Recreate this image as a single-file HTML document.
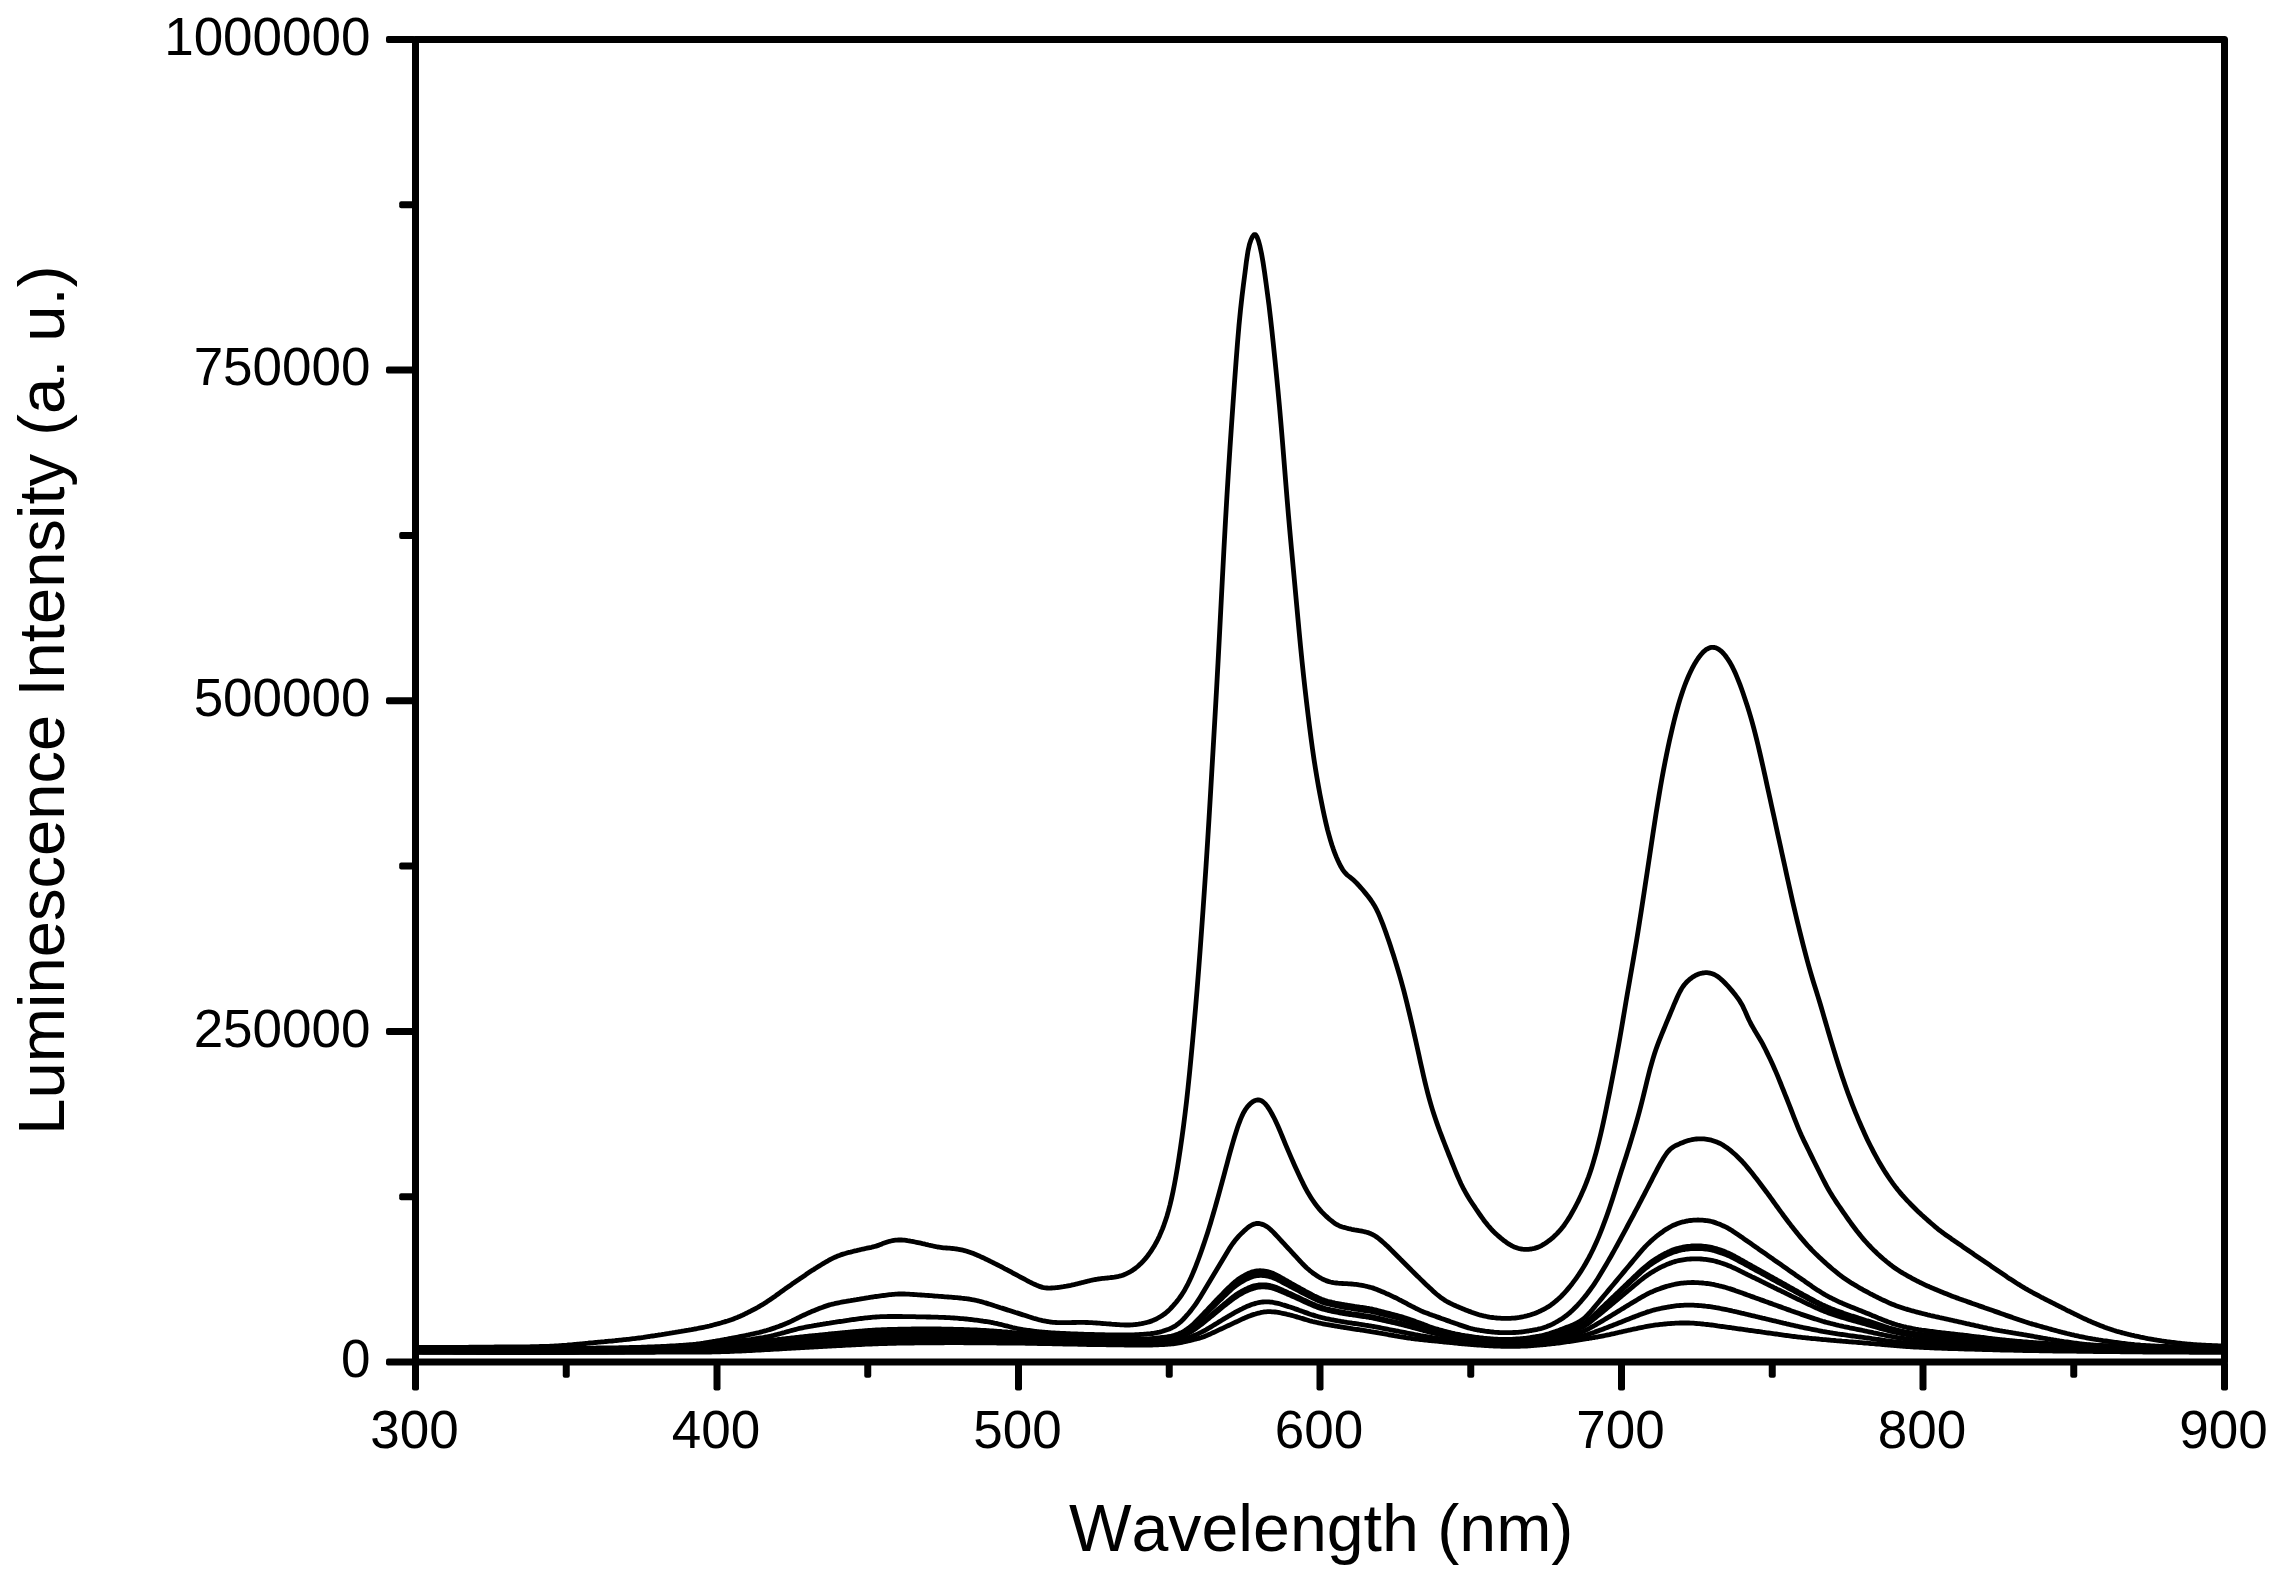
<!DOCTYPE html>
<html><head><meta charset="utf-8"><title>Luminescence spectra</title>
<style>
html,body{margin:0;padding:0;background:#fff;}
body{width:2283px;height:1584px;overflow:hidden;}
svg{display:block;}
text{font-kerning:none;font-family:"Liberation Sans",Arial,Helvetica,sans-serif;fill:#000;}
.ax{stroke:#000;stroke-width:7.0;fill:none;stroke-linecap:round;stroke-linejoin:round;}
.cv{stroke:#000;stroke-width:4.8;fill:none;stroke-linejoin:round;stroke-linecap:butt;}
.tl{font-size:53px;}
.al{font-size:65.5px;}
</style></head><body>
<svg width="2283" height="1584" viewBox="0 0 2283 1584">
<rect x="0" y="0" width="2283" height="1584" fill="#fff"/>
<clipPath id="pc"><rect x="415.5" y="39.5" width="1809.0" height="1322.5"/></clipPath>
<g clip-path="url(#pc)">
<path class="cv" d="M415.5,1347.5 L417.0,1347.5 L418.5,1347.5 L420.0,1347.5 L421.5,1347.5 L423.0,1347.5 L424.5,1347.5 L426.0,1347.5 L427.5,1347.5 L429.0,1347.5 L430.5,1347.5 L432.0,1347.5 L433.5,1347.5 L435.0,1347.5 L436.5,1347.5 L438.0,1347.4 L439.5,1347.4 L441.0,1347.4 L442.5,1347.4 L444.0,1347.4 L445.5,1347.4 L447.0,1347.4 L448.5,1347.4 L450.0,1347.4 L451.5,1347.4 L453.0,1347.4 L454.5,1347.4 L456.0,1347.3 L457.5,1347.3 L459.0,1347.3 L460.5,1347.3 L462.0,1347.3 L463.5,1347.3 L465.0,1347.3 L466.5,1347.3 L468.0,1347.3 L469.5,1347.2 L471.0,1347.2 L472.5,1347.2 L474.0,1347.2 L475.5,1347.2 L477.0,1347.2 L478.5,1347.2 L480.0,1347.2 L481.5,1347.2 L483.0,1347.1 L484.5,1347.1 L486.0,1347.1 L487.5,1347.1 L489.0,1347.1 L490.5,1347.1 L492.0,1347.1 L493.5,1347.1 L495.0,1347.0 L496.5,1347.0 L498.0,1347.0 L499.5,1347.0 L501.0,1347.0 L502.5,1347.0 L504.0,1347.0 L505.5,1347.0 L507.0,1347.0 L508.5,1346.9 L510.0,1346.9 L511.5,1346.9 L513.0,1346.9 L514.5,1346.9 L516.0,1346.9 L517.5,1346.9 L519.0,1346.9 L520.5,1346.9 L522.0,1346.8 L523.5,1346.8 L525.0,1346.8 L526.5,1346.8 L528.0,1346.8 L529.5,1346.8 L531.0,1346.7 L532.5,1346.7 L534.0,1346.7 L535.5,1346.7 L537.0,1346.6 L538.5,1346.6 L540.0,1346.5 L541.5,1346.5 L543.0,1346.5 L544.5,1346.4 L546.0,1346.4 L547.5,1346.3 L549.0,1346.3 L550.5,1346.2 L552.0,1346.1 L553.5,1346.1 L555.0,1346.0 L556.5,1345.9 L558.0,1345.8 L559.5,1345.7 L561.0,1345.6 L562.5,1345.5 L564.0,1345.4 L565.5,1345.3 L567.0,1345.2 L568.5,1345.0 L570.0,1344.9 L571.5,1344.8 L573.0,1344.6 L574.5,1344.5 L576.0,1344.4 L577.5,1344.2 L579.0,1344.1 L580.5,1343.9 L582.0,1343.8 L583.5,1343.6 L585.0,1343.5 L586.5,1343.3 L588.0,1343.2 L589.5,1343.0 L591.0,1342.9 L592.5,1342.8 L594.0,1342.6 L595.5,1342.5 L597.0,1342.4 L598.5,1342.2 L600.0,1342.1 L601.5,1341.9 L603.0,1341.8 L604.5,1341.7 L606.0,1341.5 L607.5,1341.4 L609.0,1341.2 L610.5,1341.1 L612.0,1341.0 L613.5,1340.8 L615.0,1340.7 L616.5,1340.5 L618.0,1340.4 L619.5,1340.2 L621.0,1340.1 L622.5,1339.9 L624.0,1339.7 L625.5,1339.6 L627.0,1339.4 L628.5,1339.3 L630.0,1339.1 L631.5,1338.9 L633.0,1338.7 L634.5,1338.6 L636.0,1338.4 L637.5,1338.2 L639.0,1338.0 L640.5,1337.8 L642.0,1337.6 L643.5,1337.4 L645.0,1337.1 L646.5,1336.9 L648.0,1336.7 L649.5,1336.5 L651.0,1336.2 L652.5,1336.0 L654.0,1335.8 L655.5,1335.5 L657.0,1335.3 L658.5,1335.0 L660.0,1334.8 L661.5,1334.6 L663.0,1334.3 L664.5,1334.1 L666.0,1333.8 L667.5,1333.6 L669.0,1333.4 L670.5,1333.1 L672.0,1332.9 L673.5,1332.6 L675.0,1332.4 L676.5,1332.1 L678.0,1331.9 L679.5,1331.6 L681.0,1331.4 L682.5,1331.1 L684.0,1330.9 L685.5,1330.6 L687.0,1330.3 L688.5,1330.1 L690.0,1329.8 L691.5,1329.6 L693.0,1329.3 L694.5,1329.0 L696.0,1328.8 L697.5,1328.5 L699.0,1328.2 L700.5,1327.9 L702.0,1327.6 L703.5,1327.3 L705.0,1327.0 L706.5,1326.7 L708.0,1326.3 L709.5,1326.0 L711.0,1325.6 L712.5,1325.2 L714.0,1324.8 L715.5,1324.4 L717.0,1324.0 L718.5,1323.6 L720.0,1323.2 L721.5,1322.8 L723.0,1322.3 L724.5,1321.9 L726.0,1321.4 L727.5,1321.0 L729.0,1320.5 L730.5,1320.0 L732.0,1319.5 L733.5,1318.9 L735.0,1318.3 L736.5,1317.8 L738.0,1317.1 L739.5,1316.5 L741.0,1315.8 L742.5,1315.2 L744.0,1314.5 L745.5,1313.7 L747.0,1313.0 L748.5,1312.2 L750.0,1311.5 L751.5,1310.7 L753.0,1309.9 L754.5,1309.1 L756.0,1308.3 L757.5,1307.5 L759.0,1306.6 L760.5,1305.7 L762.0,1304.9 L763.5,1304.0 L765.0,1303.0 L766.5,1302.1 L768.0,1301.1 L769.5,1300.1 L771.0,1299.0 L772.5,1298.0 L774.0,1296.9 L775.5,1295.9 L777.0,1294.8 L778.5,1293.7 L780.0,1292.6 L781.5,1291.5 L783.0,1290.5 L784.5,1289.4 L786.0,1288.3 L787.5,1287.3 L789.0,1286.2 L790.5,1285.2 L792.0,1284.1 L793.5,1283.1 L795.0,1282.0 L796.5,1281.0 L798.0,1280.0 L799.5,1279.0 L801.0,1277.9 L802.5,1276.9 L804.0,1275.9 L805.5,1274.9 L807.0,1273.8 L808.5,1272.8 L810.0,1271.8 L811.5,1270.8 L813.0,1269.9 L814.5,1268.9 L816.0,1268.0 L817.5,1267.0 L819.0,1266.1 L820.5,1265.2 L822.0,1264.3 L823.5,1263.4 L825.0,1262.5 L826.5,1261.6 L828.0,1260.8 L829.5,1259.9 L831.0,1259.1 L832.5,1258.4 L834.0,1257.7 L835.5,1257.0 L837.0,1256.3 L838.5,1255.7 L840.0,1255.2 L841.5,1254.6 L843.0,1254.1 L844.5,1253.7 L846.0,1253.3 L847.5,1252.8 L849.0,1252.4 L850.5,1252.1 L852.0,1251.7 L853.5,1251.3 L855.0,1250.9 L856.5,1250.6 L858.0,1250.2 L859.5,1249.9 L861.0,1249.5 L862.5,1249.2 L864.0,1248.9 L865.5,1248.5 L867.0,1248.2 L868.5,1247.9 L870.0,1247.6 L871.5,1247.3 L873.0,1246.9 L874.5,1246.5 L876.0,1246.1 L877.5,1245.6 L879.0,1245.1 L880.5,1244.5 L882.0,1243.9 L883.5,1243.2 L885.0,1242.7 L886.5,1242.2 L888.0,1241.7 L889.5,1241.3 L891.0,1241.0 L892.5,1240.7 L894.0,1240.4 L895.5,1240.2 L897.0,1240.1 L898.5,1240.0 L900.0,1240.0 L901.5,1240.0 L903.0,1240.1 L904.5,1240.2 L906.0,1240.4 L907.5,1240.7 L909.0,1240.9 L910.5,1241.2 L912.0,1241.4 L913.5,1241.7 L915.0,1242.0 L916.5,1242.3 L918.0,1242.6 L919.5,1242.9 L921.0,1243.2 L922.5,1243.6 L924.0,1243.9 L925.5,1244.3 L927.0,1244.6 L928.5,1245.0 L930.0,1245.3 L931.5,1245.7 L933.0,1246.0 L934.5,1246.3 L936.0,1246.7 L937.5,1247.0 L939.0,1247.2 L940.5,1247.4 L942.0,1247.6 L943.5,1247.8 L945.0,1247.9 L946.5,1248.0 L948.0,1248.1 L949.5,1248.2 L951.0,1248.4 L952.5,1248.5 L954.0,1248.6 L955.5,1248.8 L957.0,1249.0 L958.5,1249.3 L960.0,1249.6 L961.5,1249.9 L963.0,1250.2 L964.5,1250.6 L966.0,1251.0 L967.5,1251.5 L969.0,1252.0 L970.5,1252.5 L972.0,1253.0 L973.5,1253.6 L975.0,1254.2 L976.5,1254.8 L978.0,1255.5 L979.5,1256.1 L981.0,1256.8 L982.5,1257.5 L984.0,1258.2 L985.5,1259.0 L987.0,1259.7 L988.5,1260.4 L990.0,1261.2 L991.5,1261.9 L993.0,1262.6 L994.5,1263.4 L996.0,1264.1 L997.5,1264.9 L999.0,1265.7 L1000.5,1266.4 L1002.0,1267.2 L1003.5,1268.0 L1005.0,1268.8 L1006.5,1269.5 L1008.0,1270.3 L1009.5,1271.1 L1011.0,1271.9 L1012.5,1272.8 L1014.0,1273.6 L1015.5,1274.4 L1017.0,1275.2 L1018.5,1276.0 L1020.0,1276.8 L1021.5,1277.6 L1023.0,1278.4 L1024.5,1279.2 L1026.0,1280.0 L1027.5,1280.8 L1029.0,1281.6 L1030.5,1282.3 L1032.0,1283.1 L1033.5,1283.8 L1035.0,1284.5 L1036.5,1285.2 L1038.0,1285.8 L1039.5,1286.4 L1041.0,1286.9 L1042.5,1287.4 L1044.0,1287.7 L1045.5,1287.9 L1047.0,1288.0 L1048.5,1288.1 L1050.0,1288.1 L1051.5,1288.0 L1053.0,1287.9 L1054.5,1287.8 L1056.0,1287.6 L1057.5,1287.5 L1059.0,1287.3 L1060.5,1287.1 L1062.0,1286.9 L1063.5,1286.7 L1065.0,1286.4 L1066.5,1286.2 L1068.0,1285.9 L1069.5,1285.6 L1071.0,1285.3 L1072.5,1284.9 L1074.0,1284.6 L1075.5,1284.2 L1077.0,1283.9 L1078.5,1283.5 L1080.0,1283.1 L1081.5,1282.7 L1083.0,1282.4 L1084.5,1282.0 L1086.0,1281.6 L1087.5,1281.2 L1089.0,1280.9 L1090.5,1280.5 L1092.0,1280.2 L1093.5,1279.8 L1095.0,1279.5 L1096.5,1279.3 L1098.0,1279.0 L1099.5,1278.8 L1101.0,1278.6 L1102.5,1278.4 L1104.0,1278.3 L1105.5,1278.1 L1107.0,1278.0 L1108.5,1277.8 L1110.0,1277.7 L1111.5,1277.5 L1113.0,1277.4 L1114.5,1277.2 L1116.0,1276.9 L1117.5,1276.7 L1119.0,1276.3 L1120.5,1275.9 L1122.0,1275.5 L1123.5,1274.9 L1125.0,1274.3 L1126.5,1273.6 L1128.0,1272.9 L1129.5,1272.2 L1131.0,1271.3 L1132.5,1270.4 L1134.0,1269.3 L1135.5,1268.2 L1137.0,1267.0 L1138.5,1265.7 L1140.0,1264.3 L1141.5,1262.9 L1143.0,1261.3 L1144.5,1259.7 L1146.0,1257.9 L1147.5,1256.0 L1149.0,1254.0 L1150.5,1251.8 L1152.0,1249.6 L1153.5,1247.2 L1155.0,1244.7 L1156.5,1242.0 L1158.0,1239.1 L1159.5,1235.9 L1161.0,1232.4 L1162.5,1228.8 L1164.0,1224.8 L1165.5,1220.5 L1167.0,1215.9 L1168.5,1210.7 L1170.0,1205.0 L1171.5,1198.6 L1173.0,1191.7 L1174.5,1184.1 L1176.0,1175.9 L1177.5,1167.1 L1179.0,1157.6 L1180.5,1147.7 L1182.0,1137.2 L1183.5,1126.1 L1185.0,1114.3 L1186.5,1101.7 L1188.0,1088.1 L1189.5,1073.5 L1191.0,1058.1 L1192.5,1042.1 L1194.0,1025.5 L1195.5,1008.4 L1197.0,990.5 L1198.5,971.6 L1200.0,951.9 L1201.5,931.4 L1203.0,910.3 L1204.5,888.6 L1206.0,866.4 L1207.5,843.2 L1209.0,818.9 L1210.5,793.8 L1212.0,768.2 L1213.5,742.5 L1215.0,716.7 L1216.5,690.3 L1218.0,663.0 L1219.5,634.5 L1221.0,605.4 L1222.5,576.3 L1224.0,547.9 L1225.5,520.7 L1227.0,494.9 L1228.5,470.6 L1230.0,447.5 L1231.5,425.4 L1233.0,403.8 L1234.5,382.7 L1236.0,362.3 L1237.5,342.9 L1239.0,325.3 L1240.5,309.9 L1242.0,296.4 L1243.5,284.3 L1245.0,272.8 L1246.5,260.8 L1248.0,251.0 L1249.5,244.3 L1251.0,239.7 L1252.5,236.6 L1254.0,234.6 L1255.5,234.6 L1257.0,236.8 L1258.5,240.8 L1260.0,246.4 L1261.5,253.4 L1263.0,262.0 L1264.5,271.8 L1266.0,282.8 L1267.5,294.0 L1269.0,305.3 L1270.5,318.1 L1272.0,331.6 L1273.5,345.7 L1275.0,360.2 L1276.5,375.2 L1278.0,390.7 L1279.5,406.9 L1281.0,424.1 L1282.5,442.1 L1284.0,460.7 L1285.5,479.5 L1287.0,498.0 L1288.5,515.7 L1290.0,532.7 L1291.5,549.1 L1293.0,565.3 L1294.5,581.4 L1296.0,597.7 L1297.5,614.0 L1299.0,630.2 L1300.5,646.0 L1302.0,661.1 L1303.5,675.3 L1305.0,688.8 L1306.5,701.8 L1308.0,714.3 L1309.5,726.4 L1311.0,738.0 L1312.5,749.0 L1314.0,759.3 L1315.5,768.9 L1317.0,777.9 L1318.5,786.5 L1320.0,794.6 L1321.5,802.3 L1323.0,809.7 L1324.5,816.8 L1326.0,823.4 L1327.5,829.6 L1329.0,835.2 L1330.5,840.4 L1332.0,845.2 L1333.5,849.6 L1335.0,853.7 L1336.5,857.4 L1338.0,860.8 L1339.5,863.9 L1341.0,866.8 L1342.5,869.3 L1344.0,871.5 L1345.5,873.3 L1347.0,874.8 L1348.5,876.0 L1350.0,877.2 L1351.5,878.4 L1353.0,879.6 L1354.5,881.0 L1356.0,882.4 L1357.5,884.0 L1359.0,885.6 L1360.5,887.3 L1362.0,889.0 L1363.5,890.8 L1365.0,892.6 L1366.5,894.4 L1368.0,896.3 L1369.5,898.3 L1371.0,900.3 L1372.5,902.5 L1374.0,904.9 L1375.5,907.5 L1377.0,910.4 L1378.5,913.6 L1380.0,917.1 L1381.5,920.8 L1383.0,924.7 L1384.5,928.8 L1386.0,932.9 L1387.5,937.2 L1389.0,941.6 L1390.5,946.1 L1392.0,950.7 L1393.5,955.3 L1395.0,960.1 L1396.5,965.0 L1398.0,970.0 L1399.5,975.1 L1401.0,980.3 L1402.5,985.8 L1404.0,991.4 L1405.5,997.3 L1407.0,1003.4 L1408.5,1009.6 L1410.0,1015.9 L1411.5,1022.3 L1413.0,1028.8 L1414.5,1035.4 L1416.0,1042.1 L1417.5,1048.8 L1419.0,1055.6 L1420.5,1062.4 L1422.0,1069.1 L1423.5,1075.7 L1425.0,1082.1 L1426.5,1088.2 L1428.0,1094.1 L1429.5,1099.6 L1431.0,1104.9 L1432.5,1109.9 L1434.0,1114.6 L1435.5,1119.1 L1437.0,1123.4 L1438.5,1127.6 L1440.0,1131.7 L1441.5,1135.7 L1443.0,1139.6 L1444.5,1143.5 L1446.0,1147.4 L1447.5,1151.2 L1449.0,1155.0 L1450.5,1158.7 L1452.0,1162.5 L1453.5,1166.2 L1455.0,1169.9 L1456.5,1173.5 L1458.0,1177.0 L1459.5,1180.4 L1461.0,1183.7 L1462.5,1186.7 L1464.0,1189.7 L1465.5,1192.4 L1467.0,1195.0 L1468.5,1197.5 L1470.0,1199.9 L1471.5,1202.2 L1473.0,1204.5 L1474.5,1206.7 L1476.0,1209.0 L1477.5,1211.2 L1479.0,1213.4 L1480.5,1215.5 L1482.0,1217.6 L1483.5,1219.7 L1485.0,1221.7 L1486.5,1223.6 L1488.0,1225.5 L1489.5,1227.2 L1491.0,1228.9 L1492.5,1230.5 L1494.0,1232.0 L1495.5,1233.4 L1497.0,1234.8 L1498.5,1236.1 L1500.0,1237.4 L1501.5,1238.7 L1503.0,1239.9 L1504.5,1241.1 L1506.0,1242.1 L1507.5,1243.2 L1509.0,1244.1 L1510.5,1245.0 L1512.0,1245.9 L1513.5,1246.6 L1515.0,1247.3 L1516.5,1247.8 L1518.0,1248.3 L1519.5,1248.7 L1521.0,1249.0 L1522.5,1249.2 L1524.0,1249.3 L1525.5,1249.4 L1527.0,1249.4 L1528.5,1249.4 L1530.0,1249.2 L1531.5,1249.0 L1533.0,1248.7 L1534.5,1248.4 L1536.0,1247.9 L1537.5,1247.4 L1539.0,1246.8 L1540.5,1246.1 L1542.0,1245.3 L1543.5,1244.4 L1545.0,1243.5 L1546.5,1242.5 L1548.0,1241.4 L1549.5,1240.3 L1551.0,1239.1 L1552.5,1237.9 L1554.0,1236.5 L1555.5,1235.1 L1557.0,1233.6 L1558.5,1232.0 L1560.0,1230.3 L1561.5,1228.6 L1563.0,1226.7 L1564.5,1224.7 L1566.0,1222.5 L1567.5,1220.2 L1569.0,1217.9 L1570.5,1215.4 L1572.0,1212.8 L1573.5,1210.1 L1575.0,1207.4 L1576.5,1204.5 L1578.0,1201.6 L1579.5,1198.5 L1581.0,1195.3 L1582.5,1191.9 L1584.0,1188.5 L1585.5,1184.8 L1587.0,1181.0 L1588.5,1177.0 L1590.0,1172.7 L1591.5,1168.2 L1593.0,1163.4 L1594.5,1158.2 L1596.0,1152.8 L1597.5,1147.1 L1599.0,1141.2 L1600.5,1135.0 L1602.0,1128.5 L1603.5,1121.7 L1605.0,1114.7 L1606.5,1107.5 L1608.0,1100.1 L1609.5,1092.7 L1611.0,1085.1 L1612.5,1077.4 L1614.0,1069.6 L1615.5,1061.8 L1617.0,1053.8 L1618.5,1045.5 L1620.0,1037.1 L1621.5,1028.4 L1623.0,1019.5 L1624.5,1010.6 L1626.0,1001.7 L1627.5,992.9 L1629.0,984.3 L1630.5,975.7 L1632.0,967.1 L1633.5,958.5 L1635.0,949.7 L1636.5,940.8 L1638.0,931.6 L1639.5,922.2 L1641.0,912.6 L1642.5,902.9 L1644.0,893.1 L1645.5,883.2 L1647.0,873.3 L1648.5,863.3 L1650.0,853.3 L1651.5,843.3 L1653.0,833.4 L1654.5,823.6 L1656.0,813.9 L1657.5,804.6 L1659.0,795.5 L1660.5,786.7 L1662.0,778.2 L1663.5,770.0 L1665.0,762.2 L1666.5,754.7 L1668.0,747.5 L1669.5,740.6 L1671.0,733.9 L1672.5,727.5 L1674.0,721.3 L1675.5,715.4 L1677.0,709.8 L1678.5,704.4 L1680.0,699.4 L1681.5,694.7 L1683.0,690.2 L1684.5,686.0 L1686.0,682.1 L1687.5,678.5 L1689.0,675.0 L1690.5,671.8 L1692.0,668.7 L1693.5,665.9 L1695.0,663.2 L1696.5,660.8 L1698.0,658.5 L1699.5,656.4 L1701.0,654.5 L1702.5,652.8 L1704.0,651.3 L1705.5,650.1 L1707.0,649.1 L1708.5,648.3 L1710.0,647.7 L1711.5,647.4 L1713.0,647.3 L1714.5,647.5 L1716.0,647.9 L1717.5,648.6 L1719.0,649.5 L1720.5,650.6 L1722.0,651.9 L1723.5,653.5 L1725.0,655.3 L1726.5,657.3 L1728.0,659.4 L1729.5,661.8 L1731.0,664.4 L1732.5,667.2 L1734.0,670.3 L1735.5,673.6 L1737.0,677.1 L1738.5,680.8 L1740.0,684.7 L1741.5,688.8 L1743.0,693.0 L1744.5,697.4 L1746.0,701.9 L1747.5,706.6 L1749.0,711.4 L1750.5,716.4 L1752.0,721.6 L1753.5,727.1 L1755.0,732.9 L1756.5,738.8 L1758.0,745.0 L1759.5,751.4 L1761.0,757.9 L1762.5,764.5 L1764.0,771.2 L1765.5,778.0 L1767.0,784.9 L1768.5,791.7 L1770.0,798.6 L1771.5,805.4 L1773.0,812.3 L1774.5,819.1 L1776.0,826.0 L1777.5,832.9 L1779.0,839.7 L1780.5,846.6 L1782.0,853.4 L1783.5,860.3 L1785.0,867.1 L1786.5,874.0 L1788.0,880.8 L1789.5,887.6 L1791.0,894.3 L1792.5,901.0 L1794.0,907.4 L1795.5,913.8 L1797.0,920.1 L1798.5,926.3 L1800.0,932.4 L1801.5,938.4 L1803.0,944.4 L1804.5,950.2 L1806.0,955.9 L1807.5,961.5 L1809.0,966.9 L1810.5,972.2 L1812.0,977.3 L1813.5,982.2 L1815.0,987.0 L1816.5,991.8 L1818.0,996.6 L1819.5,1001.5 L1821.0,1006.5 L1822.5,1011.6 L1824.0,1016.8 L1825.5,1022.0 L1827.0,1027.2 L1828.5,1032.3 L1830.0,1037.4 L1831.5,1042.4 L1833.0,1047.4 L1834.5,1052.3 L1836.0,1057.2 L1837.5,1061.9 L1839.0,1066.7 L1840.5,1071.3 L1842.0,1075.9 L1843.5,1080.3 L1845.0,1084.7 L1846.5,1089.0 L1848.0,1093.2 L1849.5,1097.2 L1851.0,1101.2 L1852.5,1105.1 L1854.0,1108.8 L1855.5,1112.6 L1857.0,1116.2 L1858.5,1119.8 L1860.0,1123.3 L1861.5,1126.8 L1863.0,1130.1 L1864.5,1133.4 L1866.0,1136.7 L1867.5,1139.9 L1869.0,1143.0 L1870.5,1146.0 L1872.0,1148.9 L1873.5,1151.8 L1875.0,1154.7 L1876.5,1157.4 L1878.0,1160.1 L1879.5,1162.8 L1881.0,1165.3 L1882.5,1167.8 L1884.0,1170.3 L1885.5,1172.6 L1887.0,1174.9 L1888.5,1177.2 L1890.0,1179.3 L1891.5,1181.5 L1893.0,1183.6 L1894.5,1185.6 L1896.0,1187.6 L1897.5,1189.5 L1899.0,1191.3 L1900.5,1193.1 L1902.0,1194.9 L1903.5,1196.5 L1905.0,1198.2 L1906.5,1199.8 L1908.0,1201.4 L1909.5,1202.9 L1911.0,1204.5 L1912.5,1206.0 L1914.0,1207.5 L1915.5,1209.0 L1917.0,1210.5 L1918.5,1211.9 L1920.0,1213.3 L1921.5,1214.7 L1923.0,1216.0 L1924.5,1217.4 L1926.0,1218.7 L1927.5,1220.1 L1929.0,1221.4 L1930.5,1222.7 L1932.0,1224.0 L1933.5,1225.3 L1935.0,1226.6 L1936.5,1227.8 L1938.0,1229.1 L1939.5,1230.3 L1941.0,1231.4 L1942.5,1232.5 L1944.0,1233.6 L1945.5,1234.7 L1947.0,1235.8 L1948.5,1236.8 L1950.0,1237.8 L1951.5,1238.9 L1953.0,1239.9 L1954.5,1241.0 L1956.0,1242.0 L1957.5,1243.0 L1959.0,1244.1 L1960.5,1245.1 L1962.0,1246.1 L1963.5,1247.2 L1965.0,1248.2 L1966.5,1249.2 L1968.0,1250.2 L1969.5,1251.3 L1971.0,1252.3 L1972.5,1253.3 L1974.0,1254.4 L1975.5,1255.4 L1977.0,1256.4 L1978.5,1257.4 L1980.0,1258.5 L1981.5,1259.5 L1983.0,1260.5 L1984.5,1261.5 L1986.0,1262.6 L1987.5,1263.6 L1989.0,1264.6 L1990.5,1265.6 L1992.0,1266.7 L1993.5,1267.7 L1995.0,1268.7 L1996.5,1269.7 L1998.0,1270.8 L1999.5,1271.8 L2001.0,1272.8 L2002.5,1273.8 L2004.0,1274.8 L2005.5,1275.8 L2007.0,1276.9 L2008.5,1277.9 L2010.0,1278.9 L2011.5,1279.8 L2013.0,1280.8 L2014.5,1281.8 L2016.0,1282.8 L2017.5,1283.7 L2019.0,1284.6 L2020.5,1285.6 L2022.0,1286.5 L2023.5,1287.4 L2025.0,1288.3 L2026.5,1289.1 L2028.0,1290.0 L2029.5,1290.8 L2031.0,1291.7 L2032.5,1292.5 L2034.0,1293.3 L2035.5,1294.1 L2037.0,1294.9 L2038.5,1295.7 L2040.0,1296.5 L2041.5,1297.3 L2043.0,1298.0 L2044.5,1298.8 L2046.0,1299.6 L2047.5,1300.4 L2049.0,1301.1 L2050.5,1301.9 L2052.0,1302.7 L2053.5,1303.4 L2055.0,1304.2 L2056.5,1305.0 L2058.0,1305.7 L2059.5,1306.5 L2061.0,1307.2 L2062.5,1308.0 L2064.0,1308.7 L2065.5,1309.5 L2067.0,1310.3 L2068.5,1311.0 L2070.0,1311.7 L2071.5,1312.5 L2073.0,1313.2 L2074.5,1314.0 L2076.0,1314.7 L2077.5,1315.4 L2079.0,1316.2 L2080.5,1316.9 L2082.0,1317.6 L2083.5,1318.3 L2085.0,1319.0 L2086.5,1319.7 L2088.0,1320.4 L2089.5,1321.0 L2091.0,1321.7 L2092.5,1322.3 L2094.0,1323.0 L2095.5,1323.6 L2097.0,1324.2 L2098.5,1324.8 L2100.0,1325.4 L2101.5,1326.0 L2103.0,1326.6 L2104.5,1327.2 L2106.0,1327.7 L2107.5,1328.3 L2109.0,1328.8 L2110.5,1329.3 L2112.0,1329.8 L2113.5,1330.3 L2115.0,1330.7 L2116.5,1331.2 L2118.0,1331.6 L2119.5,1332.0 L2121.0,1332.4 L2122.5,1332.9 L2124.0,1333.2 L2125.5,1333.6 L2127.0,1334.0 L2128.5,1334.4 L2130.0,1334.7 L2131.5,1335.1 L2133.0,1335.4 L2134.5,1335.8 L2136.0,1336.1 L2137.5,1336.4 L2139.0,1336.7 L2140.5,1337.1 L2142.0,1337.4 L2143.5,1337.7 L2145.0,1338.0 L2146.5,1338.3 L2148.0,1338.6 L2149.5,1338.8 L2151.0,1339.1 L2152.5,1339.4 L2154.0,1339.7 L2155.5,1339.9 L2157.0,1340.2 L2158.5,1340.4 L2160.0,1340.6 L2161.5,1340.9 L2163.0,1341.1 L2164.5,1341.3 L2166.0,1341.5 L2167.5,1341.8 L2169.0,1342.0 L2170.5,1342.2 L2172.0,1342.4 L2173.5,1342.5 L2175.0,1342.7 L2176.5,1342.9 L2178.0,1343.1 L2179.5,1343.2 L2181.0,1343.4 L2182.5,1343.6 L2184.0,1343.7 L2185.5,1343.8 L2187.0,1344.0 L2188.5,1344.1 L2190.0,1344.2 L2191.5,1344.3 L2193.0,1344.5 L2194.5,1344.6 L2196.0,1344.7 L2197.5,1344.8 L2199.0,1344.9 L2200.5,1345.0 L2202.0,1345.1 L2203.5,1345.2 L2205.0,1345.2 L2206.5,1345.3 L2208.0,1345.4 L2209.5,1345.4 L2211.0,1345.5 L2212.5,1345.6 L2214.0,1345.6 L2215.5,1345.7 L2217.0,1345.7 L2218.5,1345.8 L2220.0,1345.8 L2221.5,1345.8 L2223.0,1345.9 L2224.5,1345.9"/>
<path class="cv" d="M415.5,1349.0 L417.0,1349.0 L418.5,1349.0 L420.0,1349.0 L421.5,1349.1 L423.0,1349.1 L424.5,1349.1 L426.0,1349.1 L427.5,1349.1 L429.0,1349.1 L430.5,1349.1 L432.0,1349.1 L433.5,1349.1 L435.0,1349.1 L436.5,1349.2 L438.0,1349.2 L439.5,1349.2 L441.0,1349.2 L442.5,1349.2 L444.0,1349.2 L445.5,1349.2 L447.0,1349.2 L448.5,1349.2 L450.0,1349.2 L451.5,1349.2 L453.0,1349.2 L454.5,1349.2 L456.0,1349.2 L457.5,1349.2 L459.0,1349.2 L460.5,1349.2 L462.0,1349.2 L463.5,1349.2 L465.0,1349.2 L466.5,1349.2 L468.0,1349.2 L469.5,1349.2 L471.0,1349.2 L472.5,1349.2 L474.0,1349.2 L475.5,1349.2 L477.0,1349.2 L478.5,1349.2 L480.0,1349.2 L481.5,1349.2 L483.0,1349.1 L484.5,1349.1 L486.0,1349.1 L487.5,1349.1 L489.0,1349.1 L490.5,1349.1 L492.0,1349.1 L493.5,1349.1 L495.0,1349.1 L496.5,1349.1 L498.0,1349.1 L499.5,1349.1 L501.0,1349.0 L502.5,1349.0 L504.0,1349.0 L505.5,1349.0 L507.0,1349.0 L508.5,1349.0 L510.0,1349.0 L511.5,1349.0 L513.0,1349.0 L514.5,1348.9 L516.0,1348.9 L517.5,1348.9 L519.0,1348.9 L520.5,1348.9 L522.0,1348.9 L523.5,1348.9 L525.0,1348.9 L526.5,1348.8 L528.0,1348.8 L529.5,1348.8 L531.0,1348.8 L532.5,1348.8 L534.0,1348.8 L535.5,1348.7 L537.0,1348.7 L538.5,1348.7 L540.0,1348.7 L541.5,1348.7 L543.0,1348.7 L544.5,1348.7 L546.0,1348.6 L547.5,1348.6 L549.0,1348.6 L550.5,1348.6 L552.0,1348.6 L553.5,1348.6 L555.0,1348.5 L556.5,1348.5 L558.0,1348.5 L559.5,1348.5 L561.0,1348.5 L562.5,1348.4 L564.0,1348.4 L565.5,1348.4 L567.0,1348.4 L568.5,1348.4 L570.0,1348.4 L571.5,1348.3 L573.0,1348.3 L574.5,1348.3 L576.0,1348.3 L577.5,1348.3 L579.0,1348.3 L580.5,1348.2 L582.0,1348.2 L583.5,1348.2 L585.0,1348.2 L586.5,1348.2 L588.0,1348.1 L589.5,1348.1 L591.0,1348.1 L592.5,1348.1 L594.0,1348.1 L595.5,1348.1 L597.0,1348.0 L598.5,1348.0 L600.0,1348.0 L601.5,1348.0 L603.0,1348.0 L604.5,1347.9 L606.0,1347.9 L607.5,1347.9 L609.0,1347.9 L610.5,1347.9 L612.0,1347.8 L613.5,1347.8 L615.0,1347.8 L616.5,1347.8 L618.0,1347.8 L619.5,1347.7 L621.0,1347.7 L622.5,1347.7 L624.0,1347.6 L625.5,1347.6 L627.0,1347.6 L628.5,1347.6 L630.0,1347.5 L631.5,1347.5 L633.0,1347.5 L634.5,1347.4 L636.0,1347.4 L637.5,1347.3 L639.0,1347.3 L640.5,1347.3 L642.0,1347.2 L643.5,1347.2 L645.0,1347.1 L646.5,1347.1 L648.0,1347.0 L649.5,1347.0 L651.0,1346.9 L652.5,1346.9 L654.0,1346.8 L655.5,1346.7 L657.0,1346.7 L658.5,1346.6 L660.0,1346.6 L661.5,1346.5 L663.0,1346.4 L664.5,1346.3 L666.0,1346.3 L667.5,1346.2 L669.0,1346.1 L670.5,1346.0 L672.0,1346.0 L673.5,1345.9 L675.0,1345.8 L676.5,1345.7 L678.0,1345.6 L679.5,1345.5 L681.0,1345.4 L682.5,1345.3 L684.0,1345.2 L685.5,1345.1 L687.0,1345.0 L688.5,1344.9 L690.0,1344.7 L691.5,1344.6 L693.0,1344.5 L694.5,1344.3 L696.0,1344.2 L697.5,1344.0 L699.0,1343.8 L700.5,1343.6 L702.0,1343.4 L703.5,1343.2 L705.0,1342.9 L706.5,1342.7 L708.0,1342.5 L709.5,1342.2 L711.0,1342.0 L712.5,1341.7 L714.0,1341.4 L715.5,1341.2 L717.0,1340.9 L718.5,1340.6 L720.0,1340.4 L721.5,1340.1 L723.0,1339.8 L724.5,1339.5 L726.0,1339.3 L727.5,1339.0 L729.0,1338.7 L730.5,1338.5 L732.0,1338.2 L733.5,1337.9 L735.0,1337.6 L736.5,1337.3 L738.0,1337.0 L739.5,1336.7 L741.0,1336.4 L742.5,1336.1 L744.0,1335.8 L745.5,1335.5 L747.0,1335.2 L748.5,1334.9 L750.0,1334.5 L751.5,1334.2 L753.0,1333.9 L754.5,1333.5 L756.0,1333.2 L757.5,1332.8 L759.0,1332.5 L760.5,1332.1 L762.0,1331.7 L763.5,1331.3 L765.0,1330.9 L766.5,1330.5 L768.0,1330.0 L769.5,1329.6 L771.0,1329.1 L772.5,1328.6 L774.0,1328.1 L775.5,1327.6 L777.0,1327.0 L778.5,1326.5 L780.0,1325.9 L781.5,1325.4 L783.0,1324.8 L784.5,1324.2 L786.0,1323.6 L787.5,1322.9 L789.0,1322.3 L790.5,1321.6 L792.0,1320.9 L793.5,1320.1 L795.0,1319.4 L796.5,1318.7 L798.0,1317.9 L799.5,1317.2 L801.0,1316.4 L802.5,1315.7 L804.0,1315.0 L805.5,1314.3 L807.0,1313.6 L808.5,1312.9 L810.0,1312.3 L811.5,1311.6 L813.0,1311.0 L814.5,1310.4 L816.0,1309.8 L817.5,1309.2 L819.0,1308.6 L820.5,1308.0 L822.0,1307.5 L823.5,1306.9 L825.0,1306.4 L826.5,1305.9 L828.0,1305.4 L829.5,1304.9 L831.0,1304.5 L832.5,1304.1 L834.0,1303.8 L835.5,1303.4 L837.0,1303.1 L838.5,1302.8 L840.0,1302.5 L841.5,1302.2 L843.0,1301.9 L844.5,1301.6 L846.0,1301.4 L847.5,1301.1 L849.0,1300.8 L850.5,1300.6 L852.0,1300.3 L853.5,1300.1 L855.0,1299.8 L856.5,1299.6 L858.0,1299.3 L859.5,1299.1 L861.0,1298.8 L862.5,1298.6 L864.0,1298.4 L865.5,1298.1 L867.0,1297.9 L868.5,1297.7 L870.0,1297.4 L871.5,1297.2 L873.0,1297.0 L874.5,1296.7 L876.0,1296.5 L877.5,1296.3 L879.0,1296.1 L880.5,1295.9 L882.0,1295.7 L883.5,1295.5 L885.0,1295.3 L886.5,1295.1 L888.0,1294.9 L889.5,1294.7 L891.0,1294.6 L892.5,1294.4 L894.0,1294.3 L895.5,1294.2 L897.0,1294.1 L898.5,1294.0 L900.0,1294.0 L901.5,1294.0 L903.0,1294.0 L904.5,1294.0 L906.0,1294.1 L907.5,1294.1 L909.0,1294.2 L910.5,1294.3 L912.0,1294.4 L913.5,1294.5 L915.0,1294.6 L916.5,1294.7 L918.0,1294.8 L919.5,1294.9 L921.0,1295.0 L922.5,1295.1 L924.0,1295.2 L925.5,1295.3 L927.0,1295.4 L928.5,1295.5 L930.0,1295.6 L931.5,1295.7 L933.0,1295.8 L934.5,1296.0 L936.0,1296.1 L937.5,1296.2 L939.0,1296.3 L940.5,1296.4 L942.0,1296.5 L943.5,1296.6 L945.0,1296.8 L946.5,1296.9 L948.0,1297.0 L949.5,1297.1 L951.0,1297.2 L952.5,1297.4 L954.0,1297.5 L955.5,1297.6 L957.0,1297.7 L958.5,1297.9 L960.0,1298.0 L961.5,1298.2 L963.0,1298.3 L964.5,1298.5 L966.0,1298.6 L967.5,1298.8 L969.0,1299.0 L970.5,1299.3 L972.0,1299.6 L973.5,1299.8 L975.0,1300.2 L976.5,1300.5 L978.0,1300.8 L979.5,1301.2 L981.0,1301.6 L982.5,1302.0 L984.0,1302.5 L985.5,1302.9 L987.0,1303.4 L988.5,1303.9 L990.0,1304.3 L991.5,1304.8 L993.0,1305.3 L994.5,1305.8 L996.0,1306.2 L997.5,1306.7 L999.0,1307.2 L1000.5,1307.7 L1002.0,1308.1 L1003.5,1308.6 L1005.0,1309.1 L1006.5,1309.6 L1008.0,1310.1 L1009.5,1310.5 L1011.0,1311.0 L1012.5,1311.5 L1014.0,1312.0 L1015.5,1312.5 L1017.0,1312.9 L1018.5,1313.4 L1020.0,1313.9 L1021.5,1314.4 L1023.0,1314.9 L1024.5,1315.3 L1026.0,1315.8 L1027.5,1316.3 L1029.0,1316.8 L1030.5,1317.2 L1032.0,1317.7 L1033.5,1318.2 L1035.0,1318.6 L1036.5,1319.0 L1038.0,1319.5 L1039.5,1319.9 L1041.0,1320.2 L1042.5,1320.6 L1044.0,1320.9 L1045.5,1321.2 L1047.0,1321.5 L1048.5,1321.7 L1050.0,1322.0 L1051.5,1322.1 L1053.0,1322.3 L1054.5,1322.4 L1056.0,1322.5 L1057.5,1322.6 L1059.0,1322.6 L1060.5,1322.7 L1062.0,1322.7 L1063.5,1322.7 L1065.0,1322.7 L1066.5,1322.7 L1068.0,1322.7 L1069.5,1322.6 L1071.0,1322.6 L1072.5,1322.5 L1074.0,1322.5 L1075.5,1322.5 L1077.0,1322.4 L1078.5,1322.4 L1080.0,1322.4 L1081.5,1322.4 L1083.0,1322.4 L1084.5,1322.4 L1086.0,1322.5 L1087.5,1322.5 L1089.0,1322.6 L1090.5,1322.7 L1092.0,1322.7 L1093.5,1322.8 L1095.0,1322.9 L1096.5,1323.0 L1098.0,1323.1 L1099.5,1323.2 L1101.0,1323.4 L1102.5,1323.5 L1104.0,1323.6 L1105.5,1323.7 L1107.0,1323.8 L1108.5,1323.9 L1110.0,1324.0 L1111.5,1324.2 L1113.0,1324.3 L1114.5,1324.4 L1116.0,1324.5 L1117.5,1324.6 L1119.0,1324.7 L1120.5,1324.8 L1122.0,1324.8 L1123.5,1324.9 L1125.0,1325.0 L1126.5,1325.0 L1128.0,1325.0 L1129.5,1325.0 L1131.0,1324.9 L1132.5,1324.8 L1134.0,1324.6 L1135.5,1324.5 L1137.0,1324.3 L1138.5,1324.1 L1140.0,1323.8 L1141.5,1323.6 L1143.0,1323.3 L1144.5,1323.0 L1146.0,1322.7 L1147.5,1322.3 L1149.0,1321.9 L1150.5,1321.4 L1152.0,1320.9 L1153.5,1320.2 L1155.0,1319.6 L1156.5,1318.8 L1158.0,1318.0 L1159.5,1317.2 L1161.0,1316.3 L1162.5,1315.4 L1164.0,1314.3 L1165.5,1313.2 L1167.0,1311.9 L1168.5,1310.6 L1170.0,1309.1 L1171.5,1307.5 L1173.0,1305.9 L1174.5,1304.2 L1176.0,1302.5 L1177.5,1300.6 L1179.0,1298.6 L1180.5,1296.5 L1182.0,1294.3 L1183.5,1291.9 L1185.0,1289.4 L1186.5,1286.6 L1188.0,1283.8 L1189.5,1280.7 L1191.0,1277.5 L1192.5,1274.1 L1194.0,1270.5 L1195.5,1266.8 L1197.0,1262.9 L1198.5,1259.0 L1200.0,1254.9 L1201.5,1250.7 L1203.0,1246.4 L1204.5,1242.0 L1206.0,1237.5 L1207.5,1232.9 L1209.0,1228.1 L1210.5,1223.2 L1212.0,1218.1 L1213.5,1213.0 L1215.0,1207.8 L1216.5,1202.5 L1218.0,1197.1 L1219.5,1191.7 L1221.0,1186.2 L1222.5,1180.7 L1224.0,1175.1 L1225.5,1169.4 L1227.0,1163.8 L1228.5,1158.2 L1230.0,1152.7 L1231.5,1147.3 L1233.0,1142.1 L1234.5,1137.0 L1236.0,1132.2 L1237.5,1127.6 L1239.0,1123.3 L1240.5,1119.4 L1242.0,1115.9 L1243.5,1112.8 L1245.0,1110.2 L1246.5,1108.0 L1248.0,1106.1 L1249.5,1104.5 L1251.0,1103.1 L1252.5,1101.9 L1254.0,1101.0 L1255.5,1100.3 L1257.0,1100.0 L1258.5,1100.0 L1260.0,1100.2 L1261.5,1100.8 L1263.0,1101.8 L1264.5,1103.0 L1266.0,1104.7 L1267.5,1106.6 L1269.0,1108.9 L1270.5,1111.3 L1272.0,1114.0 L1273.5,1116.8 L1275.0,1119.8 L1276.5,1123.0 L1278.0,1126.3 L1279.5,1129.8 L1281.0,1133.4 L1282.5,1137.0 L1284.0,1140.6 L1285.5,1144.3 L1287.0,1147.9 L1288.5,1151.4 L1290.0,1154.9 L1291.5,1158.4 L1293.0,1161.8 L1294.5,1165.2 L1296.0,1168.5 L1297.5,1171.8 L1299.0,1175.0 L1300.5,1178.2 L1302.0,1181.3 L1303.5,1184.4 L1305.0,1187.3 L1306.5,1190.1 L1308.0,1192.8 L1309.5,1195.3 L1311.0,1197.7 L1312.5,1200.0 L1314.0,1202.2 L1315.5,1204.3 L1317.0,1206.2 L1318.5,1208.1 L1320.0,1209.9 L1321.5,1211.6 L1323.0,1213.1 L1324.5,1214.6 L1326.0,1216.1 L1327.5,1217.4 L1329.0,1218.8 L1330.5,1220.0 L1332.0,1221.2 L1333.5,1222.4 L1335.0,1223.5 L1336.5,1224.4 L1338.0,1225.2 L1339.5,1225.9 L1341.0,1226.5 L1342.5,1227.0 L1344.0,1227.4 L1345.5,1227.8 L1347.0,1228.2 L1348.5,1228.6 L1350.0,1228.9 L1351.5,1229.3 L1353.0,1229.6 L1354.5,1229.9 L1356.0,1230.1 L1357.5,1230.4 L1359.0,1230.7 L1360.5,1230.9 L1362.0,1231.2 L1363.5,1231.5 L1365.0,1231.8 L1366.5,1232.2 L1368.0,1232.6 L1369.5,1233.2 L1371.0,1233.8 L1372.5,1234.5 L1374.0,1235.3 L1375.5,1236.2 L1377.0,1237.3 L1378.5,1238.4 L1380.0,1239.6 L1381.5,1240.9 L1383.0,1242.2 L1384.5,1243.5 L1386.0,1244.9 L1387.5,1246.3 L1389.0,1247.8 L1390.5,1249.3 L1392.0,1250.7 L1393.5,1252.2 L1395.0,1253.7 L1396.5,1255.2 L1398.0,1256.7 L1399.5,1258.2 L1401.0,1259.8 L1402.5,1261.3 L1404.0,1262.8 L1405.5,1264.3 L1407.0,1265.8 L1408.5,1267.3 L1410.0,1268.8 L1411.5,1270.3 L1413.0,1271.7 L1414.5,1273.2 L1416.0,1274.7 L1417.5,1276.2 L1419.0,1277.6 L1420.5,1279.1 L1422.0,1280.6 L1423.5,1282.0 L1425.0,1283.5 L1426.5,1284.9 L1428.0,1286.3 L1429.5,1287.7 L1431.0,1289.1 L1432.5,1290.5 L1434.0,1291.9 L1435.5,1293.2 L1437.0,1294.5 L1438.5,1295.7 L1440.0,1296.9 L1441.5,1298.1 L1443.0,1299.1 L1444.5,1300.1 L1446.0,1301.0 L1447.5,1301.8 L1449.0,1302.6 L1450.5,1303.4 L1452.0,1304.1 L1453.5,1304.8 L1455.0,1305.5 L1456.5,1306.2 L1458.0,1306.8 L1459.5,1307.4 L1461.0,1308.1 L1462.5,1308.7 L1464.0,1309.3 L1465.5,1309.9 L1467.0,1310.5 L1468.5,1311.1 L1470.0,1311.6 L1471.5,1312.2 L1473.0,1312.7 L1474.5,1313.2 L1476.0,1313.7 L1477.5,1314.2 L1479.0,1314.7 L1480.5,1315.1 L1482.0,1315.5 L1483.5,1315.9 L1485.0,1316.2 L1486.5,1316.5 L1488.0,1316.8 L1489.5,1317.1 L1491.0,1317.3 L1492.5,1317.5 L1494.0,1317.7 L1495.5,1317.8 L1497.0,1318.0 L1498.5,1318.1 L1500.0,1318.2 L1501.5,1318.3 L1503.0,1318.4 L1504.5,1318.4 L1506.0,1318.4 L1507.5,1318.4 L1509.0,1318.4 L1510.5,1318.3 L1512.0,1318.2 L1513.5,1318.1 L1515.0,1318.0 L1516.5,1317.8 L1518.0,1317.6 L1519.5,1317.4 L1521.0,1317.1 L1522.5,1316.8 L1524.0,1316.5 L1525.5,1316.1 L1527.0,1315.8 L1528.5,1315.4 L1530.0,1315.0 L1531.5,1314.5 L1533.0,1314.0 L1534.5,1313.5 L1536.0,1312.9 L1537.5,1312.3 L1539.0,1311.6 L1540.5,1311.0 L1542.0,1310.2 L1543.5,1309.5 L1545.0,1308.7 L1546.5,1307.8 L1548.0,1306.9 L1549.5,1305.9 L1551.0,1304.9 L1552.5,1303.8 L1554.0,1302.6 L1555.5,1301.4 L1557.0,1300.1 L1558.5,1298.8 L1560.0,1297.4 L1561.5,1296.0 L1563.0,1294.4 L1564.5,1292.8 L1566.0,1291.2 L1567.5,1289.4 L1569.0,1287.6 L1570.5,1285.8 L1572.0,1283.9 L1573.5,1281.9 L1575.0,1279.9 L1576.5,1277.8 L1578.0,1275.7 L1579.5,1273.4 L1581.0,1271.1 L1582.5,1268.7 L1584.0,1266.3 L1585.5,1263.7 L1587.0,1261.0 L1588.5,1258.3 L1590.0,1255.5 L1591.5,1252.5 L1593.0,1249.5 L1594.5,1246.3 L1596.0,1243.0 L1597.5,1239.6 L1599.0,1236.1 L1600.5,1232.4 L1602.0,1228.6 L1603.5,1224.7 L1605.0,1220.7 L1606.5,1216.6 L1608.0,1212.4 L1609.5,1208.0 L1611.0,1203.5 L1612.5,1198.9 L1614.0,1194.2 L1615.5,1189.5 L1617.0,1184.7 L1618.5,1180.0 L1620.0,1175.3 L1621.5,1170.6 L1623.0,1165.9 L1624.5,1161.3 L1626.0,1156.7 L1627.5,1151.9 L1629.0,1147.2 L1630.5,1142.3 L1632.0,1137.4 L1633.5,1132.3 L1635.0,1127.2 L1636.5,1122.0 L1638.0,1116.6 L1639.5,1111.1 L1641.0,1105.4 L1642.5,1099.5 L1644.0,1093.4 L1645.5,1087.2 L1647.0,1081.0 L1648.5,1075.0 L1650.0,1069.2 L1651.5,1063.8 L1653.0,1058.6 L1654.5,1053.8 L1656.0,1049.3 L1657.5,1045.1 L1659.0,1041.2 L1660.5,1037.4 L1662.0,1033.7 L1663.5,1030.0 L1665.0,1026.4 L1666.5,1022.7 L1668.0,1019.1 L1669.5,1015.5 L1671.0,1011.9 L1672.5,1008.3 L1674.0,1004.7 L1675.5,1001.2 L1677.0,997.8 L1678.5,994.5 L1680.0,991.5 L1681.5,988.8 L1683.0,986.5 L1684.5,984.5 L1686.0,982.8 L1687.5,981.3 L1689.0,979.9 L1690.5,978.7 L1692.0,977.6 L1693.5,976.6 L1695.0,975.7 L1696.5,974.9 L1698.0,974.3 L1699.5,973.7 L1701.0,973.3 L1702.5,973.0 L1704.0,972.8 L1705.5,972.7 L1707.0,972.7 L1708.5,972.8 L1710.0,973.1 L1711.5,973.5 L1713.0,974.0 L1714.5,974.7 L1716.0,975.5 L1717.5,976.4 L1719.0,977.5 L1720.5,978.8 L1722.0,980.1 L1723.5,981.5 L1725.0,983.0 L1726.5,984.6 L1728.0,986.2 L1729.5,987.9 L1731.0,989.6 L1732.5,991.4 L1734.0,993.2 L1735.5,995.1 L1737.0,997.1 L1738.5,999.2 L1740.0,1001.4 L1741.5,1003.9 L1743.0,1006.7 L1744.5,1009.9 L1746.0,1013.3 L1747.5,1016.7 L1749.0,1020.0 L1750.5,1023.0 L1752.0,1025.8 L1753.5,1028.4 L1755.0,1031.0 L1756.5,1033.4 L1758.0,1035.9 L1759.5,1038.4 L1761.0,1041.0 L1762.5,1043.7 L1764.0,1046.6 L1765.5,1049.5 L1767.0,1052.6 L1768.5,1055.7 L1770.0,1058.8 L1771.5,1062.0 L1773.0,1065.3 L1774.5,1068.7 L1776.0,1072.1 L1777.5,1075.7 L1779.0,1079.3 L1780.5,1083.0 L1782.0,1086.8 L1783.5,1090.5 L1785.0,1094.3 L1786.5,1098.0 L1788.0,1101.8 L1789.5,1105.7 L1791.0,1109.5 L1792.5,1113.4 L1794.0,1117.3 L1795.5,1121.2 L1797.0,1124.9 L1798.5,1128.6 L1800.0,1132.1 L1801.5,1135.5 L1803.0,1138.7 L1804.5,1141.9 L1806.0,1144.9 L1807.5,1148.0 L1809.0,1151.0 L1810.5,1154.1 L1812.0,1157.1 L1813.5,1160.2 L1815.0,1163.2 L1816.5,1166.3 L1818.0,1169.3 L1819.5,1172.3 L1821.0,1175.3 L1822.5,1178.3 L1824.0,1181.2 L1825.5,1184.0 L1827.0,1186.8 L1828.5,1189.5 L1830.0,1192.1 L1831.5,1194.6 L1833.0,1197.0 L1834.5,1199.3 L1836.0,1201.6 L1837.5,1203.8 L1839.0,1206.0 L1840.5,1208.2 L1842.0,1210.4 L1843.5,1212.6 L1845.0,1214.7 L1846.5,1216.9 L1848.0,1219.0 L1849.5,1221.1 L1851.0,1223.2 L1852.5,1225.2 L1854.0,1227.2 L1855.5,1229.2 L1857.0,1231.2 L1858.5,1233.1 L1860.0,1234.9 L1861.5,1236.8 L1863.0,1238.6 L1864.5,1240.3 L1866.0,1242.0 L1867.5,1243.7 L1869.0,1245.3 L1870.5,1246.8 L1872.0,1248.4 L1873.5,1249.9 L1875.0,1251.3 L1876.5,1252.8 L1878.0,1254.2 L1879.5,1255.5 L1881.0,1256.9 L1882.5,1258.2 L1884.0,1259.5 L1885.5,1260.7 L1887.0,1262.0 L1888.5,1263.2 L1890.0,1264.4 L1891.5,1265.5 L1893.0,1266.7 L1894.5,1267.7 L1896.0,1268.8 L1897.5,1269.8 L1899.0,1270.7 L1900.5,1271.7 L1902.0,1272.6 L1903.5,1273.5 L1905.0,1274.3 L1906.5,1275.2 L1908.0,1276.1 L1909.5,1276.9 L1911.0,1277.7 L1912.5,1278.6 L1914.0,1279.4 L1915.5,1280.2 L1917.0,1281.0 L1918.5,1281.7 L1920.0,1282.5 L1921.5,1283.2 L1923.0,1283.9 L1924.5,1284.6 L1926.0,1285.3 L1927.5,1286.0 L1929.0,1286.6 L1930.5,1287.3 L1932.0,1287.9 L1933.5,1288.6 L1935.0,1289.2 L1936.5,1289.8 L1938.0,1290.4 L1939.5,1291.1 L1941.0,1291.7 L1942.5,1292.3 L1944.0,1292.9 L1945.5,1293.5 L1947.0,1294.1 L1948.5,1294.7 L1950.0,1295.3 L1951.5,1295.9 L1953.0,1296.5 L1954.5,1297.0 L1956.0,1297.6 L1957.5,1298.1 L1959.0,1298.7 L1960.5,1299.2 L1962.0,1299.7 L1963.5,1300.3 L1965.0,1300.8 L1966.5,1301.3 L1968.0,1301.9 L1969.5,1302.4 L1971.0,1302.9 L1972.5,1303.5 L1974.0,1304.0 L1975.5,1304.5 L1977.0,1305.0 L1978.5,1305.6 L1980.0,1306.1 L1981.5,1306.6 L1983.0,1307.1 L1984.5,1307.7 L1986.0,1308.2 L1987.5,1308.7 L1989.0,1309.3 L1990.5,1309.8 L1992.0,1310.3 L1993.5,1310.8 L1995.0,1311.4 L1996.5,1311.9 L1998.0,1312.4 L1999.5,1312.9 L2001.0,1313.5 L2002.5,1314.0 L2004.0,1314.5 L2005.5,1315.1 L2007.0,1315.6 L2008.5,1316.1 L2010.0,1316.6 L2011.5,1317.1 L2013.0,1317.7 L2014.5,1318.2 L2016.0,1318.7 L2017.5,1319.2 L2019.0,1319.8 L2020.5,1320.3 L2022.0,1320.8 L2023.5,1321.3 L2025.0,1321.8 L2026.5,1322.2 L2028.0,1322.7 L2029.5,1323.2 L2031.0,1323.6 L2032.5,1324.1 L2034.0,1324.5 L2035.5,1324.9 L2037.0,1325.4 L2038.5,1325.8 L2040.0,1326.2 L2041.5,1326.6 L2043.0,1327.1 L2044.5,1327.5 L2046.0,1327.9 L2047.5,1328.3 L2049.0,1328.7 L2050.5,1329.1 L2052.0,1329.6 L2053.5,1330.0 L2055.0,1330.4 L2056.5,1330.8 L2058.0,1331.2 L2059.5,1331.6 L2061.0,1332.0 L2062.5,1332.4 L2064.0,1332.7 L2065.5,1333.1 L2067.0,1333.5 L2068.5,1333.8 L2070.0,1334.2 L2071.5,1334.6 L2073.0,1334.9 L2074.5,1335.3 L2076.0,1335.6 L2077.5,1335.9 L2079.0,1336.3 L2080.5,1336.6 L2082.0,1336.9 L2083.5,1337.2 L2085.0,1337.5 L2086.5,1337.8 L2088.0,1338.1 L2089.5,1338.3 L2091.0,1338.6 L2092.5,1338.9 L2094.0,1339.1 L2095.5,1339.4 L2097.0,1339.6 L2098.5,1339.9 L2100.0,1340.1 L2101.5,1340.3 L2103.0,1340.6 L2104.5,1340.8 L2106.0,1341.0 L2107.5,1341.2 L2109.0,1341.5 L2110.5,1341.7 L2112.0,1341.9 L2113.5,1342.1 L2115.0,1342.3 L2116.5,1342.5 L2118.0,1342.7 L2119.5,1342.9 L2121.0,1343.1 L2122.5,1343.3 L2124.0,1343.5 L2125.5,1343.7 L2127.0,1343.9 L2128.5,1344.1 L2130.0,1344.2 L2131.5,1344.4 L2133.0,1344.5 L2134.5,1344.7 L2136.0,1344.8 L2137.5,1344.9 L2139.0,1345.0 L2140.5,1345.2 L2142.0,1345.3 L2143.5,1345.4 L2145.0,1345.5 L2146.5,1345.6 L2148.0,1345.7 L2149.5,1345.7 L2151.0,1345.8 L2152.5,1345.9 L2154.0,1346.0 L2155.5,1346.1 L2157.0,1346.1 L2158.5,1346.2 L2160.0,1346.3 L2161.5,1346.3 L2163.0,1346.4 L2164.5,1346.4 L2166.0,1346.5 L2167.5,1346.5 L2169.0,1346.6 L2170.5,1346.6 L2172.0,1346.7 L2173.5,1346.7 L2175.0,1346.7 L2176.5,1346.8 L2178.0,1346.8 L2179.5,1346.9 L2181.0,1346.9 L2182.5,1346.9 L2184.0,1347.0 L2185.5,1347.0 L2187.0,1347.0 L2188.5,1347.1 L2190.0,1347.1 L2191.5,1347.1 L2193.0,1347.2 L2194.5,1347.2 L2196.0,1347.2 L2197.5,1347.2 L2199.0,1347.3 L2200.5,1347.3 L2202.0,1347.3 L2203.5,1347.3 L2205.0,1347.4 L2206.5,1347.4 L2208.0,1347.4 L2209.5,1347.4 L2211.0,1347.4 L2212.5,1347.4 L2214.0,1347.5 L2215.5,1347.5 L2217.0,1347.5 L2218.5,1347.5 L2220.0,1347.5 L2221.5,1347.5 L2223.0,1347.5 L2224.5,1347.5"/>
<path class="cv" d="M415.5,1350.0 L417.0,1350.1 L418.5,1350.1 L420.0,1350.2 L421.5,1350.2 L423.0,1350.3 L424.5,1350.3 L426.0,1350.4 L427.5,1350.4 L429.0,1350.5 L430.5,1350.5 L432.0,1350.6 L433.5,1350.6 L435.0,1350.7 L436.5,1350.7 L438.0,1350.8 L439.5,1350.8 L441.0,1350.9 L442.5,1350.9 L444.0,1351.0 L445.5,1351.0 L447.0,1351.0 L448.5,1351.1 L450.0,1351.1 L451.5,1351.2 L453.0,1351.2 L454.5,1351.2 L456.0,1351.3 L457.5,1351.3 L459.0,1351.4 L460.5,1351.4 L462.0,1351.4 L463.5,1351.5 L465.0,1351.5 L466.5,1351.5 L468.0,1351.6 L469.5,1351.6 L471.0,1351.6 L472.5,1351.7 L474.0,1351.7 L475.5,1351.7 L477.0,1351.8 L478.5,1351.8 L480.0,1351.8 L481.5,1351.8 L483.0,1351.9 L484.5,1351.9 L486.0,1351.9 L487.5,1351.9 L489.0,1352.0 L490.5,1352.0 L492.0,1352.0 L493.5,1352.0 L495.0,1352.0 L496.5,1352.1 L498.0,1352.1 L499.5,1352.1 L501.0,1352.1 L502.5,1352.1 L504.0,1352.1 L505.5,1352.2 L507.0,1352.2 L508.5,1352.2 L510.0,1352.2 L511.5,1352.2 L513.0,1352.2 L514.5,1352.2 L516.0,1352.2 L517.5,1352.2 L519.0,1352.3 L520.5,1352.3 L522.0,1352.3 L523.5,1352.3 L525.0,1352.3 L526.5,1352.3 L528.0,1352.3 L529.5,1352.3 L531.0,1352.3 L532.5,1352.3 L534.0,1352.3 L535.5,1352.3 L537.0,1352.3 L538.5,1352.3 L540.0,1352.3 L541.5,1352.2 L543.0,1352.2 L544.5,1352.2 L546.0,1352.2 L547.5,1352.2 L549.0,1352.2 L550.5,1352.2 L552.0,1352.2 L553.5,1352.2 L555.0,1352.1 L556.5,1352.1 L558.0,1352.1 L559.5,1352.1 L561.0,1352.1 L562.5,1352.0 L564.0,1352.0 L565.5,1352.0 L567.0,1352.0 L568.5,1352.0 L570.0,1351.9 L571.5,1351.9 L573.0,1351.9 L574.5,1351.8 L576.0,1351.8 L577.5,1351.8 L579.0,1351.8 L580.5,1351.7 L582.0,1351.7 L583.5,1351.7 L585.0,1351.6 L586.5,1351.6 L588.0,1351.5 L589.5,1351.5 L591.0,1351.5 L592.5,1351.4 L594.0,1351.4 L595.5,1351.3 L597.0,1351.3 L598.5,1351.3 L600.0,1351.2 L601.5,1351.2 L603.0,1351.1 L604.5,1351.1 L606.0,1351.0 L607.5,1351.0 L609.0,1350.9 L610.5,1350.8 L612.0,1350.8 L613.5,1350.7 L615.0,1350.7 L616.5,1350.6 L618.0,1350.6 L619.5,1350.5 L621.0,1350.4 L622.5,1350.4 L624.0,1350.3 L625.5,1350.2 L627.0,1350.2 L628.5,1350.1 L630.0,1350.0 L631.5,1350.0 L633.0,1349.9 L634.5,1349.8 L636.0,1349.7 L637.5,1349.7 L639.0,1349.6 L640.5,1349.5 L642.0,1349.4 L643.5,1349.4 L645.0,1349.3 L646.5,1349.2 L648.0,1349.1 L649.5,1349.0 L651.0,1348.9 L652.5,1348.9 L654.0,1348.8 L655.5,1348.7 L657.0,1348.6 L658.5,1348.5 L660.0,1348.4 L661.5,1348.3 L663.0,1348.2 L664.5,1348.1 L666.0,1348.0 L667.5,1347.8 L669.0,1347.7 L670.5,1347.6 L672.0,1347.5 L673.5,1347.4 L675.0,1347.3 L676.5,1347.1 L678.0,1347.0 L679.5,1346.9 L681.0,1346.8 L682.5,1346.6 L684.0,1346.5 L685.5,1346.4 L687.0,1346.3 L688.5,1346.1 L690.0,1346.0 L691.5,1345.8 L693.0,1345.7 L694.5,1345.6 L696.0,1345.4 L697.5,1345.3 L699.0,1345.1 L700.5,1345.0 L702.0,1344.9 L703.5,1344.7 L705.0,1344.6 L706.5,1344.4 L708.0,1344.3 L709.5,1344.1 L711.0,1344.0 L712.5,1343.8 L714.0,1343.7 L715.5,1343.5 L717.0,1343.4 L718.5,1343.2 L720.0,1343.0 L721.5,1342.9 L723.0,1342.7 L724.5,1342.6 L726.0,1342.4 L727.5,1342.2 L729.0,1342.1 L730.5,1341.9 L732.0,1341.8 L733.5,1341.6 L735.0,1341.4 L736.5,1341.3 L738.0,1341.1 L739.5,1340.9 L741.0,1340.7 L742.5,1340.5 L744.0,1340.4 L745.5,1340.2 L747.0,1340.0 L748.5,1339.8 L750.0,1339.6 L751.5,1339.4 L753.0,1339.1 L754.5,1338.9 L756.0,1338.7 L757.5,1338.5 L759.0,1338.2 L760.5,1338.0 L762.0,1337.8 L763.5,1337.5 L765.0,1337.2 L766.5,1337.0 L768.0,1336.7 L769.5,1336.3 L771.0,1336.0 L772.5,1335.7 L774.0,1335.3 L775.5,1334.9 L777.0,1334.5 L778.5,1334.1 L780.0,1333.7 L781.5,1333.3 L783.0,1332.9 L784.5,1332.5 L786.0,1332.0 L787.5,1331.6 L789.0,1331.2 L790.5,1330.8 L792.0,1330.4 L793.5,1330.0 L795.0,1329.6 L796.5,1329.2 L798.0,1328.8 L799.5,1328.4 L801.0,1328.1 L802.5,1327.8 L804.0,1327.5 L805.5,1327.2 L807.0,1326.9 L808.5,1326.6 L810.0,1326.3 L811.5,1326.1 L813.0,1325.8 L814.5,1325.5 L816.0,1325.3 L817.5,1325.0 L819.0,1324.8 L820.5,1324.5 L822.0,1324.3 L823.5,1324.0 L825.0,1323.8 L826.5,1323.5 L828.0,1323.3 L829.5,1323.1 L831.0,1322.8 L832.5,1322.6 L834.0,1322.4 L835.5,1322.2 L837.0,1321.9 L838.5,1321.7 L840.0,1321.5 L841.5,1321.3 L843.0,1321.1 L844.5,1320.8 L846.0,1320.6 L847.5,1320.4 L849.0,1320.2 L850.5,1319.9 L852.0,1319.7 L853.5,1319.5 L855.0,1319.3 L856.5,1319.1 L858.0,1318.9 L859.5,1318.7 L861.0,1318.5 L862.5,1318.3 L864.0,1318.1 L865.5,1317.9 L867.0,1317.8 L868.5,1317.6 L870.0,1317.5 L871.5,1317.3 L873.0,1317.2 L874.5,1317.1 L876.0,1317.0 L877.5,1316.9 L879.0,1316.8 L880.5,1316.7 L882.0,1316.7 L883.5,1316.6 L885.0,1316.6 L886.5,1316.6 L888.0,1316.5 L889.5,1316.5 L891.0,1316.5 L892.5,1316.5 L894.0,1316.5 L895.5,1316.5 L897.0,1316.5 L898.5,1316.5 L900.0,1316.5 L901.5,1316.5 L903.0,1316.6 L904.5,1316.6 L906.0,1316.6 L907.5,1316.6 L909.0,1316.7 L910.5,1316.7 L912.0,1316.7 L913.5,1316.7 L915.0,1316.7 L916.5,1316.8 L918.0,1316.8 L919.5,1316.8 L921.0,1316.9 L922.5,1316.9 L924.0,1316.9 L925.5,1316.9 L927.0,1317.0 L928.5,1317.0 L930.0,1317.0 L931.5,1317.1 L933.0,1317.1 L934.5,1317.2 L936.0,1317.2 L937.5,1317.2 L939.0,1317.3 L940.5,1317.3 L942.0,1317.4 L943.5,1317.4 L945.0,1317.5 L946.5,1317.6 L948.0,1317.6 L949.5,1317.7 L951.0,1317.8 L952.5,1317.9 L954.0,1318.0 L955.5,1318.1 L957.0,1318.2 L958.5,1318.3 L960.0,1318.5 L961.5,1318.6 L963.0,1318.7 L964.5,1318.9 L966.0,1319.0 L967.5,1319.2 L969.0,1319.4 L970.5,1319.5 L972.0,1319.7 L973.5,1319.9 L975.0,1320.1 L976.5,1320.2 L978.0,1320.4 L979.5,1320.6 L981.0,1320.8 L982.5,1321.0 L984.0,1321.3 L985.5,1321.5 L987.0,1321.7 L988.5,1321.9 L990.0,1322.2 L991.5,1322.5 L993.0,1322.7 L994.5,1323.1 L996.0,1323.4 L997.5,1323.7 L999.0,1324.1 L1000.5,1324.4 L1002.0,1324.8 L1003.5,1325.2 L1005.0,1325.6 L1006.5,1325.9 L1008.0,1326.3 L1009.5,1326.7 L1011.0,1327.1 L1012.5,1327.5 L1014.0,1327.8 L1015.5,1328.2 L1017.0,1328.5 L1018.5,1328.8 L1020.0,1329.1 L1021.5,1329.4 L1023.0,1329.7 L1024.5,1329.9 L1026.0,1330.1 L1027.5,1330.3 L1029.0,1330.5 L1030.5,1330.7 L1032.0,1330.9 L1033.5,1331.1 L1035.0,1331.3 L1036.5,1331.5 L1038.0,1331.6 L1039.5,1331.8 L1041.0,1331.9 L1042.5,1332.1 L1044.0,1332.2 L1045.5,1332.3 L1047.0,1332.4 L1048.5,1332.6 L1050.0,1332.7 L1051.5,1332.8 L1053.0,1332.9 L1054.5,1333.0 L1056.0,1333.1 L1057.5,1333.1 L1059.0,1333.2 L1060.5,1333.3 L1062.0,1333.4 L1063.5,1333.4 L1065.0,1333.5 L1066.5,1333.6 L1068.0,1333.7 L1069.5,1333.7 L1071.0,1333.8 L1072.5,1333.8 L1074.0,1333.9 L1075.5,1334.0 L1077.0,1334.0 L1078.5,1334.1 L1080.0,1334.1 L1081.5,1334.2 L1083.0,1334.2 L1084.5,1334.3 L1086.0,1334.3 L1087.5,1334.4 L1089.0,1334.4 L1090.5,1334.4 L1092.0,1334.5 L1093.5,1334.5 L1095.0,1334.6 L1096.5,1334.6 L1098.0,1334.6 L1099.5,1334.6 L1101.0,1334.7 L1102.5,1334.7 L1104.0,1334.7 L1105.5,1334.8 L1107.0,1334.8 L1108.5,1334.8 L1110.0,1334.8 L1111.5,1334.9 L1113.0,1334.9 L1114.5,1334.9 L1116.0,1334.9 L1117.5,1334.9 L1119.0,1334.9 L1120.5,1335.0 L1122.0,1335.0 L1123.5,1335.0 L1125.0,1335.0 L1126.5,1335.0 L1128.0,1335.0 L1129.5,1335.0 L1131.0,1334.9 L1132.5,1334.9 L1134.0,1334.8 L1135.5,1334.7 L1137.0,1334.7 L1138.5,1334.6 L1140.0,1334.5 L1141.5,1334.4 L1143.0,1334.3 L1144.5,1334.2 L1146.0,1334.1 L1147.5,1333.9 L1149.0,1333.8 L1150.5,1333.7 L1152.0,1333.5 L1153.5,1333.3 L1155.0,1333.0 L1156.5,1332.8 L1158.0,1332.4 L1159.5,1332.1 L1161.0,1331.7 L1162.5,1331.3 L1164.0,1330.8 L1165.5,1330.3 L1167.0,1329.8 L1168.5,1329.3 L1170.0,1328.7 L1171.5,1328.0 L1173.0,1327.2 L1174.5,1326.4 L1176.0,1325.4 L1177.5,1324.3 L1179.0,1323.1 L1180.5,1321.9 L1182.0,1320.5 L1183.5,1319.0 L1185.0,1317.4 L1186.5,1315.7 L1188.0,1314.0 L1189.5,1312.2 L1191.0,1310.4 L1192.5,1308.4 L1194.0,1306.4 L1195.5,1304.3 L1197.0,1302.1 L1198.5,1299.8 L1200.0,1297.4 L1201.5,1295.0 L1203.0,1292.5 L1204.5,1290.0 L1206.0,1287.5 L1207.5,1285.0 L1209.0,1282.5 L1210.5,1280.0 L1212.0,1277.5 L1213.5,1275.0 L1215.0,1272.5 L1216.5,1270.0 L1218.0,1267.5 L1219.5,1265.0 L1221.0,1262.5 L1222.5,1260.0 L1224.0,1257.5 L1225.5,1255.0 L1227.0,1252.5 L1228.5,1250.1 L1230.0,1247.6 L1231.5,1245.3 L1233.0,1243.2 L1234.5,1241.2 L1236.0,1239.3 L1237.5,1237.6 L1239.0,1235.9 L1240.5,1234.4 L1242.0,1232.9 L1243.5,1231.5 L1245.0,1230.1 L1246.5,1228.8 L1248.0,1227.5 L1249.5,1226.4 L1251.0,1225.5 L1252.5,1224.7 L1254.0,1224.1 L1255.5,1223.7 L1257.0,1223.5 L1258.5,1223.5 L1260.0,1223.7 L1261.5,1224.1 L1263.0,1224.6 L1264.5,1225.2 L1266.0,1226.1 L1267.5,1227.0 L1269.0,1228.2 L1270.5,1229.5 L1272.0,1230.9 L1273.5,1232.4 L1275.0,1234.0 L1276.5,1235.6 L1278.0,1237.2 L1279.5,1238.8 L1281.0,1240.5 L1282.5,1242.1 L1284.0,1243.7 L1285.5,1245.3 L1287.0,1247.0 L1288.5,1248.6 L1290.0,1250.2 L1291.5,1251.8 L1293.0,1253.5 L1294.5,1255.1 L1296.0,1256.7 L1297.5,1258.3 L1299.0,1260.0 L1300.5,1261.6 L1302.0,1263.2 L1303.5,1264.7 L1305.0,1266.2 L1306.5,1267.7 L1308.0,1269.0 L1309.5,1270.3 L1311.0,1271.5 L1312.5,1272.7 L1314.0,1273.8 L1315.5,1274.8 L1317.0,1275.9 L1318.5,1276.8 L1320.0,1277.7 L1321.5,1278.5 L1323.0,1279.3 L1324.5,1279.9 L1326.0,1280.6 L1327.5,1281.1 L1329.0,1281.6 L1330.5,1282.0 L1332.0,1282.3 L1333.5,1282.6 L1335.0,1282.8 L1336.5,1283.0 L1338.0,1283.2 L1339.5,1283.3 L1341.0,1283.4 L1342.5,1283.5 L1344.0,1283.6 L1345.5,1283.7 L1347.0,1283.7 L1348.5,1283.8 L1350.0,1283.9 L1351.5,1284.0 L1353.0,1284.1 L1354.5,1284.3 L1356.0,1284.4 L1357.5,1284.6 L1359.0,1284.9 L1360.5,1285.1 L1362.0,1285.4 L1363.5,1285.7 L1365.0,1286.0 L1366.5,1286.3 L1368.0,1286.7 L1369.5,1287.1 L1371.0,1287.5 L1372.5,1287.9 L1374.0,1288.4 L1375.5,1289.0 L1377.0,1289.6 L1378.5,1290.2 L1380.0,1290.8 L1381.5,1291.4 L1383.0,1292.0 L1384.5,1292.7 L1386.0,1293.4 L1387.5,1294.0 L1389.0,1294.7 L1390.5,1295.4 L1392.0,1296.1 L1393.5,1296.8 L1395.0,1297.5 L1396.5,1298.2 L1398.0,1299.0 L1399.5,1299.8 L1401.0,1300.5 L1402.5,1301.3 L1404.0,1302.1 L1405.5,1302.9 L1407.0,1303.7 L1408.5,1304.6 L1410.0,1305.4 L1411.5,1306.2 L1413.0,1306.9 L1414.5,1307.7 L1416.0,1308.5 L1417.5,1309.2 L1419.0,1309.9 L1420.5,1310.6 L1422.0,1311.3 L1423.5,1311.9 L1425.0,1312.5 L1426.5,1313.0 L1428.0,1313.6 L1429.5,1314.2 L1431.0,1314.7 L1432.5,1315.3 L1434.0,1315.8 L1435.5,1316.3 L1437.0,1316.9 L1438.5,1317.4 L1440.0,1317.9 L1441.5,1318.5 L1443.0,1319.0 L1444.5,1319.5 L1446.0,1320.1 L1447.5,1320.6 L1449.0,1321.1 L1450.5,1321.7 L1452.0,1322.2 L1453.5,1322.7 L1455.0,1323.3 L1456.5,1323.8 L1458.0,1324.3 L1459.5,1324.9 L1461.0,1325.4 L1462.5,1325.9 L1464.0,1326.4 L1465.5,1326.9 L1467.0,1327.4 L1468.5,1327.9 L1470.0,1328.3 L1471.5,1328.7 L1473.0,1329.0 L1474.5,1329.4 L1476.0,1329.7 L1477.5,1330.0 L1479.0,1330.2 L1480.5,1330.5 L1482.0,1330.7 L1483.5,1330.9 L1485.0,1331.2 L1486.5,1331.4 L1488.0,1331.5 L1489.5,1331.7 L1491.0,1331.9 L1492.5,1332.0 L1494.0,1332.2 L1495.5,1332.3 L1497.0,1332.4 L1498.5,1332.5 L1500.0,1332.6 L1501.5,1332.6 L1503.0,1332.6 L1504.5,1332.7 L1506.0,1332.7 L1507.5,1332.7 L1509.0,1332.6 L1510.5,1332.6 L1512.0,1332.6 L1513.5,1332.5 L1515.0,1332.5 L1516.5,1332.4 L1518.0,1332.3 L1519.5,1332.1 L1521.0,1332.0 L1522.5,1331.8 L1524.0,1331.6 L1525.5,1331.4 L1527.0,1331.2 L1528.5,1331.0 L1530.0,1330.7 L1531.5,1330.5 L1533.0,1330.2 L1534.5,1329.9 L1536.0,1329.6 L1537.5,1329.3 L1539.0,1328.9 L1540.5,1328.6 L1542.0,1328.2 L1543.5,1327.7 L1545.0,1327.2 L1546.5,1326.7 L1548.0,1326.1 L1549.5,1325.5 L1551.0,1324.8 L1552.5,1324.1 L1554.0,1323.3 L1555.5,1322.5 L1557.0,1321.7 L1558.5,1320.8 L1560.0,1319.9 L1561.5,1319.0 L1563.0,1318.0 L1564.5,1316.9 L1566.0,1315.8 L1567.5,1314.6 L1569.0,1313.4 L1570.5,1312.1 L1572.0,1310.7 L1573.5,1309.3 L1575.0,1307.8 L1576.5,1306.3 L1578.0,1304.7 L1579.5,1303.0 L1581.0,1301.3 L1582.5,1299.5 L1584.0,1297.7 L1585.5,1295.9 L1587.0,1294.0 L1588.5,1292.0 L1590.0,1290.0 L1591.5,1287.9 L1593.0,1285.8 L1594.5,1283.6 L1596.0,1281.3 L1597.5,1279.0 L1599.0,1276.6 L1600.5,1274.1 L1602.0,1271.6 L1603.5,1269.1 L1605.0,1266.5 L1606.5,1264.0 L1608.0,1261.4 L1609.5,1258.8 L1611.0,1256.2 L1612.5,1253.5 L1614.0,1250.9 L1615.5,1248.2 L1617.0,1245.5 L1618.5,1242.7 L1620.0,1240.0 L1621.5,1237.2 L1623.0,1234.4 L1624.5,1231.6 L1626.0,1228.8 L1627.5,1226.0 L1629.0,1223.2 L1630.5,1220.4 L1632.0,1217.6 L1633.5,1214.8 L1635.0,1211.9 L1636.5,1209.1 L1638.0,1206.3 L1639.5,1203.4 L1641.0,1200.6 L1642.5,1197.7 L1644.0,1194.8 L1645.5,1191.9 L1647.0,1189.0 L1648.5,1186.1 L1650.0,1183.2 L1651.5,1180.3 L1653.0,1177.3 L1654.5,1174.4 L1656.0,1171.6 L1657.5,1168.7 L1659.0,1165.9 L1660.5,1163.2 L1662.0,1160.6 L1663.5,1158.0 L1665.0,1155.7 L1666.5,1153.5 L1668.0,1151.6 L1669.5,1150.0 L1671.0,1148.6 L1672.5,1147.5 L1674.0,1146.5 L1675.5,1145.7 L1677.0,1145.0 L1678.5,1144.3 L1680.0,1143.6 L1681.5,1143.0 L1683.0,1142.4 L1684.5,1141.8 L1686.0,1141.3 L1687.5,1140.8 L1689.0,1140.3 L1690.5,1140.0 L1692.0,1139.7 L1693.5,1139.4 L1695.0,1139.2 L1696.5,1139.0 L1698.0,1138.9 L1699.5,1138.8 L1701.0,1138.8 L1702.5,1138.9 L1704.0,1138.9 L1705.5,1139.1 L1707.0,1139.3 L1708.5,1139.6 L1710.0,1139.9 L1711.5,1140.2 L1713.0,1140.7 L1714.5,1141.2 L1716.0,1141.7 L1717.5,1142.3 L1719.0,1143.0 L1720.5,1143.7 L1722.0,1144.5 L1723.5,1145.4 L1725.0,1146.4 L1726.5,1147.4 L1728.0,1148.5 L1729.5,1149.7 L1731.0,1150.9 L1732.5,1152.2 L1734.0,1153.5 L1735.5,1154.8 L1737.0,1156.2 L1738.5,1157.7 L1740.0,1159.2 L1741.5,1160.7 L1743.0,1162.4 L1744.5,1164.0 L1746.0,1165.8 L1747.5,1167.6 L1749.0,1169.4 L1750.5,1171.2 L1752.0,1173.1 L1753.5,1175.0 L1755.0,1176.9 L1756.5,1178.8 L1758.0,1180.8 L1759.5,1182.7 L1761.0,1184.7 L1762.5,1186.7 L1764.0,1188.7 L1765.5,1190.7 L1767.0,1192.7 L1768.5,1194.8 L1770.0,1196.8 L1771.5,1198.9 L1773.0,1201.0 L1774.5,1203.1 L1776.0,1205.2 L1777.5,1207.2 L1779.0,1209.3 L1780.5,1211.4 L1782.0,1213.4 L1783.5,1215.5 L1785.0,1217.5 L1786.5,1219.5 L1788.0,1221.5 L1789.5,1223.4 L1791.0,1225.4 L1792.5,1227.3 L1794.0,1229.2 L1795.5,1231.1 L1797.0,1232.9 L1798.5,1234.8 L1800.0,1236.6 L1801.5,1238.4 L1803.0,1240.1 L1804.5,1241.9 L1806.0,1243.6 L1807.5,1245.3 L1809.0,1246.9 L1810.5,1248.5 L1812.0,1250.1 L1813.5,1251.6 L1815.0,1253.1 L1816.5,1254.6 L1818.0,1256.0 L1819.5,1257.4 L1821.0,1258.8 L1822.5,1260.2 L1824.0,1261.6 L1825.5,1262.9 L1827.0,1264.3 L1828.5,1265.6 L1830.0,1266.9 L1831.5,1268.2 L1833.0,1269.5 L1834.5,1270.7 L1836.0,1271.9 L1837.5,1273.1 L1839.0,1274.3 L1840.5,1275.5 L1842.0,1276.6 L1843.5,1277.7 L1845.0,1278.7 L1846.5,1279.7 L1848.0,1280.7 L1849.5,1281.7 L1851.0,1282.7 L1852.5,1283.6 L1854.0,1284.5 L1855.5,1285.4 L1857.0,1286.3 L1858.5,1287.2 L1860.0,1288.1 L1861.5,1288.9 L1863.0,1289.8 L1864.5,1290.6 L1866.0,1291.4 L1867.5,1292.2 L1869.0,1293.0 L1870.5,1293.8 L1872.0,1294.5 L1873.5,1295.3 L1875.0,1296.1 L1876.5,1296.8 L1878.0,1297.6 L1879.5,1298.3 L1881.0,1299.1 L1882.5,1299.8 L1884.0,1300.5 L1885.5,1301.2 L1887.0,1301.9 L1888.5,1302.6 L1890.0,1303.3 L1891.5,1303.9 L1893.0,1304.5 L1894.5,1305.1 L1896.0,1305.7 L1897.5,1306.2 L1899.0,1306.7 L1900.5,1307.2 L1902.0,1307.7 L1903.5,1308.2 L1905.0,1308.7 L1906.5,1309.1 L1908.0,1309.6 L1909.5,1310.0 L1911.0,1310.5 L1912.5,1310.9 L1914.0,1311.3 L1915.5,1311.7 L1917.0,1312.1 L1918.5,1312.5 L1920.0,1312.9 L1921.5,1313.3 L1923.0,1313.7 L1924.5,1314.0 L1926.0,1314.4 L1927.5,1314.8 L1929.0,1315.1 L1930.5,1315.5 L1932.0,1315.8 L1933.5,1316.1 L1935.0,1316.5 L1936.5,1316.8 L1938.0,1317.1 L1939.5,1317.5 L1941.0,1317.8 L1942.5,1318.2 L1944.0,1318.5 L1945.5,1318.8 L1947.0,1319.2 L1948.5,1319.5 L1950.0,1319.8 L1951.5,1320.2 L1953.0,1320.5 L1954.5,1320.9 L1956.0,1321.2 L1957.5,1321.5 L1959.0,1321.9 L1960.5,1322.2 L1962.0,1322.5 L1963.5,1322.9 L1965.0,1323.2 L1966.5,1323.6 L1968.0,1323.9 L1969.5,1324.2 L1971.0,1324.6 L1972.5,1324.9 L1974.0,1325.2 L1975.5,1325.6 L1977.0,1325.9 L1978.5,1326.2 L1980.0,1326.6 L1981.5,1326.9 L1983.0,1327.3 L1984.5,1327.6 L1986.0,1327.9 L1987.5,1328.3 L1989.0,1328.6 L1990.5,1328.9 L1992.0,1329.2 L1993.5,1329.6 L1995.0,1329.8 L1996.5,1330.1 L1998.0,1330.4 L1999.5,1330.7 L2001.0,1330.9 L2002.5,1331.2 L2004.0,1331.4 L2005.5,1331.7 L2007.0,1331.9 L2008.5,1332.2 L2010.0,1332.4 L2011.5,1332.6 L2013.0,1332.9 L2014.5,1333.1 L2016.0,1333.4 L2017.5,1333.6 L2019.0,1333.9 L2020.5,1334.1 L2022.0,1334.4 L2023.5,1334.7 L2025.0,1334.9 L2026.5,1335.2 L2028.0,1335.5 L2029.5,1335.7 L2031.0,1336.0 L2032.5,1336.2 L2034.0,1336.5 L2035.5,1336.8 L2037.0,1337.0 L2038.5,1337.3 L2040.0,1337.5 L2041.5,1337.8 L2043.0,1338.1 L2044.5,1338.3 L2046.0,1338.6 L2047.5,1338.9 L2049.0,1339.1 L2050.5,1339.4 L2052.0,1339.6 L2053.5,1339.9 L2055.0,1340.1 L2056.5,1340.4 L2058.0,1340.6 L2059.5,1340.9 L2061.0,1341.1 L2062.5,1341.3 L2064.0,1341.6 L2065.5,1341.8 L2067.0,1342.0 L2068.5,1342.2 L2070.0,1342.4 L2071.5,1342.6 L2073.0,1342.8 L2074.5,1343.1 L2076.0,1343.2 L2077.5,1343.4 L2079.0,1343.6 L2080.5,1343.8 L2082.0,1344.0 L2083.5,1344.1 L2085.0,1344.3 L2086.5,1344.5 L2088.0,1344.6 L2089.5,1344.7 L2091.0,1344.9 L2092.5,1345.0 L2094.0,1345.1 L2095.5,1345.2 L2097.0,1345.3 L2098.5,1345.4 L2100.0,1345.5 L2101.5,1345.6 L2103.0,1345.7 L2104.5,1345.8 L2106.0,1345.9 L2107.5,1346.0 L2109.0,1346.0 L2110.5,1346.1 L2112.0,1346.2 L2113.5,1346.2 L2115.0,1346.3 L2116.5,1346.4 L2118.0,1346.4 L2119.5,1346.5 L2121.0,1346.5 L2122.5,1346.6 L2124.0,1346.7 L2125.5,1346.7 L2127.0,1346.8 L2128.5,1346.8 L2130.0,1346.9 L2131.5,1346.9 L2133.0,1347.0 L2134.5,1347.0 L2136.0,1347.1 L2137.5,1347.1 L2139.0,1347.2 L2140.5,1347.2 L2142.0,1347.3 L2143.5,1347.3 L2145.0,1347.4 L2146.5,1347.4 L2148.0,1347.5 L2149.5,1347.5 L2151.0,1347.6 L2152.5,1347.6 L2154.0,1347.6 L2155.5,1347.7 L2157.0,1347.7 L2158.5,1347.8 L2160.0,1347.8 L2161.5,1347.8 L2163.0,1347.9 L2164.5,1347.9 L2166.0,1348.0 L2167.5,1348.0 L2169.0,1348.0 L2170.5,1348.1 L2172.0,1348.1 L2173.5,1348.1 L2175.0,1348.1 L2176.5,1348.2 L2178.0,1348.2 L2179.5,1348.2 L2181.0,1348.3 L2182.5,1348.3 L2184.0,1348.3 L2185.5,1348.3 L2187.0,1348.3 L2188.5,1348.4 L2190.0,1348.4 L2191.5,1348.4 L2193.0,1348.4 L2194.5,1348.4 L2196.0,1348.4 L2197.5,1348.5 L2199.0,1348.5 L2200.5,1348.5 L2202.0,1348.5 L2203.5,1348.5 L2205.0,1348.5 L2206.5,1348.5 L2208.0,1348.5 L2209.5,1348.5 L2211.0,1348.5 L2212.5,1348.5 L2214.0,1348.5 L2215.5,1348.5 L2217.0,1348.5 L2218.5,1348.5 L2220.0,1348.5 L2221.5,1348.5 L2223.0,1348.5 L2224.5,1348.5"/>
<path class="cv" d="M415.5,1350.5 L417.0,1350.5 L418.5,1350.6 L420.0,1350.6 L421.5,1350.6 L423.0,1350.7 L424.5,1350.7 L426.0,1350.7 L427.5,1350.8 L429.0,1350.8 L430.5,1350.8 L432.0,1350.8 L433.5,1350.9 L435.0,1350.9 L436.5,1350.9 L438.0,1351.0 L439.5,1351.0 L441.0,1351.0 L442.5,1351.0 L444.0,1351.1 L445.5,1351.1 L447.0,1351.1 L448.5,1351.1 L450.0,1351.1 L451.5,1351.2 L453.0,1351.2 L454.5,1351.2 L456.0,1351.2 L457.5,1351.3 L459.0,1351.3 L460.5,1351.3 L462.0,1351.3 L463.5,1351.3 L465.0,1351.3 L466.5,1351.4 L468.0,1351.4 L469.5,1351.4 L471.0,1351.4 L472.5,1351.4 L474.0,1351.4 L475.5,1351.5 L477.0,1351.5 L478.5,1351.5 L480.0,1351.5 L481.5,1351.5 L483.0,1351.5 L484.5,1351.5 L486.0,1351.5 L487.5,1351.6 L489.0,1351.6 L490.5,1351.6 L492.0,1351.6 L493.5,1351.6 L495.0,1351.6 L496.5,1351.6 L498.0,1351.6 L499.5,1351.6 L501.0,1351.6 L502.5,1351.6 L504.0,1351.6 L505.5,1351.6 L507.0,1351.6 L508.5,1351.6 L510.0,1351.6 L511.5,1351.6 L513.0,1351.6 L514.5,1351.6 L516.0,1351.6 L517.5,1351.6 L519.0,1351.6 L520.5,1351.6 L522.0,1351.6 L523.5,1351.6 L525.0,1351.6 L526.5,1351.6 L528.0,1351.6 L529.5,1351.6 L531.0,1351.6 L532.5,1351.6 L534.0,1351.6 L535.5,1351.6 L537.0,1351.6 L538.5,1351.6 L540.0,1351.6 L541.5,1351.6 L543.0,1351.6 L544.5,1351.6 L546.0,1351.5 L547.5,1351.5 L549.0,1351.5 L550.5,1351.5 L552.0,1351.5 L553.5,1351.5 L555.0,1351.5 L556.5,1351.5 L558.0,1351.4 L559.5,1351.4 L561.0,1351.4 L562.5,1351.4 L564.0,1351.4 L565.5,1351.4 L567.0,1351.3 L568.5,1351.3 L570.0,1351.3 L571.5,1351.3 L573.0,1351.3 L574.5,1351.2 L576.0,1351.2 L577.5,1351.2 L579.0,1351.2 L580.5,1351.2 L582.0,1351.1 L583.5,1351.1 L585.0,1351.1 L586.5,1351.1 L588.0,1351.0 L589.5,1351.0 L591.0,1351.0 L592.5,1351.0 L594.0,1350.9 L595.5,1350.9 L597.0,1350.9 L598.5,1350.8 L600.0,1350.8 L601.5,1350.8 L603.0,1350.8 L604.5,1350.7 L606.0,1350.7 L607.5,1350.7 L609.0,1350.6 L610.5,1350.6 L612.0,1350.6 L613.5,1350.5 L615.0,1350.5 L616.5,1350.4 L618.0,1350.4 L619.5,1350.4 L621.0,1350.3 L622.5,1350.3 L624.0,1350.3 L625.5,1350.2 L627.0,1350.2 L628.5,1350.1 L630.0,1350.1 L631.5,1350.1 L633.0,1350.0 L634.5,1350.0 L636.0,1349.9 L637.5,1349.9 L639.0,1349.8 L640.5,1349.8 L642.0,1349.8 L643.5,1349.7 L645.0,1349.7 L646.5,1349.6 L648.0,1349.6 L649.5,1349.5 L651.0,1349.5 L652.5,1349.4 L654.0,1349.4 L655.5,1349.3 L657.0,1349.3 L658.5,1349.2 L660.0,1349.2 L661.5,1349.1 L663.0,1349.1 L664.5,1349.0 L666.0,1348.9 L667.5,1348.9 L669.0,1348.8 L670.5,1348.8 L672.0,1348.7 L673.5,1348.7 L675.0,1348.6 L676.5,1348.5 L678.0,1348.5 L679.5,1348.4 L681.0,1348.3 L682.5,1348.3 L684.0,1348.2 L685.5,1348.1 L687.0,1348.0 L688.5,1348.0 L690.0,1347.9 L691.5,1347.8 L693.0,1347.7 L694.5,1347.6 L696.0,1347.5 L697.5,1347.4 L699.0,1347.3 L700.5,1347.2 L702.0,1347.1 L703.5,1347.0 L705.0,1346.9 L706.5,1346.8 L708.0,1346.7 L709.5,1346.6 L711.0,1346.5 L712.5,1346.4 L714.0,1346.2 L715.5,1346.1 L717.0,1346.0 L718.5,1345.9 L720.0,1345.7 L721.5,1345.6 L723.0,1345.4 L724.5,1345.3 L726.0,1345.1 L727.5,1345.0 L729.0,1344.8 L730.5,1344.7 L732.0,1344.5 L733.5,1344.4 L735.0,1344.2 L736.5,1344.1 L738.0,1343.9 L739.5,1343.7 L741.0,1343.6 L742.5,1343.4 L744.0,1343.3 L745.5,1343.1 L747.0,1342.9 L748.5,1342.8 L750.0,1342.6 L751.5,1342.5 L753.0,1342.3 L754.5,1342.1 L756.0,1342.0 L757.5,1341.8 L759.0,1341.7 L760.5,1341.5 L762.0,1341.3 L763.5,1341.2 L765.0,1341.0 L766.5,1340.8 L768.0,1340.7 L769.5,1340.5 L771.0,1340.3 L772.5,1340.2 L774.0,1340.0 L775.5,1339.8 L777.0,1339.7 L778.5,1339.5 L780.0,1339.3 L781.5,1339.2 L783.0,1339.0 L784.5,1338.9 L786.0,1338.7 L787.5,1338.5 L789.0,1338.4 L790.5,1338.2 L792.0,1338.0 L793.5,1337.9 L795.0,1337.7 L796.5,1337.5 L798.0,1337.4 L799.5,1337.2 L801.0,1337.0 L802.5,1336.9 L804.0,1336.7 L805.5,1336.5 L807.0,1336.4 L808.5,1336.2 L810.0,1336.0 L811.5,1335.9 L813.0,1335.7 L814.5,1335.6 L816.0,1335.4 L817.5,1335.3 L819.0,1335.1 L820.5,1334.9 L822.0,1334.8 L823.5,1334.6 L825.0,1334.5 L826.5,1334.3 L828.0,1334.2 L829.5,1334.0 L831.0,1333.9 L832.5,1333.7 L834.0,1333.6 L835.5,1333.4 L837.0,1333.3 L838.5,1333.1 L840.0,1333.0 L841.5,1332.8 L843.0,1332.7 L844.5,1332.6 L846.0,1332.4 L847.5,1332.3 L849.0,1332.1 L850.5,1332.0 L852.0,1331.8 L853.5,1331.7 L855.0,1331.6 L856.5,1331.4 L858.0,1331.3 L859.5,1331.2 L861.0,1331.1 L862.5,1331.0 L864.0,1330.8 L865.5,1330.7 L867.0,1330.6 L868.5,1330.5 L870.0,1330.4 L871.5,1330.3 L873.0,1330.2 L874.5,1330.1 L876.0,1330.0 L877.5,1330.0 L879.0,1329.9 L880.5,1329.8 L882.0,1329.7 L883.5,1329.7 L885.0,1329.6 L886.5,1329.6 L888.0,1329.5 L889.5,1329.5 L891.0,1329.4 L892.5,1329.4 L894.0,1329.3 L895.5,1329.3 L897.0,1329.3 L898.5,1329.2 L900.0,1329.2 L901.5,1329.2 L903.0,1329.1 L904.5,1329.1 L906.0,1329.1 L907.5,1329.1 L909.0,1329.1 L910.5,1329.1 L912.0,1329.0 L913.5,1329.0 L915.0,1329.0 L916.5,1329.0 L918.0,1329.0 L919.5,1329.0 L921.0,1329.0 L922.5,1329.0 L924.0,1329.0 L925.5,1329.0 L927.0,1329.0 L928.5,1329.0 L930.0,1329.0 L931.5,1329.0 L933.0,1329.0 L934.5,1329.0 L936.0,1329.0 L937.5,1329.0 L939.0,1329.0 L940.5,1329.0 L942.0,1329.1 L943.5,1329.1 L945.0,1329.1 L946.5,1329.1 L948.0,1329.1 L949.5,1329.2 L951.0,1329.2 L952.5,1329.2 L954.0,1329.3 L955.5,1329.3 L957.0,1329.3 L958.5,1329.4 L960.0,1329.4 L961.5,1329.5 L963.0,1329.5 L964.5,1329.6 L966.0,1329.6 L967.5,1329.7 L969.0,1329.7 L970.5,1329.8 L972.0,1329.8 L973.5,1329.9 L975.0,1330.0 L976.5,1330.0 L978.0,1330.1 L979.5,1330.2 L981.0,1330.3 L982.5,1330.3 L984.0,1330.4 L985.5,1330.5 L987.0,1330.6 L988.5,1330.7 L990.0,1330.8 L991.5,1330.9 L993.0,1331.0 L994.5,1331.1 L996.0,1331.2 L997.5,1331.3 L999.0,1331.4 L1000.5,1331.5 L1002.0,1331.7 L1003.5,1331.8 L1005.0,1331.9 L1006.5,1332.0 L1008.0,1332.2 L1009.5,1332.3 L1011.0,1332.4 L1012.5,1332.6 L1014.0,1332.7 L1015.5,1332.8 L1017.0,1332.9 L1018.5,1333.1 L1020.0,1333.2 L1021.5,1333.3 L1023.0,1333.4 L1024.5,1333.6 L1026.0,1333.7 L1027.5,1333.8 L1029.0,1333.9 L1030.5,1334.1 L1032.0,1334.2 L1033.5,1334.3 L1035.0,1334.4 L1036.5,1334.6 L1038.0,1334.7 L1039.5,1334.8 L1041.0,1334.9 L1042.5,1335.1 L1044.0,1335.2 L1045.5,1335.3 L1047.0,1335.4 L1048.5,1335.6 L1050.0,1335.7 L1051.5,1335.8 L1053.0,1335.9 L1054.5,1336.1 L1056.0,1336.2 L1057.5,1336.3 L1059.0,1336.4 L1060.5,1336.5 L1062.0,1336.6 L1063.5,1336.7 L1065.0,1336.8 L1066.5,1336.9 L1068.0,1337.0 L1069.5,1337.1 L1071.0,1337.2 L1072.5,1337.2 L1074.0,1337.3 L1075.5,1337.4 L1077.0,1337.4 L1078.5,1337.5 L1080.0,1337.5 L1081.5,1337.6 L1083.0,1337.6 L1084.5,1337.7 L1086.0,1337.7 L1087.5,1337.8 L1089.0,1337.8 L1090.5,1337.9 L1092.0,1337.9 L1093.5,1338.0 L1095.0,1338.0 L1096.5,1338.1 L1098.0,1338.1 L1099.5,1338.2 L1101.0,1338.2 L1102.5,1338.3 L1104.0,1338.3 L1105.5,1338.4 L1107.0,1338.4 L1108.5,1338.4 L1110.0,1338.5 L1111.5,1338.5 L1113.0,1338.5 L1114.5,1338.6 L1116.0,1338.6 L1117.5,1338.6 L1119.0,1338.7 L1120.5,1338.7 L1122.0,1338.7 L1123.5,1338.7 L1125.0,1338.8 L1126.5,1338.8 L1128.0,1338.8 L1129.5,1338.9 L1131.0,1338.9 L1132.5,1338.9 L1134.0,1338.9 L1135.5,1339.0 L1137.0,1339.0 L1138.5,1339.0 L1140.0,1339.0 L1141.5,1339.0 L1143.0,1339.0 L1144.5,1338.9 L1146.0,1338.9 L1147.5,1338.8 L1149.0,1338.8 L1150.5,1338.7 L1152.0,1338.6 L1153.5,1338.4 L1155.0,1338.3 L1156.5,1338.2 L1158.0,1338.0 L1159.5,1337.9 L1161.0,1337.7 L1162.5,1337.5 L1164.0,1337.3 L1165.5,1337.1 L1167.0,1336.9 L1168.5,1336.6 L1170.0,1336.4 L1171.5,1336.1 L1173.0,1335.7 L1174.5,1335.3 L1176.0,1334.8 L1177.5,1334.3 L1179.0,1333.7 L1180.5,1333.0 L1182.0,1332.3 L1183.5,1331.5 L1185.0,1330.6 L1186.5,1329.6 L1188.0,1328.5 L1189.5,1327.4 L1191.0,1326.2 L1192.5,1324.9 L1194.0,1323.5 L1195.5,1322.0 L1197.0,1320.5 L1198.5,1319.0 L1200.0,1317.5 L1201.5,1315.9 L1203.0,1314.3 L1204.5,1312.7 L1206.0,1311.1 L1207.5,1309.6 L1209.0,1308.0 L1210.5,1306.4 L1212.0,1304.8 L1213.5,1303.2 L1215.0,1301.6 L1216.5,1300.0 L1218.0,1298.5 L1219.5,1296.9 L1221.0,1295.4 L1222.5,1293.9 L1224.0,1292.3 L1225.5,1290.8 L1227.0,1289.3 L1228.5,1287.8 L1230.0,1286.4 L1231.5,1284.9 L1233.0,1283.5 L1234.5,1282.2 L1236.0,1281.0 L1237.5,1279.8 L1239.0,1278.8 L1240.5,1277.8 L1242.0,1276.9 L1243.5,1276.0 L1245.0,1275.2 L1246.5,1274.4 L1248.0,1273.6 L1249.5,1273.0 L1251.0,1272.4 L1252.5,1271.9 L1254.0,1271.5 L1255.5,1271.1 L1257.0,1270.9 L1258.5,1270.8 L1260.0,1270.7 L1261.5,1270.8 L1263.0,1270.9 L1264.5,1271.1 L1266.0,1271.3 L1267.5,1271.6 L1269.0,1272.0 L1270.5,1272.5 L1272.0,1273.0 L1273.5,1273.6 L1275.0,1274.3 L1276.5,1275.1 L1278.0,1275.9 L1279.5,1276.7 L1281.0,1277.5 L1282.5,1278.4 L1284.0,1279.2 L1285.5,1280.1 L1287.0,1280.9 L1288.5,1281.8 L1290.0,1282.6 L1291.5,1283.5 L1293.0,1284.3 L1294.5,1285.2 L1296.0,1286.0 L1297.5,1286.8 L1299.0,1287.6 L1300.5,1288.5 L1302.0,1289.3 L1303.5,1290.1 L1305.0,1291.0 L1306.5,1291.8 L1308.0,1292.6 L1309.5,1293.4 L1311.0,1294.2 L1312.5,1295.0 L1314.0,1295.8 L1315.5,1296.5 L1317.0,1297.2 L1318.5,1297.9 L1320.0,1298.6 L1321.5,1299.2 L1323.0,1299.7 L1324.5,1300.3 L1326.0,1300.7 L1327.5,1301.2 L1329.0,1301.6 L1330.5,1301.9 L1332.0,1302.3 L1333.5,1302.6 L1335.0,1303.0 L1336.5,1303.3 L1338.0,1303.6 L1339.5,1303.9 L1341.0,1304.2 L1342.5,1304.5 L1344.0,1304.7 L1345.5,1305.0 L1347.0,1305.2 L1348.5,1305.5 L1350.0,1305.7 L1351.5,1305.9 L1353.0,1306.1 L1354.5,1306.4 L1356.0,1306.6 L1357.5,1306.8 L1359.0,1307.0 L1360.5,1307.3 L1362.0,1307.5 L1363.5,1307.7 L1365.0,1307.9 L1366.5,1308.2 L1368.0,1308.4 L1369.5,1308.7 L1371.0,1308.9 L1372.5,1309.2 L1374.0,1309.6 L1375.5,1309.9 L1377.0,1310.3 L1378.5,1310.7 L1380.0,1311.1 L1381.5,1311.5 L1383.0,1311.9 L1384.5,1312.3 L1386.0,1312.7 L1387.5,1313.0 L1389.0,1313.4 L1390.5,1313.8 L1392.0,1314.2 L1393.5,1314.6 L1395.0,1315.0 L1396.5,1315.4 L1398.0,1315.8 L1399.5,1316.2 L1401.0,1316.6 L1402.5,1317.1 L1404.0,1317.6 L1405.5,1318.0 L1407.0,1318.5 L1408.5,1319.0 L1410.0,1319.6 L1411.5,1320.1 L1413.0,1320.6 L1414.5,1321.1 L1416.0,1321.7 L1417.5,1322.2 L1419.0,1322.7 L1420.5,1323.3 L1422.0,1323.9 L1423.5,1324.4 L1425.0,1325.0 L1426.5,1325.6 L1428.0,1326.2 L1429.5,1326.8 L1431.0,1327.3 L1432.5,1327.8 L1434.0,1328.3 L1435.5,1328.7 L1437.0,1329.1 L1438.5,1329.6 L1440.0,1330.0 L1441.5,1330.4 L1443.0,1330.8 L1444.5,1331.2 L1446.0,1331.6 L1447.5,1332.0 L1449.0,1332.4 L1450.5,1332.7 L1452.0,1333.1 L1453.5,1333.4 L1455.0,1333.8 L1456.5,1334.1 L1458.0,1334.4 L1459.5,1334.7 L1461.0,1335.0 L1462.5,1335.3 L1464.0,1335.5 L1465.5,1335.8 L1467.0,1336.0 L1468.5,1336.2 L1470.0,1336.5 L1471.5,1336.7 L1473.0,1336.9 L1474.5,1337.1 L1476.0,1337.3 L1477.5,1337.5 L1479.0,1337.7 L1480.5,1337.8 L1482.0,1338.0 L1483.5,1338.2 L1485.0,1338.3 L1486.5,1338.5 L1488.0,1338.6 L1489.5,1338.7 L1491.0,1338.9 L1492.5,1339.0 L1494.0,1339.1 L1495.5,1339.2 L1497.0,1339.2 L1498.5,1339.3 L1500.0,1339.4 L1501.5,1339.4 L1503.0,1339.4 L1504.5,1339.4 L1506.0,1339.4 L1507.5,1339.4 L1509.0,1339.4 L1510.5,1339.3 L1512.0,1339.3 L1513.5,1339.2 L1515.0,1339.1 L1516.5,1339.0 L1518.0,1338.9 L1519.5,1338.8 L1521.0,1338.7 L1522.5,1338.6 L1524.0,1338.4 L1525.5,1338.3 L1527.0,1338.1 L1528.5,1337.9 L1530.0,1337.7 L1531.5,1337.4 L1533.0,1337.2 L1534.5,1337.0 L1536.0,1336.7 L1537.5,1336.4 L1539.0,1336.2 L1540.5,1335.9 L1542.0,1335.6 L1543.5,1335.2 L1545.0,1334.8 L1546.5,1334.4 L1548.0,1334.0 L1549.5,1333.6 L1551.0,1333.1 L1552.5,1332.6 L1554.0,1332.1 L1555.5,1331.6 L1557.0,1331.0 L1558.5,1330.5 L1560.0,1329.9 L1561.5,1329.4 L1563.0,1328.8 L1564.5,1328.2 L1566.0,1327.6 L1567.5,1327.0 L1569.0,1326.5 L1570.5,1325.9 L1572.0,1325.3 L1573.5,1324.6 L1575.0,1323.9 L1576.5,1323.2 L1578.0,1322.4 L1579.5,1321.5 L1581.0,1320.6 L1582.5,1319.5 L1584.0,1318.3 L1585.5,1317.0 L1587.0,1315.6 L1588.5,1314.0 L1590.0,1312.4 L1591.5,1310.7 L1593.0,1308.9 L1594.5,1307.1 L1596.0,1305.3 L1597.5,1303.5 L1599.0,1301.7 L1600.5,1299.9 L1602.0,1298.1 L1603.5,1296.3 L1605.0,1294.5 L1606.5,1292.7 L1608.0,1290.9 L1609.5,1289.1 L1611.0,1287.3 L1612.5,1285.5 L1614.0,1283.7 L1615.5,1281.9 L1617.0,1280.1 L1618.5,1278.3 L1620.0,1276.5 L1621.5,1274.7 L1623.0,1272.9 L1624.5,1271.1 L1626.0,1269.3 L1627.5,1267.5 L1629.0,1265.7 L1630.5,1263.9 L1632.0,1262.1 L1633.5,1260.3 L1635.0,1258.5 L1636.5,1256.7 L1638.0,1254.9 L1639.5,1253.1 L1641.0,1251.4 L1642.5,1249.7 L1644.0,1248.0 L1645.5,1246.4 L1647.0,1244.9 L1648.5,1243.4 L1650.0,1242.0 L1651.5,1240.6 L1653.0,1239.3 L1654.5,1238.0 L1656.0,1236.7 L1657.5,1235.5 L1659.0,1234.4 L1660.5,1233.3 L1662.0,1232.2 L1663.5,1231.1 L1665.0,1230.1 L1666.5,1229.1 L1668.0,1228.2 L1669.5,1227.3 L1671.0,1226.5 L1672.5,1225.7 L1674.0,1225.0 L1675.5,1224.4 L1677.0,1223.8 L1678.5,1223.3 L1680.0,1222.8 L1681.5,1222.3 L1683.0,1221.9 L1684.5,1221.6 L1686.0,1221.2 L1687.5,1221.0 L1689.0,1220.7 L1690.5,1220.5 L1692.0,1220.3 L1693.5,1220.2 L1695.0,1220.1 L1696.5,1220.1 L1698.0,1220.0 L1699.5,1220.1 L1701.0,1220.1 L1702.5,1220.2 L1704.0,1220.3 L1705.5,1220.5 L1707.0,1220.6 L1708.5,1220.9 L1710.0,1221.2 L1711.5,1221.5 L1713.0,1221.9 L1714.5,1222.4 L1716.0,1222.9 L1717.5,1223.5 L1719.0,1224.0 L1720.5,1224.6 L1722.0,1225.3 L1723.5,1226.0 L1725.0,1226.7 L1726.5,1227.4 L1728.0,1228.2 L1729.5,1229.1 L1731.0,1230.0 L1732.5,1230.9 L1734.0,1231.9 L1735.5,1232.9 L1737.0,1233.9 L1738.5,1235.0 L1740.0,1236.0 L1741.5,1237.1 L1743.0,1238.1 L1744.5,1239.2 L1746.0,1240.2 L1747.5,1241.3 L1749.0,1242.3 L1750.5,1243.3 L1752.0,1244.4 L1753.5,1245.5 L1755.0,1246.5 L1756.5,1247.6 L1758.0,1248.6 L1759.5,1249.7 L1761.0,1250.7 L1762.5,1251.8 L1764.0,1252.8 L1765.5,1253.8 L1767.0,1254.9 L1768.5,1256.0 L1770.0,1257.0 L1771.5,1258.1 L1773.0,1259.1 L1774.5,1260.2 L1776.0,1261.2 L1777.5,1262.3 L1779.0,1263.3 L1780.5,1264.3 L1782.0,1265.4 L1783.5,1266.5 L1785.0,1267.5 L1786.5,1268.5 L1788.0,1269.6 L1789.5,1270.7 L1791.0,1271.7 L1792.5,1272.8 L1794.0,1273.8 L1795.5,1274.9 L1797.0,1275.9 L1798.5,1277.0 L1800.0,1278.0 L1801.5,1279.0 L1803.0,1280.1 L1804.5,1281.1 L1806.0,1282.2 L1807.5,1283.2 L1809.0,1284.3 L1810.5,1285.3 L1812.0,1286.4 L1813.5,1287.4 L1815.0,1288.4 L1816.5,1289.4 L1818.0,1290.4 L1819.5,1291.3 L1821.0,1292.3 L1822.5,1293.2 L1824.0,1294.1 L1825.5,1295.0 L1827.0,1295.8 L1828.5,1296.7 L1830.0,1297.5 L1831.5,1298.2 L1833.0,1299.0 L1834.5,1299.7 L1836.0,1300.4 L1837.5,1301.1 L1839.0,1301.8 L1840.5,1302.5 L1842.0,1303.1 L1843.5,1303.8 L1845.0,1304.4 L1846.5,1305.1 L1848.0,1305.7 L1849.5,1306.3 L1851.0,1306.9 L1852.5,1307.5 L1854.0,1308.1 L1855.5,1308.7 L1857.0,1309.3 L1858.5,1309.9 L1860.0,1310.5 L1861.5,1311.1 L1863.0,1311.7 L1864.5,1312.3 L1866.0,1312.9 L1867.5,1313.5 L1869.0,1314.1 L1870.5,1314.7 L1872.0,1315.4 L1873.5,1316.0 L1875.0,1316.6 L1876.5,1317.2 L1878.0,1317.9 L1879.5,1318.5 L1881.0,1319.1 L1882.5,1319.7 L1884.0,1320.3 L1885.5,1320.9 L1887.0,1321.4 L1888.5,1322.0 L1890.0,1322.5 L1891.5,1323.1 L1893.0,1323.6 L1894.5,1324.1 L1896.0,1324.5 L1897.5,1325.0 L1899.0,1325.4 L1900.5,1325.8 L1902.0,1326.2 L1903.5,1326.6 L1905.0,1326.9 L1906.5,1327.3 L1908.0,1327.6 L1909.5,1327.9 L1911.0,1328.2 L1912.5,1328.5 L1914.0,1328.8 L1915.5,1329.1 L1917.0,1329.3 L1918.5,1329.6 L1920.0,1329.8 L1921.5,1330.1 L1923.0,1330.3 L1924.5,1330.5 L1926.0,1330.7 L1927.5,1330.9 L1929.0,1331.1 L1930.5,1331.3 L1932.0,1331.5 L1933.5,1331.7 L1935.0,1331.9 L1936.5,1332.1 L1938.0,1332.3 L1939.5,1332.4 L1941.0,1332.6 L1942.5,1332.8 L1944.0,1332.9 L1945.5,1333.1 L1947.0,1333.3 L1948.5,1333.4 L1950.0,1333.6 L1951.5,1333.8 L1953.0,1333.9 L1954.5,1334.1 L1956.0,1334.3 L1957.5,1334.5 L1959.0,1334.6 L1960.5,1334.8 L1962.0,1335.0 L1963.5,1335.2 L1965.0,1335.4 L1966.5,1335.5 L1968.0,1335.7 L1969.5,1335.9 L1971.0,1336.1 L1972.5,1336.3 L1974.0,1336.5 L1975.5,1336.6 L1977.0,1336.8 L1978.5,1337.0 L1980.0,1337.2 L1981.5,1337.4 L1983.0,1337.5 L1984.5,1337.7 L1986.0,1337.9 L1987.5,1338.1 L1989.0,1338.3 L1990.5,1338.4 L1992.0,1338.6 L1993.5,1338.8 L1995.0,1339.0 L1996.5,1339.1 L1998.0,1339.3 L1999.5,1339.5 L2001.0,1339.6 L2002.5,1339.8 L2004.0,1339.9 L2005.5,1340.1 L2007.0,1340.3 L2008.5,1340.4 L2010.0,1340.6 L2011.5,1340.7 L2013.0,1340.8 L2014.5,1341.0 L2016.0,1341.1 L2017.5,1341.3 L2019.0,1341.4 L2020.5,1341.5 L2022.0,1341.6 L2023.5,1341.8 L2025.0,1341.9 L2026.5,1342.0 L2028.0,1342.1 L2029.5,1342.3 L2031.0,1342.4 L2032.5,1342.5 L2034.0,1342.6 L2035.5,1342.7 L2037.0,1342.8 L2038.5,1342.9 L2040.0,1343.0 L2041.5,1343.1 L2043.0,1343.2 L2044.5,1343.3 L2046.0,1343.4 L2047.5,1343.5 L2049.0,1343.6 L2050.5,1343.7 L2052.0,1343.8 L2053.5,1343.9 L2055.0,1344.0 L2056.5,1344.0 L2058.0,1344.1 L2059.5,1344.2 L2061.0,1344.3 L2062.5,1344.3 L2064.0,1344.4 L2065.5,1344.5 L2067.0,1344.5 L2068.5,1344.6 L2070.0,1344.7 L2071.5,1344.7 L2073.0,1344.8 L2074.5,1344.8 L2076.0,1344.9 L2077.5,1344.9 L2079.0,1345.0 L2080.5,1345.0 L2082.0,1345.1 L2083.5,1345.1 L2085.0,1345.1 L2086.5,1345.2 L2088.0,1345.2 L2089.5,1345.2 L2091.0,1345.3 L2092.5,1345.3 L2094.0,1345.4 L2095.5,1345.4 L2097.0,1345.4 L2098.5,1345.5 L2100.0,1345.5 L2101.5,1345.5 L2103.0,1345.6 L2104.5,1345.6 L2106.0,1345.6 L2107.5,1345.7 L2109.0,1345.7 L2110.5,1345.8 L2112.0,1345.8 L2113.5,1345.8 L2115.0,1345.9 L2116.5,1345.9 L2118.0,1345.9 L2119.5,1345.9 L2121.0,1346.0 L2122.5,1346.0 L2124.0,1346.0 L2125.5,1346.1 L2127.0,1346.1 L2128.5,1346.1 L2130.0,1346.2 L2131.5,1346.2 L2133.0,1346.2 L2134.5,1346.2 L2136.0,1346.3 L2137.5,1346.3 L2139.0,1346.3 L2140.5,1346.3 L2142.0,1346.4 L2143.5,1346.4 L2145.0,1346.4 L2146.5,1346.4 L2148.0,1346.5 L2149.5,1346.5 L2151.0,1346.5 L2152.5,1346.5 L2154.0,1346.6 L2155.5,1346.6 L2157.0,1346.6 L2158.5,1346.6 L2160.0,1346.6 L2161.5,1346.7 L2163.0,1346.7 L2164.5,1346.7 L2166.0,1346.7 L2167.5,1346.8 L2169.0,1346.8 L2170.5,1346.8 L2172.0,1346.8 L2173.5,1346.9 L2175.0,1346.9 L2176.5,1346.9 L2178.0,1346.9 L2179.5,1346.9 L2181.0,1347.0 L2182.5,1347.0 L2184.0,1347.0 L2185.5,1347.0 L2187.0,1347.0 L2188.5,1347.1 L2190.0,1347.1 L2191.5,1347.1 L2193.0,1347.1 L2194.5,1347.1 L2196.0,1347.2 L2197.5,1347.2 L2199.0,1347.2 L2200.5,1347.2 L2202.0,1347.2 L2203.5,1347.3 L2205.0,1347.3 L2206.5,1347.3 L2208.0,1347.3 L2209.5,1347.3 L2211.0,1347.4 L2212.5,1347.4 L2214.0,1347.4 L2215.5,1347.4 L2217.0,1347.4 L2218.5,1347.4 L2220.0,1347.5 L2221.5,1347.5 L2223.0,1347.5 L2224.5,1347.5"/>
<path class="cv" d="M415.5,1350.8 L417.0,1350.8 L418.5,1350.9 L420.0,1350.9 L421.5,1350.9 L423.0,1350.9 L424.5,1351.0 L426.0,1351.0 L427.5,1351.0 L429.0,1351.0 L430.5,1351.1 L432.0,1351.1 L433.5,1351.1 L435.0,1351.1 L436.5,1351.2 L438.0,1351.2 L439.5,1351.2 L441.0,1351.2 L442.5,1351.2 L444.0,1351.3 L445.5,1351.3 L447.0,1351.3 L448.5,1351.3 L450.0,1351.3 L451.5,1351.4 L453.0,1351.4 L454.5,1351.4 L456.0,1351.4 L457.5,1351.4 L459.0,1351.5 L460.5,1351.5 L462.0,1351.5 L463.5,1351.5 L465.0,1351.5 L466.5,1351.5 L468.0,1351.5 L469.5,1351.6 L471.0,1351.6 L472.5,1351.6 L474.0,1351.6 L475.5,1351.6 L477.0,1351.6 L478.5,1351.6 L480.0,1351.6 L481.5,1351.6 L483.0,1351.7 L484.5,1351.7 L486.0,1351.7 L487.5,1351.7 L489.0,1351.7 L490.5,1351.7 L492.0,1351.7 L493.5,1351.7 L495.0,1351.7 L496.5,1351.7 L498.0,1351.7 L499.5,1351.7 L501.0,1351.7 L502.5,1351.7 L504.0,1351.7 L505.5,1351.8 L507.0,1351.8 L508.5,1351.8 L510.0,1351.8 L511.5,1351.8 L513.0,1351.8 L514.5,1351.8 L516.0,1351.8 L517.5,1351.8 L519.0,1351.8 L520.5,1351.8 L522.0,1351.8 L523.5,1351.8 L525.0,1351.8 L526.5,1351.8 L528.0,1351.7 L529.5,1351.7 L531.0,1351.7 L532.5,1351.7 L534.0,1351.7 L535.5,1351.7 L537.0,1351.7 L538.5,1351.7 L540.0,1351.7 L541.5,1351.7 L543.0,1351.7 L544.5,1351.7 L546.0,1351.7 L547.5,1351.7 L549.0,1351.7 L550.5,1351.6 L552.0,1351.6 L553.5,1351.6 L555.0,1351.6 L556.5,1351.6 L558.0,1351.6 L559.5,1351.6 L561.0,1351.6 L562.5,1351.5 L564.0,1351.5 L565.5,1351.5 L567.0,1351.5 L568.5,1351.5 L570.0,1351.5 L571.5,1351.5 L573.0,1351.4 L574.5,1351.4 L576.0,1351.4 L577.5,1351.4 L579.0,1351.4 L580.5,1351.3 L582.0,1351.3 L583.5,1351.3 L585.0,1351.3 L586.5,1351.3 L588.0,1351.2 L589.5,1351.2 L591.0,1351.2 L592.5,1351.2 L594.0,1351.2 L595.5,1351.1 L597.0,1351.1 L598.5,1351.1 L600.0,1351.1 L601.5,1351.0 L603.0,1351.0 L604.5,1351.0 L606.0,1351.0 L607.5,1350.9 L609.0,1350.9 L610.5,1350.9 L612.0,1350.8 L613.5,1350.8 L615.0,1350.8 L616.5,1350.8 L618.0,1350.7 L619.5,1350.7 L621.0,1350.7 L622.5,1350.6 L624.0,1350.6 L625.5,1350.6 L627.0,1350.5 L628.5,1350.5 L630.0,1350.5 L631.5,1350.4 L633.0,1350.4 L634.5,1350.4 L636.0,1350.3 L637.5,1350.3 L639.0,1350.2 L640.5,1350.2 L642.0,1350.2 L643.5,1350.1 L645.0,1350.1 L646.5,1350.1 L648.0,1350.0 L649.5,1350.0 L651.0,1349.9 L652.5,1349.9 L654.0,1349.8 L655.5,1349.8 L657.0,1349.8 L658.5,1349.7 L660.0,1349.7 L661.5,1349.6 L663.0,1349.6 L664.5,1349.5 L666.0,1349.5 L667.5,1349.4 L669.0,1349.4 L670.5,1349.3 L672.0,1349.3 L673.5,1349.2 L675.0,1349.2 L676.5,1349.1 L678.0,1349.1 L679.5,1349.0 L681.0,1349.0 L682.5,1348.9 L684.0,1348.8 L685.5,1348.8 L687.0,1348.7 L688.5,1348.7 L690.0,1348.6 L691.5,1348.5 L693.0,1348.4 L694.5,1348.4 L696.0,1348.3 L697.5,1348.2 L699.0,1348.1 L700.5,1348.1 L702.0,1348.0 L703.5,1347.9 L705.0,1347.8 L706.5,1347.7 L708.0,1347.6 L709.5,1347.5 L711.0,1347.4 L712.5,1347.3 L714.0,1347.2 L715.5,1347.1 L717.0,1347.0 L718.5,1346.9 L720.0,1346.7 L721.5,1346.6 L723.0,1346.5 L724.5,1346.4 L726.0,1346.2 L727.5,1346.1 L729.0,1345.9 L730.5,1345.8 L732.0,1345.7 L733.5,1345.5 L735.0,1345.4 L736.5,1345.2 L738.0,1345.1 L739.5,1345.0 L741.0,1344.8 L742.5,1344.7 L744.0,1344.5 L745.5,1344.4 L747.0,1344.2 L748.5,1344.1 L750.0,1343.9 L751.5,1343.8 L753.0,1343.6 L754.5,1343.5 L756.0,1343.4 L757.5,1343.2 L759.0,1343.1 L760.5,1342.9 L762.0,1342.8 L763.5,1342.6 L765.0,1342.5 L766.5,1342.3 L768.0,1342.2 L769.5,1342.0 L771.0,1341.8 L772.5,1341.7 L774.0,1341.5 L775.5,1341.4 L777.0,1341.2 L778.5,1341.1 L780.0,1340.9 L781.5,1340.8 L783.0,1340.6 L784.5,1340.5 L786.0,1340.3 L787.5,1340.2 L789.0,1340.0 L790.5,1339.9 L792.0,1339.7 L793.5,1339.6 L795.0,1339.4 L796.5,1339.3 L798.0,1339.1 L799.5,1339.0 L801.0,1338.8 L802.5,1338.7 L804.0,1338.5 L805.5,1338.4 L807.0,1338.2 L808.5,1338.1 L810.0,1337.9 L811.5,1337.8 L813.0,1337.6 L814.5,1337.5 L816.0,1337.3 L817.5,1337.2 L819.0,1337.0 L820.5,1336.9 L822.0,1336.7 L823.5,1336.6 L825.0,1336.5 L826.5,1336.3 L828.0,1336.2 L829.5,1336.0 L831.0,1335.9 L832.5,1335.8 L834.0,1335.6 L835.5,1335.5 L837.0,1335.4 L838.5,1335.2 L840.0,1335.1 L841.5,1334.9 L843.0,1334.8 L844.5,1334.7 L846.0,1334.5 L847.5,1334.4 L849.0,1334.3 L850.5,1334.1 L852.0,1334.0 L853.5,1333.9 L855.0,1333.8 L856.5,1333.7 L858.0,1333.5 L859.5,1333.4 L861.0,1333.3 L862.5,1333.2 L864.0,1333.1 L865.5,1333.0 L867.0,1332.9 L868.5,1332.8 L870.0,1332.7 L871.5,1332.6 L873.0,1332.5 L874.5,1332.4 L876.0,1332.3 L877.5,1332.3 L879.0,1332.2 L880.5,1332.1 L882.0,1332.1 L883.5,1332.0 L885.0,1331.9 L886.5,1331.9 L888.0,1331.8 L889.5,1331.8 L891.0,1331.7 L892.5,1331.7 L894.0,1331.6 L895.5,1331.6 L897.0,1331.6 L898.5,1331.5 L900.0,1331.5 L901.5,1331.5 L903.0,1331.5 L904.5,1331.4 L906.0,1331.4 L907.5,1331.4 L909.0,1331.4 L910.5,1331.4 L912.0,1331.4 L913.5,1331.4 L915.0,1331.3 L916.5,1331.3 L918.0,1331.3 L919.5,1331.3 L921.0,1331.3 L922.5,1331.3 L924.0,1331.3 L925.5,1331.3 L927.0,1331.3 L928.5,1331.3 L930.0,1331.3 L931.5,1331.3 L933.0,1331.3 L934.5,1331.3 L936.0,1331.3 L937.5,1331.3 L939.0,1331.3 L940.5,1331.3 L942.0,1331.3 L943.5,1331.3 L945.0,1331.4 L946.5,1331.4 L948.0,1331.4 L949.5,1331.4 L951.0,1331.4 L952.5,1331.5 L954.0,1331.5 L955.5,1331.5 L957.0,1331.6 L958.5,1331.6 L960.0,1331.6 L961.5,1331.7 L963.0,1331.7 L964.5,1331.8 L966.0,1331.8 L967.5,1331.9 L969.0,1331.9 L970.5,1332.0 L972.0,1332.0 L973.5,1332.1 L975.0,1332.1 L976.5,1332.2 L978.0,1332.2 L979.5,1332.3 L981.0,1332.4 L982.5,1332.4 L984.0,1332.5 L985.5,1332.6 L987.0,1332.6 L988.5,1332.7 L990.0,1332.8 L991.5,1332.9 L993.0,1333.0 L994.5,1333.1 L996.0,1333.1 L997.5,1333.2 L999.0,1333.3 L1000.5,1333.4 L1002.0,1333.6 L1003.5,1333.7 L1005.0,1333.8 L1006.5,1333.9 L1008.0,1334.0 L1009.5,1334.1 L1011.0,1334.2 L1012.5,1334.3 L1014.0,1334.4 L1015.5,1334.5 L1017.0,1334.6 L1018.5,1334.7 L1020.0,1334.9 L1021.5,1335.0 L1023.0,1335.1 L1024.5,1335.2 L1026.0,1335.3 L1027.5,1335.4 L1029.0,1335.5 L1030.5,1335.6 L1032.0,1335.7 L1033.5,1335.8 L1035.0,1335.9 L1036.5,1336.0 L1038.0,1336.2 L1039.5,1336.3 L1041.0,1336.4 L1042.5,1336.5 L1044.0,1336.6 L1045.5,1336.7 L1047.0,1336.8 L1048.5,1336.9 L1050.0,1337.0 L1051.5,1337.1 L1053.0,1337.2 L1054.5,1337.3 L1056.0,1337.5 L1057.5,1337.6 L1059.0,1337.7 L1060.5,1337.8 L1062.0,1337.9 L1063.5,1338.0 L1065.0,1338.0 L1066.5,1338.1 L1068.0,1338.2 L1069.5,1338.3 L1071.0,1338.3 L1072.5,1338.4 L1074.0,1338.5 L1075.5,1338.5 L1077.0,1338.6 L1078.5,1338.6 L1080.0,1338.7 L1081.5,1338.7 L1083.0,1338.8 L1084.5,1338.8 L1086.0,1338.8 L1087.5,1338.9 L1089.0,1338.9 L1090.5,1339.0 L1092.0,1339.0 L1093.5,1339.1 L1095.0,1339.1 L1096.5,1339.2 L1098.0,1339.2 L1099.5,1339.3 L1101.0,1339.3 L1102.5,1339.4 L1104.0,1339.4 L1105.5,1339.4 L1107.0,1339.5 L1108.5,1339.5 L1110.0,1339.5 L1111.5,1339.5 L1113.0,1339.5 L1114.5,1339.6 L1116.0,1339.6 L1117.5,1339.6 L1119.0,1339.6 L1120.5,1339.6 L1122.0,1339.6 L1123.5,1339.6 L1125.0,1339.7 L1126.5,1339.7 L1128.0,1339.7 L1129.5,1339.7 L1131.0,1339.7 L1132.5,1339.7 L1134.0,1339.7 L1135.5,1339.7 L1137.0,1339.7 L1138.5,1339.7 L1140.0,1339.7 L1141.5,1339.7 L1143.0,1339.6 L1144.5,1339.6 L1146.0,1339.5 L1147.5,1339.4 L1149.0,1339.4 L1150.5,1339.3 L1152.0,1339.1 L1153.5,1339.0 L1155.0,1338.9 L1156.5,1338.7 L1158.0,1338.6 L1159.5,1338.4 L1161.0,1338.2 L1162.5,1338.0 L1164.0,1337.8 L1165.5,1337.6 L1167.0,1337.3 L1168.5,1337.1 L1170.0,1336.8 L1171.5,1336.5 L1173.0,1336.2 L1174.5,1335.8 L1176.0,1335.3 L1177.5,1334.8 L1179.0,1334.2 L1180.5,1333.6 L1182.0,1332.9 L1183.5,1332.1 L1185.0,1331.2 L1186.5,1330.3 L1188.0,1329.3 L1189.5,1328.2 L1191.0,1327.0 L1192.5,1325.8 L1194.0,1324.4 L1195.5,1323.0 L1197.0,1321.6 L1198.5,1320.2 L1200.0,1318.7 L1201.5,1317.2 L1203.0,1315.7 L1204.5,1314.1 L1206.0,1312.6 L1207.5,1311.1 L1209.0,1309.5 L1210.5,1308.0 L1212.0,1306.4 L1213.5,1304.9 L1215.0,1303.4 L1216.5,1301.9 L1218.0,1300.4 L1219.5,1298.9 L1221.0,1297.4 L1222.5,1295.9 L1224.0,1294.4 L1225.5,1293.0 L1227.0,1291.5 L1228.5,1290.1 L1230.0,1288.6 L1231.5,1287.2 L1233.0,1285.9 L1234.5,1284.6 L1236.0,1283.4 L1237.5,1282.3 L1239.0,1281.2 L1240.5,1280.3 L1242.0,1279.4 L1243.5,1278.5 L1245.0,1277.7 L1246.5,1276.9 L1248.0,1276.2 L1249.5,1275.5 L1251.0,1274.9 L1252.5,1274.4 L1254.0,1274.0 L1255.5,1273.7 L1257.0,1273.4 L1258.5,1273.3 L1260.0,1273.2 L1261.5,1273.2 L1263.0,1273.3 L1264.5,1273.5 L1266.0,1273.7 L1267.5,1274.0 L1269.0,1274.3 L1270.5,1274.8 L1272.0,1275.3 L1273.5,1275.9 L1275.0,1276.5 L1276.5,1277.3 L1278.0,1278.0 L1279.5,1278.8 L1281.0,1279.6 L1282.5,1280.4 L1284.0,1281.3 L1285.5,1282.1 L1287.0,1282.9 L1288.5,1283.7 L1290.0,1284.5 L1291.5,1285.4 L1293.0,1286.2 L1294.5,1287.0 L1296.0,1287.8 L1297.5,1288.6 L1299.0,1289.4 L1300.5,1290.2 L1302.0,1291.0 L1303.5,1291.8 L1305.0,1292.6 L1306.5,1293.4 L1308.0,1294.2 L1309.5,1295.0 L1311.0,1295.8 L1312.5,1296.6 L1314.0,1297.3 L1315.5,1298.0 L1317.0,1298.7 L1318.5,1299.4 L1320.0,1300.0 L1321.5,1300.6 L1323.0,1301.2 L1324.5,1301.7 L1326.0,1302.1 L1327.5,1302.6 L1329.0,1302.9 L1330.5,1303.3 L1332.0,1303.7 L1333.5,1304.0 L1335.0,1304.3 L1336.5,1304.6 L1338.0,1305.0 L1339.5,1305.3 L1341.0,1305.5 L1342.5,1305.8 L1344.0,1306.1 L1345.5,1306.3 L1347.0,1306.6 L1348.5,1306.8 L1350.0,1307.0 L1351.5,1307.3 L1353.0,1307.5 L1354.5,1307.7 L1356.0,1307.9 L1357.5,1308.2 L1359.0,1308.4 L1360.5,1308.6 L1362.0,1308.8 L1363.5,1309.1 L1365.0,1309.3 L1366.5,1309.5 L1368.0,1309.7 L1369.5,1310.0 L1371.0,1310.3 L1372.5,1310.6 L1374.0,1310.9 L1375.5,1311.2 L1377.0,1311.6 L1378.5,1312.0 L1380.0,1312.4 L1381.5,1312.8 L1383.0,1313.2 L1384.5,1313.6 L1386.0,1313.9 L1387.5,1314.3 L1389.0,1314.7 L1390.5,1315.0 L1392.0,1315.4 L1393.5,1315.8 L1395.0,1316.2 L1396.5,1316.6 L1398.0,1317.0 L1399.5,1317.4 L1401.0,1317.8 L1402.5,1318.3 L1404.0,1318.7 L1405.5,1319.2 L1407.0,1319.7 L1408.5,1320.2 L1410.0,1320.7 L1411.5,1321.2 L1413.0,1321.7 L1414.5,1322.2 L1416.0,1322.7 L1417.5,1323.2 L1419.0,1323.7 L1420.5,1324.3 L1422.0,1324.8 L1423.5,1325.4 L1425.0,1325.9 L1426.5,1326.5 L1428.0,1327.1 L1429.5,1327.6 L1431.0,1328.1 L1432.5,1328.6 L1434.0,1329.0 L1435.5,1329.4 L1437.0,1329.9 L1438.5,1330.3 L1440.0,1330.7 L1441.5,1331.1 L1443.0,1331.5 L1444.5,1331.8 L1446.0,1332.2 L1447.5,1332.6 L1449.0,1332.9 L1450.5,1333.3 L1452.0,1333.6 L1453.5,1334.0 L1455.0,1334.3 L1456.5,1334.6 L1458.0,1334.9 L1459.5,1335.2 L1461.0,1335.5 L1462.5,1335.8 L1464.0,1336.0 L1465.5,1336.3 L1467.0,1336.5 L1468.5,1336.7 L1470.0,1336.9 L1471.5,1337.2 L1473.0,1337.4 L1474.5,1337.6 L1476.0,1337.8 L1477.5,1338.0 L1479.0,1338.1 L1480.5,1338.3 L1482.0,1338.5 L1483.5,1338.7 L1485.0,1338.9 L1486.5,1339.0 L1488.0,1339.2 L1489.5,1339.3 L1491.0,1339.5 L1492.5,1339.6 L1494.0,1339.7 L1495.5,1339.8 L1497.0,1339.9 L1498.5,1340.0 L1500.0,1340.1 L1501.5,1340.2 L1503.0,1340.2 L1504.5,1340.3 L1506.0,1340.3 L1507.5,1340.3 L1509.0,1340.3 L1510.5,1340.3 L1512.0,1340.3 L1513.5,1340.3 L1515.0,1340.2 L1516.5,1340.2 L1518.0,1340.1 L1519.5,1340.1 L1521.0,1340.0 L1522.5,1339.9 L1524.0,1339.8 L1525.5,1339.7 L1527.0,1339.6 L1528.5,1339.4 L1530.0,1339.3 L1531.5,1339.1 L1533.0,1339.0 L1534.5,1338.8 L1536.0,1338.6 L1537.5,1338.4 L1539.0,1338.2 L1540.5,1337.9 L1542.0,1337.7 L1543.5,1337.4 L1545.0,1337.1 L1546.5,1336.8 L1548.0,1336.5 L1549.5,1336.1 L1551.0,1335.7 L1552.5,1335.3 L1554.0,1334.9 L1555.5,1334.5 L1557.0,1334.1 L1558.5,1333.6 L1560.0,1333.1 L1561.5,1332.7 L1563.0,1332.2 L1564.5,1331.7 L1566.0,1331.2 L1567.5,1330.7 L1569.0,1330.2 L1570.5,1329.7 L1572.0,1329.2 L1573.5,1328.7 L1575.0,1328.1 L1576.5,1327.5 L1578.0,1326.8 L1579.5,1326.1 L1581.0,1325.3 L1582.5,1324.5 L1584.0,1323.5 L1585.5,1322.5 L1587.0,1321.4 L1588.5,1320.1 L1590.0,1318.8 L1591.5,1317.5 L1593.0,1316.1 L1594.5,1314.7 L1596.0,1313.3 L1597.5,1311.9 L1599.0,1310.4 L1600.5,1309.0 L1602.0,1307.6 L1603.5,1306.2 L1605.0,1304.8 L1606.5,1303.3 L1608.0,1301.9 L1609.5,1300.5 L1611.0,1299.0 L1612.5,1297.6 L1614.0,1296.2 L1615.5,1294.7 L1617.0,1293.3 L1618.5,1291.9 L1620.0,1290.4 L1621.5,1289.0 L1623.0,1287.6 L1624.5,1286.1 L1626.0,1284.7 L1627.5,1283.3 L1629.0,1281.8 L1630.5,1280.4 L1632.0,1279.0 L1633.5,1277.5 L1635.0,1276.1 L1636.5,1274.7 L1638.0,1273.2 L1639.5,1271.8 L1641.0,1270.4 L1642.5,1269.1 L1644.0,1267.8 L1645.5,1266.5 L1647.0,1265.3 L1648.5,1264.1 L1650.0,1262.9 L1651.5,1261.8 L1653.0,1260.8 L1654.5,1259.8 L1656.0,1258.8 L1657.5,1257.9 L1659.0,1256.9 L1660.5,1256.0 L1662.0,1255.2 L1663.5,1254.4 L1665.0,1253.5 L1666.5,1252.8 L1668.0,1252.0 L1669.5,1251.4 L1671.0,1250.7 L1672.5,1250.1 L1674.0,1249.6 L1675.5,1249.1 L1677.0,1248.6 L1678.5,1248.2 L1680.0,1247.8 L1681.5,1247.5 L1683.0,1247.2 L1684.5,1246.9 L1686.0,1246.7 L1687.5,1246.5 L1689.0,1246.3 L1690.5,1246.2 L1692.0,1246.0 L1693.5,1246.0 L1695.0,1245.9 L1696.5,1245.9 L1698.0,1245.9 L1699.5,1246.0 L1701.0,1246.0 L1702.5,1246.1 L1704.0,1246.3 L1705.5,1246.4 L1707.0,1246.6 L1708.5,1246.8 L1710.0,1247.1 L1711.5,1247.4 L1713.0,1247.8 L1714.5,1248.2 L1716.0,1248.6 L1717.5,1249.1 L1719.0,1249.5 L1720.5,1250.0 L1722.0,1250.6 L1723.5,1251.1 L1725.0,1251.7 L1726.5,1252.4 L1728.0,1253.0 L1729.5,1253.7 L1731.0,1254.4 L1732.5,1255.2 L1734.0,1255.9 L1735.5,1256.8 L1737.0,1257.6 L1738.5,1258.4 L1740.0,1259.3 L1741.5,1260.1 L1743.0,1260.9 L1744.5,1261.8 L1746.0,1262.6 L1747.5,1263.5 L1749.0,1264.3 L1750.5,1265.1 L1752.0,1266.0 L1753.5,1266.8 L1755.0,1267.7 L1756.5,1268.5 L1758.0,1269.3 L1759.5,1270.2 L1761.0,1271.0 L1762.5,1271.8 L1764.0,1272.7 L1765.5,1273.5 L1767.0,1274.4 L1768.5,1275.2 L1770.0,1276.1 L1771.5,1276.9 L1773.0,1277.7 L1774.5,1278.6 L1776.0,1279.4 L1777.5,1280.3 L1779.0,1281.1 L1780.5,1281.9 L1782.0,1282.8 L1783.5,1283.6 L1785.0,1284.4 L1786.5,1285.3 L1788.0,1286.1 L1789.5,1287.0 L1791.0,1287.8 L1792.5,1288.6 L1794.0,1289.5 L1795.5,1290.3 L1797.0,1291.1 L1798.5,1292.0 L1800.0,1292.8 L1801.5,1293.6 L1803.0,1294.5 L1804.5,1295.3 L1806.0,1296.1 L1807.5,1296.9 L1809.0,1297.8 L1810.5,1298.6 L1812.0,1299.4 L1813.5,1300.2 L1815.0,1301.0 L1816.5,1301.8 L1818.0,1302.5 L1819.5,1303.3 L1821.0,1304.0 L1822.5,1304.8 L1824.0,1305.5 L1825.5,1306.2 L1827.0,1306.8 L1828.5,1307.5 L1830.0,1308.1 L1831.5,1308.8 L1833.0,1309.4 L1834.5,1309.9 L1836.0,1310.5 L1837.5,1311.0 L1839.0,1311.6 L1840.5,1312.1 L1842.0,1312.6 L1843.5,1313.2 L1845.0,1313.7 L1846.5,1314.2 L1848.0,1314.7 L1849.5,1315.2 L1851.0,1315.7 L1852.5,1316.1 L1854.0,1316.6 L1855.5,1317.1 L1857.0,1317.6 L1858.5,1318.1 L1860.0,1318.5 L1861.5,1319.0 L1863.0,1319.5 L1864.5,1320.0 L1866.0,1320.5 L1867.5,1320.9 L1869.0,1321.4 L1870.5,1321.9 L1872.0,1322.4 L1873.5,1322.9 L1875.0,1323.4 L1876.5,1323.9 L1878.0,1324.4 L1879.5,1324.9 L1881.0,1325.4 L1882.5,1325.9 L1884.0,1326.4 L1885.5,1326.8 L1887.0,1327.3 L1888.5,1327.8 L1890.0,1328.2 L1891.5,1328.6 L1893.0,1329.0 L1894.5,1329.4 L1896.0,1329.8 L1897.5,1330.2 L1899.0,1330.5 L1900.5,1330.9 L1902.0,1331.2 L1903.5,1331.5 L1905.0,1331.8 L1906.5,1332.1 L1908.0,1332.3 L1909.5,1332.6 L1911.0,1332.9 L1912.5,1333.1 L1914.0,1333.3 L1915.5,1333.6 L1917.0,1333.8 L1918.5,1334.0 L1920.0,1334.2 L1921.5,1334.4 L1923.0,1334.6 L1924.5,1334.8 L1926.0,1335.0 L1927.5,1335.1 L1929.0,1335.3 L1930.5,1335.5 L1932.0,1335.6 L1933.5,1335.8 L1935.0,1335.9 L1936.5,1336.1 L1938.0,1336.2 L1939.5,1336.4 L1941.0,1336.5 L1942.5,1336.6 L1944.0,1336.8 L1945.5,1336.9 L1947.0,1337.1 L1948.5,1337.2 L1950.0,1337.3 L1951.5,1337.5 L1953.0,1337.6 L1954.5,1337.7 L1956.0,1337.9 L1957.5,1338.0 L1959.0,1338.2 L1960.5,1338.3 L1962.0,1338.5 L1963.5,1338.6 L1965.0,1338.8 L1966.5,1338.9 L1968.0,1339.1 L1969.5,1339.2 L1971.0,1339.3 L1972.5,1339.5 L1974.0,1339.6 L1975.5,1339.8 L1977.0,1339.9 L1978.5,1340.1 L1980.0,1340.2 L1981.5,1340.4 L1983.0,1340.5 L1984.5,1340.7 L1986.0,1340.8 L1987.5,1341.0 L1989.0,1341.1 L1990.5,1341.3 L1992.0,1341.4 L1993.5,1341.5 L1995.0,1341.7 L1996.5,1341.8 L1998.0,1341.9 L1999.5,1342.1 L2001.0,1342.2 L2002.5,1342.3 L2004.0,1342.5 L2005.5,1342.6 L2007.0,1342.7 L2008.5,1342.8 L2010.0,1343.0 L2011.5,1343.1 L2013.0,1343.2 L2014.5,1343.3 L2016.0,1343.4 L2017.5,1343.5 L2019.0,1343.6 L2020.5,1343.7 L2022.0,1343.8 L2023.5,1343.9 L2025.0,1344.0 L2026.5,1344.1 L2028.0,1344.2 L2029.5,1344.3 L2031.0,1344.4 L2032.5,1344.5 L2034.0,1344.6 L2035.5,1344.7 L2037.0,1344.8 L2038.5,1344.9 L2040.0,1345.0 L2041.5,1345.0 L2043.0,1345.1 L2044.5,1345.2 L2046.0,1345.3 L2047.5,1345.4 L2049.0,1345.4 L2050.5,1345.5 L2052.0,1345.6 L2053.5,1345.6 L2055.0,1345.7 L2056.5,1345.8 L2058.0,1345.8 L2059.5,1345.9 L2061.0,1346.0 L2062.5,1346.0 L2064.0,1346.1 L2065.5,1346.1 L2067.0,1346.2 L2068.5,1346.2 L2070.0,1346.3 L2071.5,1346.3 L2073.0,1346.4 L2074.5,1346.4 L2076.0,1346.5 L2077.5,1346.5 L2079.0,1346.5 L2080.5,1346.6 L2082.0,1346.6 L2083.5,1346.7 L2085.0,1346.7 L2086.5,1346.7 L2088.0,1346.8 L2089.5,1346.8 L2091.0,1346.8 L2092.5,1346.9 L2094.0,1346.9 L2095.5,1346.9 L2097.0,1346.9 L2098.5,1347.0 L2100.0,1347.0 L2101.5,1347.0 L2103.0,1347.1 L2104.5,1347.1 L2106.0,1347.1 L2107.5,1347.2 L2109.0,1347.2 L2110.5,1347.2 L2112.0,1347.3 L2113.5,1347.3 L2115.0,1347.3 L2116.5,1347.3 L2118.0,1347.4 L2119.5,1347.4 L2121.0,1347.4 L2122.5,1347.4 L2124.0,1347.5 L2125.5,1347.5 L2127.0,1347.5 L2128.5,1347.6 L2130.0,1347.6 L2131.5,1347.6 L2133.0,1347.6 L2134.5,1347.7 L2136.0,1347.7 L2137.5,1347.7 L2139.0,1347.7 L2140.5,1347.7 L2142.0,1347.8 L2143.5,1347.8 L2145.0,1347.8 L2146.5,1347.8 L2148.0,1347.8 L2149.5,1347.9 L2151.0,1347.9 L2152.5,1347.9 L2154.0,1347.9 L2155.5,1347.9 L2157.0,1348.0 L2158.5,1348.0 L2160.0,1348.0 L2161.5,1348.0 L2163.0,1348.0 L2164.5,1348.1 L2166.0,1348.1 L2167.5,1348.1 L2169.0,1348.1 L2170.5,1348.1 L2172.0,1348.2 L2173.5,1348.2 L2175.0,1348.2 L2176.5,1348.2 L2178.0,1348.2 L2179.5,1348.3 L2181.0,1348.3 L2182.5,1348.3 L2184.0,1348.3 L2185.5,1348.3 L2187.0,1348.3 L2188.5,1348.4 L2190.0,1348.4 L2191.5,1348.4 L2193.0,1348.4 L2194.5,1348.4 L2196.0,1348.4 L2197.5,1348.5 L2199.0,1348.5 L2200.5,1348.5 L2202.0,1348.5 L2203.5,1348.5 L2205.0,1348.5 L2206.5,1348.6 L2208.0,1348.6 L2209.5,1348.6 L2211.0,1348.6 L2212.5,1348.6 L2214.0,1348.6 L2215.5,1348.6 L2217.0,1348.7 L2218.5,1348.7 L2220.0,1348.7 L2221.5,1348.7 L2223.0,1348.7 L2224.5,1348.7"/>
<path class="cv" d="M415.5,1351.1 L417.0,1351.1 L418.5,1351.1 L420.0,1351.2 L421.5,1351.2 L423.0,1351.2 L424.5,1351.2 L426.0,1351.3 L427.5,1351.3 L429.0,1351.3 L430.5,1351.3 L432.0,1351.3 L433.5,1351.4 L435.0,1351.4 L436.5,1351.4 L438.0,1351.4 L439.5,1351.4 L441.0,1351.4 L442.5,1351.5 L444.0,1351.5 L445.5,1351.5 L447.0,1351.5 L448.5,1351.5 L450.0,1351.5 L451.5,1351.6 L453.0,1351.6 L454.5,1351.6 L456.0,1351.6 L457.5,1351.6 L459.0,1351.6 L460.5,1351.6 L462.0,1351.7 L463.5,1351.7 L465.0,1351.7 L466.5,1351.7 L468.0,1351.7 L469.5,1351.7 L471.0,1351.7 L472.5,1351.7 L474.0,1351.7 L475.5,1351.7 L477.0,1351.8 L478.5,1351.8 L480.0,1351.8 L481.5,1351.8 L483.0,1351.8 L484.5,1351.8 L486.0,1351.8 L487.5,1351.8 L489.0,1351.8 L490.5,1351.8 L492.0,1351.8 L493.5,1351.8 L495.0,1351.8 L496.5,1351.8 L498.0,1351.9 L499.5,1351.9 L501.0,1351.9 L502.5,1351.9 L504.0,1351.9 L505.5,1351.9 L507.0,1351.9 L508.5,1351.9 L510.0,1351.9 L511.5,1351.9 L513.0,1351.9 L514.5,1351.9 L516.0,1351.9 L517.5,1351.9 L519.0,1351.9 L520.5,1351.9 L522.0,1351.9 L523.5,1351.9 L525.0,1351.9 L526.5,1351.9 L528.0,1351.9 L529.5,1351.9 L531.0,1351.9 L532.5,1351.9 L534.0,1351.8 L535.5,1351.8 L537.0,1351.8 L538.5,1351.8 L540.0,1351.8 L541.5,1351.8 L543.0,1351.8 L544.5,1351.8 L546.0,1351.8 L547.5,1351.8 L549.0,1351.8 L550.5,1351.8 L552.0,1351.8 L553.5,1351.8 L555.0,1351.8 L556.5,1351.7 L558.0,1351.7 L559.5,1351.7 L561.0,1351.7 L562.5,1351.7 L564.0,1351.7 L565.5,1351.7 L567.0,1351.7 L568.5,1351.7 L570.0,1351.6 L571.5,1351.6 L573.0,1351.6 L574.5,1351.6 L576.0,1351.6 L577.5,1351.6 L579.0,1351.6 L580.5,1351.5 L582.0,1351.5 L583.5,1351.5 L585.0,1351.5 L586.5,1351.5 L588.0,1351.5 L589.5,1351.4 L591.0,1351.4 L592.5,1351.4 L594.0,1351.4 L595.5,1351.4 L597.0,1351.3 L598.5,1351.3 L600.0,1351.3 L601.5,1351.3 L603.0,1351.3 L604.5,1351.2 L606.0,1351.2 L607.5,1351.2 L609.0,1351.2 L610.5,1351.2 L612.0,1351.1 L613.5,1351.1 L615.0,1351.1 L616.5,1351.1 L618.0,1351.0 L619.5,1351.0 L621.0,1351.0 L622.5,1351.0 L624.0,1350.9 L625.5,1350.9 L627.0,1350.9 L628.5,1350.9 L630.0,1350.8 L631.5,1350.8 L633.0,1350.8 L634.5,1350.7 L636.0,1350.7 L637.5,1350.7 L639.0,1350.7 L640.5,1350.6 L642.0,1350.6 L643.5,1350.6 L645.0,1350.5 L646.5,1350.5 L648.0,1350.5 L649.5,1350.4 L651.0,1350.4 L652.5,1350.4 L654.0,1350.3 L655.5,1350.3 L657.0,1350.3 L658.5,1350.2 L660.0,1350.2 L661.5,1350.2 L663.0,1350.1 L664.5,1350.1 L666.0,1350.0 L667.5,1350.0 L669.0,1350.0 L670.5,1349.9 L672.0,1349.9 L673.5,1349.8 L675.0,1349.8 L676.5,1349.7 L678.0,1349.7 L679.5,1349.7 L681.0,1349.6 L682.5,1349.6 L684.0,1349.5 L685.5,1349.5 L687.0,1349.4 L688.5,1349.4 L690.0,1349.3 L691.5,1349.2 L693.0,1349.2 L694.5,1349.1 L696.0,1349.1 L697.5,1349.0 L699.0,1348.9 L700.5,1348.9 L702.0,1348.8 L703.5,1348.7 L705.0,1348.6 L706.5,1348.6 L708.0,1348.5 L709.5,1348.4 L711.0,1348.3 L712.5,1348.2 L714.0,1348.1 L715.5,1348.0 L717.0,1347.9 L718.5,1347.8 L720.0,1347.7 L721.5,1347.6 L723.0,1347.5 L724.5,1347.4 L726.0,1347.3 L727.5,1347.2 L729.0,1347.0 L730.5,1346.9 L732.0,1346.8 L733.5,1346.7 L735.0,1346.6 L736.5,1346.4 L738.0,1346.3 L739.5,1346.2 L741.0,1346.0 L742.5,1345.9 L744.0,1345.8 L745.5,1345.7 L747.0,1345.5 L748.5,1345.4 L750.0,1345.3 L751.5,1345.1 L753.0,1345.0 L754.5,1344.9 L756.0,1344.7 L757.5,1344.6 L759.0,1344.5 L760.5,1344.3 L762.0,1344.2 L763.5,1344.0 L765.0,1343.9 L766.5,1343.8 L768.0,1343.6 L769.5,1343.5 L771.0,1343.4 L772.5,1343.2 L774.0,1343.1 L775.5,1342.9 L777.0,1342.8 L778.5,1342.7 L780.0,1342.5 L781.5,1342.4 L783.0,1342.2 L784.5,1342.1 L786.0,1342.0 L787.5,1341.8 L789.0,1341.7 L790.5,1341.5 L792.0,1341.4 L793.5,1341.3 L795.0,1341.1 L796.5,1341.0 L798.0,1340.9 L799.5,1340.7 L801.0,1340.6 L802.5,1340.4 L804.0,1340.3 L805.5,1340.2 L807.0,1340.0 L808.5,1339.9 L810.0,1339.8 L811.5,1339.6 L813.0,1339.5 L814.5,1339.4 L816.0,1339.2 L817.5,1339.1 L819.0,1339.0 L820.5,1338.8 L822.0,1338.7 L823.5,1338.6 L825.0,1338.4 L826.5,1338.3 L828.0,1338.2 L829.5,1338.1 L831.0,1337.9 L832.5,1337.8 L834.0,1337.7 L835.5,1337.6 L837.0,1337.4 L838.5,1337.3 L840.0,1337.2 L841.5,1337.0 L843.0,1336.9 L844.5,1336.8 L846.0,1336.7 L847.5,1336.6 L849.0,1336.4 L850.5,1336.3 L852.0,1336.2 L853.5,1336.1 L855.0,1336.0 L856.5,1335.9 L858.0,1335.7 L859.5,1335.6 L861.0,1335.5 L862.5,1335.4 L864.0,1335.3 L865.5,1335.2 L867.0,1335.1 L868.5,1335.1 L870.0,1335.0 L871.5,1334.9 L873.0,1334.8 L874.5,1334.7 L876.0,1334.6 L877.5,1334.6 L879.0,1334.5 L880.5,1334.4 L882.0,1334.4 L883.5,1334.3 L885.0,1334.2 L886.5,1334.2 L888.0,1334.1 L889.5,1334.1 L891.0,1334.1 L892.5,1334.0 L894.0,1334.0 L895.5,1333.9 L897.0,1333.9 L898.5,1333.9 L900.0,1333.8 L901.5,1333.8 L903.0,1333.8 L904.5,1333.8 L906.0,1333.8 L907.5,1333.7 L909.0,1333.7 L910.5,1333.7 L912.0,1333.7 L913.5,1333.7 L915.0,1333.7 L916.5,1333.7 L918.0,1333.6 L919.5,1333.6 L921.0,1333.6 L922.5,1333.6 L924.0,1333.6 L925.5,1333.6 L927.0,1333.6 L928.5,1333.6 L930.0,1333.6 L931.5,1333.6 L933.0,1333.6 L934.5,1333.6 L936.0,1333.6 L937.5,1333.6 L939.0,1333.6 L940.5,1333.6 L942.0,1333.6 L943.5,1333.6 L945.0,1333.6 L946.5,1333.7 L948.0,1333.7 L949.5,1333.7 L951.0,1333.7 L952.5,1333.7 L954.0,1333.7 L955.5,1333.8 L957.0,1333.8 L958.5,1333.8 L960.0,1333.9 L961.5,1333.9 L963.0,1333.9 L964.5,1334.0 L966.0,1334.0 L967.5,1334.0 L969.0,1334.1 L970.5,1334.1 L972.0,1334.2 L973.5,1334.2 L975.0,1334.2 L976.5,1334.3 L978.0,1334.3 L979.5,1334.4 L981.0,1334.5 L982.5,1334.5 L984.0,1334.6 L985.5,1334.6 L987.0,1334.7 L988.5,1334.7 L990.0,1334.8 L991.5,1334.9 L993.0,1335.0 L994.5,1335.0 L996.0,1335.1 L997.5,1335.2 L999.0,1335.3 L1000.5,1335.4 L1002.0,1335.4 L1003.5,1335.5 L1005.0,1335.6 L1006.5,1335.7 L1008.0,1335.8 L1009.5,1335.9 L1011.0,1336.0 L1012.5,1336.1 L1014.0,1336.2 L1015.5,1336.2 L1017.0,1336.3 L1018.5,1336.4 L1020.0,1336.5 L1021.5,1336.6 L1023.0,1336.7 L1024.5,1336.8 L1026.0,1336.9 L1027.5,1337.0 L1029.0,1337.1 L1030.5,1337.2 L1032.0,1337.2 L1033.5,1337.3 L1035.0,1337.4 L1036.5,1337.5 L1038.0,1337.6 L1039.5,1337.7 L1041.0,1337.8 L1042.5,1337.9 L1044.0,1338.0 L1045.5,1338.1 L1047.0,1338.2 L1048.5,1338.3 L1050.0,1338.4 L1051.5,1338.4 L1053.0,1338.5 L1054.5,1338.6 L1056.0,1338.7 L1057.5,1338.8 L1059.0,1338.9 L1060.5,1339.0 L1062.0,1339.1 L1063.5,1339.2 L1065.0,1339.2 L1066.5,1339.3 L1068.0,1339.4 L1069.5,1339.4 L1071.0,1339.5 L1072.5,1339.5 L1074.0,1339.6 L1075.5,1339.6 L1077.0,1339.7 L1078.5,1339.7 L1080.0,1339.8 L1081.5,1339.8 L1083.0,1339.9 L1084.5,1339.9 L1086.0,1340.0 L1087.5,1340.0 L1089.0,1340.0 L1090.5,1340.1 L1092.0,1340.1 L1093.5,1340.2 L1095.0,1340.2 L1096.5,1340.3 L1098.0,1340.3 L1099.5,1340.3 L1101.0,1340.4 L1102.5,1340.4 L1104.0,1340.4 L1105.5,1340.5 L1107.0,1340.5 L1108.5,1340.5 L1110.0,1340.5 L1111.5,1340.5 L1113.0,1340.5 L1114.5,1340.5 L1116.0,1340.6 L1117.5,1340.6 L1119.0,1340.5 L1120.5,1340.5 L1122.0,1340.5 L1123.5,1340.5 L1125.0,1340.5 L1126.5,1340.5 L1128.0,1340.5 L1129.5,1340.5 L1131.0,1340.5 L1132.5,1340.5 L1134.0,1340.4 L1135.5,1340.4 L1137.0,1340.4 L1138.5,1340.4 L1140.0,1340.4 L1141.5,1340.3 L1143.0,1340.3 L1144.5,1340.2 L1146.0,1340.1 L1147.5,1340.0 L1149.0,1339.9 L1150.5,1339.8 L1152.0,1339.7 L1153.5,1339.5 L1155.0,1339.4 L1156.5,1339.2 L1158.0,1339.1 L1159.5,1338.9 L1161.0,1338.7 L1162.5,1338.5 L1164.0,1338.3 L1165.5,1338.0 L1167.0,1337.8 L1168.5,1337.6 L1170.0,1337.3 L1171.5,1337.0 L1173.0,1336.6 L1174.5,1336.3 L1176.0,1335.8 L1177.5,1335.3 L1179.0,1334.7 L1180.5,1334.1 L1182.0,1333.4 L1183.5,1332.6 L1185.0,1331.8 L1186.5,1330.9 L1188.0,1329.9 L1189.5,1328.9 L1191.0,1327.7 L1192.5,1326.5 L1194.0,1325.3 L1195.5,1324.0 L1197.0,1322.6 L1198.5,1321.2 L1200.0,1319.8 L1201.5,1318.3 L1203.0,1316.9 L1204.5,1315.4 L1206.0,1313.9 L1207.5,1312.4 L1209.0,1310.9 L1210.5,1309.4 L1212.0,1307.9 L1213.5,1306.5 L1215.0,1305.0 L1216.5,1303.5 L1218.0,1302.1 L1219.5,1300.6 L1221.0,1299.2 L1222.5,1297.7 L1224.0,1296.3 L1225.5,1294.9 L1227.0,1293.5 L1228.5,1292.1 L1230.0,1290.7 L1231.5,1289.3 L1233.0,1288.0 L1234.5,1286.7 L1236.0,1285.6 L1237.5,1284.5 L1239.0,1283.5 L1240.5,1282.5 L1242.0,1281.6 L1243.5,1280.8 L1245.0,1279.9 L1246.5,1279.2 L1248.0,1278.5 L1249.5,1277.8 L1251.0,1277.2 L1252.5,1276.7 L1254.0,1276.3 L1255.5,1275.9 L1257.0,1275.7 L1258.5,1275.5 L1260.0,1275.4 L1261.5,1275.4 L1263.0,1275.5 L1264.5,1275.6 L1266.0,1275.8 L1267.5,1276.1 L1269.0,1276.4 L1270.5,1276.9 L1272.0,1277.3 L1273.5,1277.9 L1275.0,1278.5 L1276.5,1279.2 L1278.0,1280.0 L1279.5,1280.7 L1281.0,1281.5 L1282.5,1282.3 L1284.0,1283.1 L1285.5,1283.9 L1287.0,1284.7 L1288.5,1285.5 L1290.0,1286.3 L1291.5,1287.0 L1293.0,1287.8 L1294.5,1288.6 L1296.0,1289.4 L1297.5,1290.2 L1299.0,1291.0 L1300.5,1291.8 L1302.0,1292.6 L1303.5,1293.4 L1305.0,1294.1 L1306.5,1294.9 L1308.0,1295.7 L1309.5,1296.5 L1311.0,1297.2 L1312.5,1298.0 L1314.0,1298.7 L1315.5,1299.4 L1317.0,1300.1 L1318.5,1300.7 L1320.0,1301.3 L1321.5,1301.9 L1323.0,1302.4 L1324.5,1302.9 L1326.0,1303.4 L1327.5,1303.8 L1329.0,1304.2 L1330.5,1304.5 L1332.0,1304.9 L1333.5,1305.2 L1335.0,1305.5 L1336.5,1305.9 L1338.0,1306.2 L1339.5,1306.5 L1341.0,1306.8 L1342.5,1307.0 L1344.0,1307.3 L1345.5,1307.5 L1347.0,1307.8 L1348.5,1308.0 L1350.0,1308.2 L1351.5,1308.5 L1353.0,1308.7 L1354.5,1308.9 L1356.0,1309.1 L1357.5,1309.4 L1359.0,1309.6 L1360.5,1309.8 L1362.0,1310.0 L1363.5,1310.3 L1365.0,1310.5 L1366.5,1310.7 L1368.0,1311.0 L1369.5,1311.2 L1371.0,1311.5 L1372.5,1311.8 L1374.0,1312.1 L1375.5,1312.4 L1377.0,1312.8 L1378.5,1313.2 L1380.0,1313.6 L1381.5,1314.0 L1383.0,1314.3 L1384.5,1314.7 L1386.0,1315.1 L1387.5,1315.4 L1389.0,1315.8 L1390.5,1316.2 L1392.0,1316.5 L1393.5,1316.9 L1395.0,1317.3 L1396.5,1317.7 L1398.0,1318.1 L1399.5,1318.5 L1401.0,1318.9 L1402.5,1319.3 L1404.0,1319.8 L1405.5,1320.2 L1407.0,1320.7 L1408.5,1321.2 L1410.0,1321.6 L1411.5,1322.1 L1413.0,1322.6 L1414.5,1323.1 L1416.0,1323.6 L1417.5,1324.1 L1419.0,1324.6 L1420.5,1325.1 L1422.0,1325.6 L1423.5,1326.2 L1425.0,1326.7 L1426.5,1327.3 L1428.0,1327.8 L1429.5,1328.3 L1431.0,1328.8 L1432.5,1329.2 L1434.0,1329.7 L1435.5,1330.1 L1437.0,1330.5 L1438.5,1330.9 L1440.0,1331.3 L1441.5,1331.7 L1443.0,1332.0 L1444.5,1332.4 L1446.0,1332.8 L1447.5,1333.1 L1449.0,1333.5 L1450.5,1333.8 L1452.0,1334.2 L1453.5,1334.5 L1455.0,1334.8 L1456.5,1335.1 L1458.0,1335.4 L1459.5,1335.7 L1461.0,1336.0 L1462.5,1336.2 L1464.0,1336.5 L1465.5,1336.7 L1467.0,1336.9 L1468.5,1337.2 L1470.0,1337.4 L1471.5,1337.6 L1473.0,1337.8 L1474.5,1338.0 L1476.0,1338.2 L1477.5,1338.4 L1479.0,1338.5 L1480.5,1338.7 L1482.0,1338.9 L1483.5,1339.1 L1485.0,1339.2 L1486.5,1339.4 L1488.0,1339.5 L1489.5,1339.7 L1491.0,1339.8 L1492.5,1339.9 L1494.0,1340.0 L1495.5,1340.2 L1497.0,1340.2 L1498.5,1340.3 L1500.0,1340.4 L1501.5,1340.5 L1503.0,1340.5 L1504.5,1340.6 L1506.0,1340.6 L1507.5,1340.6 L1509.0,1340.6 L1510.5,1340.6 L1512.0,1340.6 L1513.5,1340.6 L1515.0,1340.5 L1516.5,1340.5 L1518.0,1340.4 L1519.5,1340.4 L1521.0,1340.3 L1522.5,1340.2 L1524.0,1340.1 L1525.5,1340.0 L1527.0,1339.9 L1528.5,1339.7 L1530.0,1339.6 L1531.5,1339.4 L1533.0,1339.2 L1534.5,1339.0 L1536.0,1338.8 L1537.5,1338.6 L1539.0,1338.4 L1540.5,1338.2 L1542.0,1337.9 L1543.5,1337.7 L1545.0,1337.4 L1546.5,1337.1 L1548.0,1336.7 L1549.5,1336.4 L1551.0,1336.0 L1552.5,1335.6 L1554.0,1335.2 L1555.5,1334.8 L1557.0,1334.4 L1558.5,1333.9 L1560.0,1333.5 L1561.5,1333.0 L1563.0,1332.5 L1564.5,1332.0 L1566.0,1331.6 L1567.5,1331.1 L1569.0,1330.6 L1570.5,1330.1 L1572.0,1329.6 L1573.5,1329.1 L1575.0,1328.5 L1576.5,1327.9 L1578.0,1327.3 L1579.5,1326.6 L1581.0,1325.8 L1582.5,1325.0 L1584.0,1324.1 L1585.5,1323.0 L1587.0,1321.9 L1588.5,1320.8 L1590.0,1319.5 L1591.5,1318.2 L1593.0,1316.8 L1594.5,1315.5 L1596.0,1314.1 L1597.5,1312.7 L1599.0,1311.3 L1600.5,1309.9 L1602.0,1308.6 L1603.5,1307.2 L1605.0,1305.8 L1606.5,1304.4 L1608.0,1303.0 L1609.5,1301.6 L1611.0,1300.2 L1612.5,1298.8 L1614.0,1297.4 L1615.5,1296.0 L1617.0,1294.6 L1618.5,1293.2 L1620.0,1291.8 L1621.5,1290.4 L1623.0,1289.0 L1624.5,1287.6 L1626.0,1286.2 L1627.5,1284.8 L1629.0,1283.4 L1630.5,1282.0 L1632.0,1280.6 L1633.5,1279.2 L1635.0,1277.9 L1636.5,1276.5 L1638.0,1275.1 L1639.5,1273.7 L1641.0,1272.3 L1642.5,1271.0 L1644.0,1269.7 L1645.5,1268.5 L1647.0,1267.3 L1648.5,1266.2 L1650.0,1265.0 L1651.5,1264.0 L1653.0,1262.9 L1654.5,1262.0 L1656.0,1261.0 L1657.5,1260.1 L1659.0,1259.2 L1660.5,1258.3 L1662.0,1257.5 L1663.5,1256.7 L1665.0,1255.9 L1666.5,1255.1 L1668.0,1254.4 L1669.5,1253.8 L1671.0,1253.2 L1672.5,1252.6 L1674.0,1252.0 L1675.5,1251.6 L1677.0,1251.1 L1678.5,1250.7 L1680.0,1250.3 L1681.5,1250.0 L1683.0,1249.7 L1684.5,1249.5 L1686.0,1249.2 L1687.5,1249.0 L1689.0,1248.9 L1690.5,1248.7 L1692.0,1248.6 L1693.5,1248.5 L1695.0,1248.5 L1696.5,1248.5 L1698.0,1248.5 L1699.5,1248.6 L1701.0,1248.6 L1702.5,1248.7 L1704.0,1248.9 L1705.5,1249.0 L1707.0,1249.2 L1708.5,1249.4 L1710.0,1249.7 L1711.5,1250.0 L1713.0,1250.3 L1714.5,1250.7 L1716.0,1251.2 L1717.5,1251.6 L1719.0,1252.1 L1720.5,1252.6 L1722.0,1253.1 L1723.5,1253.7 L1725.0,1254.2 L1726.5,1254.8 L1728.0,1255.5 L1729.5,1256.1 L1731.0,1256.8 L1732.5,1257.6 L1734.0,1258.3 L1735.5,1259.1 L1737.0,1259.9 L1738.5,1260.8 L1740.0,1261.6 L1741.5,1262.4 L1743.0,1263.2 L1744.5,1264.0 L1746.0,1264.9 L1747.5,1265.7 L1749.0,1266.5 L1750.5,1267.3 L1752.0,1268.1 L1753.5,1268.9 L1755.0,1269.8 L1756.5,1270.6 L1758.0,1271.4 L1759.5,1272.2 L1761.0,1273.0 L1762.5,1273.9 L1764.0,1274.7 L1765.5,1275.5 L1767.0,1276.3 L1768.5,1277.1 L1770.0,1278.0 L1771.5,1278.8 L1773.0,1279.6 L1774.5,1280.4 L1776.0,1281.2 L1777.5,1282.1 L1779.0,1282.9 L1780.5,1283.7 L1782.0,1284.5 L1783.5,1285.3 L1785.0,1286.1 L1786.5,1287.0 L1788.0,1287.8 L1789.5,1288.6 L1791.0,1289.4 L1792.5,1290.2 L1794.0,1291.0 L1795.5,1291.9 L1797.0,1292.7 L1798.5,1293.5 L1800.0,1294.3 L1801.5,1295.1 L1803.0,1295.9 L1804.5,1296.7 L1806.0,1297.5 L1807.5,1298.3 L1809.0,1299.1 L1810.5,1299.9 L1812.0,1300.7 L1813.5,1301.5 L1815.0,1302.2 L1816.5,1303.0 L1818.0,1303.8 L1819.5,1304.5 L1821.0,1305.2 L1822.5,1305.9 L1824.0,1306.6 L1825.5,1307.3 L1827.0,1307.9 L1828.5,1308.6 L1830.0,1309.2 L1831.5,1309.8 L1833.0,1310.4 L1834.5,1311.0 L1836.0,1311.5 L1837.5,1312.0 L1839.0,1312.6 L1840.5,1313.1 L1842.0,1313.6 L1843.5,1314.1 L1845.0,1314.6 L1846.5,1315.1 L1848.0,1315.6 L1849.5,1316.1 L1851.0,1316.5 L1852.5,1317.0 L1854.0,1317.5 L1855.5,1317.9 L1857.0,1318.4 L1858.5,1318.9 L1860.0,1319.3 L1861.5,1319.8 L1863.0,1320.3 L1864.5,1320.7 L1866.0,1321.2 L1867.5,1321.7 L1869.0,1322.2 L1870.5,1322.6 L1872.0,1323.1 L1873.5,1323.6 L1875.0,1324.1 L1876.5,1324.6 L1878.0,1325.1 L1879.5,1325.6 L1881.0,1326.0 L1882.5,1326.5 L1884.0,1327.0 L1885.5,1327.4 L1887.0,1327.9 L1888.5,1328.3 L1890.0,1328.8 L1891.5,1329.2 L1893.0,1329.6 L1894.5,1330.0 L1896.0,1330.3 L1897.5,1330.7 L1899.0,1331.0 L1900.5,1331.4 L1902.0,1331.7 L1903.5,1332.0 L1905.0,1332.3 L1906.5,1332.5 L1908.0,1332.8 L1909.5,1333.1 L1911.0,1333.3 L1912.5,1333.6 L1914.0,1333.8 L1915.5,1334.0 L1917.0,1334.2 L1918.5,1334.4 L1920.0,1334.6 L1921.5,1334.8 L1923.0,1335.0 L1924.5,1335.2 L1926.0,1335.4 L1927.5,1335.5 L1929.0,1335.7 L1930.5,1335.9 L1932.0,1336.0 L1933.5,1336.2 L1935.0,1336.3 L1936.5,1336.5 L1938.0,1336.6 L1939.5,1336.8 L1941.0,1336.9 L1942.5,1337.0 L1944.0,1337.2 L1945.5,1337.3 L1947.0,1337.4 L1948.5,1337.6 L1950.0,1337.7 L1951.5,1337.8 L1953.0,1338.0 L1954.5,1338.1 L1956.0,1338.2 L1957.5,1338.4 L1959.0,1338.5 L1960.5,1338.7 L1962.0,1338.8 L1963.5,1339.0 L1965.0,1339.1 L1966.5,1339.2 L1968.0,1339.4 L1969.5,1339.5 L1971.0,1339.7 L1972.5,1339.8 L1974.0,1340.0 L1975.5,1340.1 L1977.0,1340.3 L1978.5,1340.4 L1980.0,1340.5 L1981.5,1340.7 L1983.0,1340.8 L1984.5,1341.0 L1986.0,1341.1 L1987.5,1341.3 L1989.0,1341.4 L1990.5,1341.5 L1992.0,1341.7 L1993.5,1341.8 L1995.0,1341.9 L1996.5,1342.1 L1998.0,1342.2 L1999.5,1342.3 L2001.0,1342.5 L2002.5,1342.6 L2004.0,1342.7 L2005.5,1342.8 L2007.0,1343.0 L2008.5,1343.1 L2010.0,1343.2 L2011.5,1343.3 L2013.0,1343.4 L2014.5,1343.5 L2016.0,1343.6 L2017.5,1343.8 L2019.0,1343.9 L2020.5,1344.0 L2022.0,1344.1 L2023.5,1344.2 L2025.0,1344.3 L2026.5,1344.4 L2028.0,1344.4 L2029.5,1344.5 L2031.0,1344.6 L2032.5,1344.7 L2034.0,1344.8 L2035.5,1344.9 L2037.0,1345.0 L2038.5,1345.1 L2040.0,1345.2 L2041.5,1345.2 L2043.0,1345.3 L2044.5,1345.4 L2046.0,1345.5 L2047.5,1345.5 L2049.0,1345.6 L2050.5,1345.7 L2052.0,1345.8 L2053.5,1345.8 L2055.0,1345.9 L2056.5,1346.0 L2058.0,1346.0 L2059.5,1346.1 L2061.0,1346.1 L2062.5,1346.2 L2064.0,1346.3 L2065.5,1346.3 L2067.0,1346.4 L2068.5,1346.4 L2070.0,1346.5 L2071.5,1346.5 L2073.0,1346.5 L2074.5,1346.6 L2076.0,1346.6 L2077.5,1346.7 L2079.0,1346.7 L2080.5,1346.7 L2082.0,1346.8 L2083.5,1346.8 L2085.0,1346.8 L2086.5,1346.9 L2088.0,1346.9 L2089.5,1346.9 L2091.0,1347.0 L2092.5,1347.0 L2094.0,1347.0 L2095.5,1347.1 L2097.0,1347.1 L2098.5,1347.1 L2100.0,1347.2 L2101.5,1347.2 L2103.0,1347.2 L2104.5,1347.3 L2106.0,1347.3 L2107.5,1347.3 L2109.0,1347.3 L2110.5,1347.4 L2112.0,1347.4 L2113.5,1347.4 L2115.0,1347.5 L2116.5,1347.5 L2118.0,1347.5 L2119.5,1347.5 L2121.0,1347.6 L2122.5,1347.6 L2124.0,1347.6 L2125.5,1347.6 L2127.0,1347.7 L2128.5,1347.7 L2130.0,1347.7 L2131.5,1347.7 L2133.0,1347.8 L2134.5,1347.8 L2136.0,1347.8 L2137.5,1347.8 L2139.0,1347.9 L2140.5,1347.9 L2142.0,1347.9 L2143.5,1347.9 L2145.0,1347.9 L2146.5,1348.0 L2148.0,1348.0 L2149.5,1348.0 L2151.0,1348.0 L2152.5,1348.0 L2154.0,1348.1 L2155.5,1348.1 L2157.0,1348.1 L2158.5,1348.1 L2160.0,1348.1 L2161.5,1348.2 L2163.0,1348.2 L2164.5,1348.2 L2166.0,1348.2 L2167.5,1348.2 L2169.0,1348.3 L2170.5,1348.3 L2172.0,1348.3 L2173.5,1348.3 L2175.0,1348.3 L2176.5,1348.3 L2178.0,1348.4 L2179.5,1348.4 L2181.0,1348.4 L2182.5,1348.4 L2184.0,1348.4 L2185.5,1348.5 L2187.0,1348.5 L2188.5,1348.5 L2190.0,1348.5 L2191.5,1348.5 L2193.0,1348.5 L2194.5,1348.6 L2196.0,1348.6 L2197.5,1348.6 L2199.0,1348.6 L2200.5,1348.6 L2202.0,1348.6 L2203.5,1348.7 L2205.0,1348.7 L2206.5,1348.7 L2208.0,1348.7 L2209.5,1348.7 L2211.0,1348.7 L2212.5,1348.7 L2214.0,1348.8 L2215.5,1348.8 L2217.0,1348.8 L2218.5,1348.8 L2220.0,1348.8 L2221.5,1348.8 L2223.0,1348.8 L2224.5,1348.8"/>
<path class="cv" d="M415.5,1351.4 L417.0,1351.4 L418.5,1351.4 L420.0,1351.5 L421.5,1351.5 L423.0,1351.5 L424.5,1351.5 L426.0,1351.5 L427.5,1351.5 L429.0,1351.5 L430.5,1351.6 L432.0,1351.6 L433.5,1351.6 L435.0,1351.6 L436.5,1351.6 L438.0,1351.6 L439.5,1351.6 L441.0,1351.7 L442.5,1351.7 L444.0,1351.7 L445.5,1351.7 L447.0,1351.7 L448.5,1351.7 L450.0,1351.7 L451.5,1351.7 L453.0,1351.8 L454.5,1351.8 L456.0,1351.8 L457.5,1351.8 L459.0,1351.8 L460.5,1351.8 L462.0,1351.8 L463.5,1351.8 L465.0,1351.8 L466.5,1351.8 L468.0,1351.9 L469.5,1351.9 L471.0,1351.9 L472.5,1351.9 L474.0,1351.9 L475.5,1351.9 L477.0,1351.9 L478.5,1351.9 L480.0,1351.9 L481.5,1351.9 L483.0,1351.9 L484.5,1351.9 L486.0,1351.9 L487.5,1351.9 L489.0,1351.9 L490.5,1352.0 L492.0,1352.0 L493.5,1352.0 L495.0,1352.0 L496.5,1352.0 L498.0,1352.0 L499.5,1352.0 L501.0,1352.0 L502.5,1352.0 L504.0,1352.0 L505.5,1352.0 L507.0,1352.0 L508.5,1352.0 L510.0,1352.0 L511.5,1352.0 L513.0,1352.0 L514.5,1352.0 L516.0,1352.0 L517.5,1352.0 L519.0,1352.0 L520.5,1352.0 L522.0,1352.0 L523.5,1352.0 L525.0,1352.0 L526.5,1352.0 L528.0,1352.0 L529.5,1352.0 L531.0,1352.0 L532.5,1352.0 L534.0,1352.0 L535.5,1352.0 L537.0,1352.0 L538.5,1352.0 L540.0,1351.9 L541.5,1351.9 L543.0,1351.9 L544.5,1351.9 L546.0,1351.9 L547.5,1351.9 L549.0,1351.9 L550.5,1351.9 L552.0,1351.9 L553.5,1351.9 L555.0,1351.9 L556.5,1351.9 L558.0,1351.9 L559.5,1351.9 L561.0,1351.9 L562.5,1351.9 L564.0,1351.8 L565.5,1351.8 L567.0,1351.8 L568.5,1351.8 L570.0,1351.8 L571.5,1351.8 L573.0,1351.8 L574.5,1351.8 L576.0,1351.8 L577.5,1351.8 L579.0,1351.7 L580.5,1351.7 L582.0,1351.7 L583.5,1351.7 L585.0,1351.7 L586.5,1351.7 L588.0,1351.7 L589.5,1351.7 L591.0,1351.6 L592.5,1351.6 L594.0,1351.6 L595.5,1351.6 L597.0,1351.6 L598.5,1351.6 L600.0,1351.6 L601.5,1351.5 L603.0,1351.5 L604.5,1351.5 L606.0,1351.5 L607.5,1351.5 L609.0,1351.5 L610.5,1351.4 L612.0,1351.4 L613.5,1351.4 L615.0,1351.4 L616.5,1351.4 L618.0,1351.4 L619.5,1351.3 L621.0,1351.3 L622.5,1351.3 L624.0,1351.3 L625.5,1351.3 L627.0,1351.2 L628.5,1351.2 L630.0,1351.2 L631.5,1351.2 L633.0,1351.1 L634.5,1351.1 L636.0,1351.1 L637.5,1351.1 L639.0,1351.1 L640.5,1351.0 L642.0,1351.0 L643.5,1351.0 L645.0,1351.0 L646.5,1350.9 L648.0,1350.9 L649.5,1350.9 L651.0,1350.9 L652.5,1350.8 L654.0,1350.8 L655.5,1350.8 L657.0,1350.8 L658.5,1350.7 L660.0,1350.7 L661.5,1350.7 L663.0,1350.6 L664.5,1350.6 L666.0,1350.6 L667.5,1350.6 L669.0,1350.5 L670.5,1350.5 L672.0,1350.5 L673.5,1350.4 L675.0,1350.4 L676.5,1350.4 L678.0,1350.3 L679.5,1350.3 L681.0,1350.3 L682.5,1350.2 L684.0,1350.2 L685.5,1350.1 L687.0,1350.1 L688.5,1350.1 L690.0,1350.0 L691.5,1350.0 L693.0,1349.9 L694.5,1349.9 L696.0,1349.8 L697.5,1349.8 L699.0,1349.7 L700.5,1349.7 L702.0,1349.6 L703.5,1349.6 L705.0,1349.5 L706.5,1349.4 L708.0,1349.4 L709.5,1349.3 L711.0,1349.2 L712.5,1349.2 L714.0,1349.1 L715.5,1349.0 L717.0,1348.9 L718.5,1348.8 L720.0,1348.7 L721.5,1348.6 L723.0,1348.6 L724.5,1348.5 L726.0,1348.4 L727.5,1348.3 L729.0,1348.2 L730.5,1348.0 L732.0,1347.9 L733.5,1347.8 L735.0,1347.7 L736.5,1347.6 L738.0,1347.5 L739.5,1347.4 L741.0,1347.3 L742.5,1347.2 L744.0,1347.0 L745.5,1346.9 L747.0,1346.8 L748.5,1346.7 L750.0,1346.6 L751.5,1346.5 L753.0,1346.3 L754.5,1346.2 L756.0,1346.1 L757.5,1346.0 L759.0,1345.9 L760.5,1345.7 L762.0,1345.6 L763.5,1345.5 L765.0,1345.4 L766.5,1345.2 L768.0,1345.1 L769.5,1345.0 L771.0,1344.9 L772.5,1344.7 L774.0,1344.6 L775.5,1344.5 L777.0,1344.4 L778.5,1344.2 L780.0,1344.1 L781.5,1344.0 L783.0,1343.9 L784.5,1343.7 L786.0,1343.6 L787.5,1343.5 L789.0,1343.4 L790.5,1343.2 L792.0,1343.1 L793.5,1343.0 L795.0,1342.9 L796.5,1342.7 L798.0,1342.6 L799.5,1342.5 L801.0,1342.4 L802.5,1342.2 L804.0,1342.1 L805.5,1342.0 L807.0,1341.9 L808.5,1341.7 L810.0,1341.6 L811.5,1341.5 L813.0,1341.4 L814.5,1341.2 L816.0,1341.1 L817.5,1341.0 L819.0,1340.9 L820.5,1340.8 L822.0,1340.6 L823.5,1340.5 L825.0,1340.4 L826.5,1340.3 L828.0,1340.2 L829.5,1340.1 L831.0,1340.0 L832.5,1339.8 L834.0,1339.7 L835.5,1339.6 L837.0,1339.5 L838.5,1339.4 L840.0,1339.3 L841.5,1339.2 L843.0,1339.0 L844.5,1338.9 L846.0,1338.8 L847.5,1338.7 L849.0,1338.6 L850.5,1338.5 L852.0,1338.4 L853.5,1338.3 L855.0,1338.2 L856.5,1338.1 L858.0,1338.0 L859.5,1337.9 L861.0,1337.8 L862.5,1337.7 L864.0,1337.6 L865.5,1337.5 L867.0,1337.4 L868.5,1337.3 L870.0,1337.2 L871.5,1337.2 L873.0,1337.1 L874.5,1337.0 L876.0,1336.9 L877.5,1336.9 L879.0,1336.8 L880.5,1336.7 L882.0,1336.7 L883.5,1336.6 L885.0,1336.6 L886.5,1336.5 L888.0,1336.5 L889.5,1336.4 L891.0,1336.4 L892.5,1336.3 L894.0,1336.3 L895.5,1336.3 L897.0,1336.2 L898.5,1336.2 L900.0,1336.2 L901.5,1336.2 L903.0,1336.1 L904.5,1336.1 L906.0,1336.1 L907.5,1336.1 L909.0,1336.0 L910.5,1336.0 L912.0,1336.0 L913.5,1336.0 L915.0,1336.0 L916.5,1336.0 L918.0,1336.0 L919.5,1335.9 L921.0,1335.9 L922.5,1335.9 L924.0,1335.9 L925.5,1335.9 L927.0,1335.9 L928.5,1335.9 L930.0,1335.9 L931.5,1335.9 L933.0,1335.9 L934.5,1335.9 L936.0,1335.9 L937.5,1335.9 L939.0,1335.9 L940.5,1335.9 L942.0,1335.9 L943.5,1335.9 L945.0,1335.9 L946.5,1335.9 L948.0,1335.9 L949.5,1335.9 L951.0,1336.0 L952.5,1336.0 L954.0,1336.0 L955.5,1336.0 L957.0,1336.0 L958.5,1336.1 L960.0,1336.1 L961.5,1336.1 L963.0,1336.1 L964.5,1336.2 L966.0,1336.2 L967.5,1336.2 L969.0,1336.2 L970.5,1336.3 L972.0,1336.3 L973.5,1336.4 L975.0,1336.4 L976.5,1336.4 L978.0,1336.5 L979.5,1336.5 L981.0,1336.5 L982.5,1336.6 L984.0,1336.6 L985.5,1336.7 L987.0,1336.7 L988.5,1336.8 L990.0,1336.8 L991.5,1336.9 L993.0,1336.9 L994.5,1337.0 L996.0,1337.1 L997.5,1337.1 L999.0,1337.2 L1000.5,1337.3 L1002.0,1337.3 L1003.5,1337.4 L1005.0,1337.5 L1006.5,1337.5 L1008.0,1337.6 L1009.5,1337.7 L1011.0,1337.7 L1012.5,1337.8 L1014.0,1337.9 L1015.5,1338.0 L1017.0,1338.0 L1018.5,1338.1 L1020.0,1338.2 L1021.5,1338.3 L1023.0,1338.3 L1024.5,1338.4 L1026.0,1338.5 L1027.5,1338.6 L1029.0,1338.6 L1030.5,1338.7 L1032.0,1338.8 L1033.5,1338.9 L1035.0,1338.9 L1036.5,1339.0 L1038.0,1339.1 L1039.5,1339.2 L1041.0,1339.2 L1042.5,1339.3 L1044.0,1339.4 L1045.5,1339.5 L1047.0,1339.5 L1048.5,1339.6 L1050.0,1339.7 L1051.5,1339.8 L1053.0,1339.8 L1054.5,1339.9 L1056.0,1340.0 L1057.5,1340.1 L1059.0,1340.1 L1060.5,1340.2 L1062.0,1340.3 L1063.5,1340.4 L1065.0,1340.4 L1066.5,1340.5 L1068.0,1340.5 L1069.5,1340.6 L1071.0,1340.6 L1072.5,1340.7 L1074.0,1340.7 L1075.5,1340.8 L1077.0,1340.8 L1078.5,1340.9 L1080.0,1340.9 L1081.5,1341.0 L1083.0,1341.0 L1084.5,1341.0 L1086.0,1341.1 L1087.5,1341.1 L1089.0,1341.2 L1090.5,1341.2 L1092.0,1341.2 L1093.5,1341.3 L1095.0,1341.3 L1096.5,1341.3 L1098.0,1341.4 L1099.5,1341.4 L1101.0,1341.5 L1102.5,1341.5 L1104.0,1341.5 L1105.5,1341.5 L1107.0,1341.6 L1108.5,1341.6 L1110.0,1341.6 L1111.5,1341.6 L1113.0,1341.6 L1114.5,1341.6 L1116.0,1341.6 L1117.5,1341.6 L1119.0,1341.6 L1120.5,1341.6 L1122.0,1341.6 L1123.5,1341.6 L1125.0,1341.6 L1126.5,1341.6 L1128.0,1341.6 L1129.5,1341.6 L1131.0,1341.6 L1132.5,1341.6 L1134.0,1341.6 L1135.5,1341.6 L1137.0,1341.6 L1138.5,1341.6 L1140.0,1341.6 L1141.5,1341.5 L1143.0,1341.5 L1144.5,1341.4 L1146.0,1341.4 L1147.5,1341.3 L1149.0,1341.2 L1150.5,1341.1 L1152.0,1341.0 L1153.5,1340.9 L1155.0,1340.8 L1156.5,1340.6 L1158.0,1340.5 L1159.5,1340.3 L1161.0,1340.2 L1162.5,1340.0 L1164.0,1339.8 L1165.5,1339.6 L1167.0,1339.4 L1168.5,1339.2 L1170.0,1339.0 L1171.5,1338.8 L1173.0,1338.5 L1174.5,1338.1 L1176.0,1337.7 L1177.5,1337.3 L1179.0,1336.8 L1180.5,1336.3 L1182.0,1335.7 L1183.5,1335.0 L1185.0,1334.3 L1186.5,1333.5 L1188.0,1332.7 L1189.5,1331.8 L1191.0,1330.9 L1192.5,1329.9 L1194.0,1328.9 L1195.5,1327.8 L1197.0,1326.7 L1198.5,1325.5 L1200.0,1324.4 L1201.5,1323.2 L1203.0,1322.0 L1204.5,1320.7 L1206.0,1319.5 L1207.5,1318.2 L1209.0,1316.9 L1210.5,1315.6 L1212.0,1314.3 L1213.5,1313.1 L1215.0,1311.8 L1216.5,1310.5 L1218.0,1309.2 L1219.5,1308.0 L1221.0,1306.7 L1222.5,1305.5 L1224.0,1304.2 L1225.5,1303.0 L1227.0,1301.8 L1228.5,1300.5 L1230.0,1299.3 L1231.5,1298.1 L1233.0,1297.0 L1234.5,1295.9 L1236.0,1294.8 L1237.5,1293.8 L1239.0,1292.9 L1240.5,1292.0 L1242.0,1291.1 L1243.5,1290.3 L1245.0,1289.5 L1246.5,1288.8 L1248.0,1288.1 L1249.5,1287.5 L1251.0,1286.9 L1252.5,1286.4 L1254.0,1285.9 L1255.5,1285.6 L1257.0,1285.3 L1258.5,1285.0 L1260.0,1284.9 L1261.5,1284.8 L1263.0,1284.8 L1264.5,1284.8 L1266.0,1284.9 L1267.5,1285.1 L1269.0,1285.4 L1270.5,1285.7 L1272.0,1286.1 L1273.5,1286.5 L1275.0,1287.0 L1276.5,1287.6 L1278.0,1288.2 L1279.5,1288.8 L1281.0,1289.5 L1282.5,1290.1 L1284.0,1290.8 L1285.5,1291.5 L1287.0,1292.2 L1288.5,1292.9 L1290.0,1293.5 L1291.5,1294.2 L1293.0,1294.9 L1294.5,1295.6 L1296.0,1296.3 L1297.5,1297.0 L1299.0,1297.7 L1300.5,1298.4 L1302.0,1299.1 L1303.5,1299.8 L1305.0,1300.5 L1306.5,1301.2 L1308.0,1301.9 L1309.5,1302.6 L1311.0,1303.3 L1312.5,1303.9 L1314.0,1304.5 L1315.5,1305.2 L1317.0,1305.8 L1318.5,1306.3 L1320.0,1306.9 L1321.5,1307.4 L1323.0,1307.9 L1324.5,1308.3 L1326.0,1308.7 L1327.5,1309.1 L1329.0,1309.4 L1330.5,1309.8 L1332.0,1310.1 L1333.5,1310.4 L1335.0,1310.7 L1336.5,1311.0 L1338.0,1311.3 L1339.5,1311.6 L1341.0,1311.9 L1342.5,1312.2 L1344.0,1312.4 L1345.5,1312.7 L1347.0,1312.9 L1348.5,1313.1 L1350.0,1313.3 L1351.5,1313.6 L1353.0,1313.8 L1354.5,1314.0 L1356.0,1314.2 L1357.5,1314.5 L1359.0,1314.7 L1360.5,1314.9 L1362.0,1315.1 L1363.5,1315.4 L1365.0,1315.6 L1366.5,1315.8 L1368.0,1316.1 L1369.5,1316.3 L1371.0,1316.6 L1372.5,1316.9 L1374.0,1317.2 L1375.5,1317.5 L1377.0,1317.8 L1378.5,1318.2 L1380.0,1318.5 L1381.5,1318.9 L1383.0,1319.2 L1384.5,1319.6 L1386.0,1319.9 L1387.5,1320.3 L1389.0,1320.6 L1390.5,1320.9 L1392.0,1321.3 L1393.5,1321.6 L1395.0,1322.0 L1396.5,1322.3 L1398.0,1322.7 L1399.5,1323.1 L1401.0,1323.4 L1402.5,1323.8 L1404.0,1324.2 L1405.5,1324.6 L1407.0,1325.0 L1408.5,1325.4 L1410.0,1325.8 L1411.5,1326.3 L1413.0,1326.7 L1414.5,1327.1 L1416.0,1327.5 L1417.5,1327.9 L1419.0,1328.4 L1420.5,1328.8 L1422.0,1329.2 L1423.5,1329.7 L1425.0,1330.1 L1426.5,1330.5 L1428.0,1331.0 L1429.5,1331.4 L1431.0,1331.8 L1432.5,1332.2 L1434.0,1332.5 L1435.5,1332.9 L1437.0,1333.2 L1438.5,1333.5 L1440.0,1333.9 L1441.5,1334.2 L1443.0,1334.5 L1444.5,1334.8 L1446.0,1335.1 L1447.5,1335.4 L1449.0,1335.7 L1450.5,1336.0 L1452.0,1336.3 L1453.5,1336.6 L1455.0,1336.9 L1456.5,1337.1 L1458.0,1337.4 L1459.5,1337.7 L1461.0,1337.9 L1462.5,1338.1 L1464.0,1338.3 L1465.5,1338.6 L1467.0,1338.8 L1468.5,1339.0 L1470.0,1339.2 L1471.5,1339.3 L1473.0,1339.5 L1474.5,1339.7 L1476.0,1339.9 L1477.5,1340.0 L1479.0,1340.2 L1480.5,1340.3 L1482.0,1340.5 L1483.5,1340.6 L1485.0,1340.8 L1486.5,1340.9 L1488.0,1341.0 L1489.5,1341.2 L1491.0,1341.3 L1492.5,1341.4 L1494.0,1341.5 L1495.5,1341.5 L1497.0,1341.6 L1498.5,1341.7 L1500.0,1341.7 L1501.5,1341.8 L1503.0,1341.8 L1504.5,1341.9 L1506.0,1341.9 L1507.5,1341.9 L1509.0,1341.9 L1510.5,1341.8 L1512.0,1341.8 L1513.5,1341.8 L1515.0,1341.7 L1516.5,1341.6 L1518.0,1341.6 L1519.5,1341.5 L1521.0,1341.4 L1522.5,1341.3 L1524.0,1341.2 L1525.5,1341.1 L1527.0,1340.9 L1528.5,1340.8 L1530.0,1340.6 L1531.5,1340.5 L1533.0,1340.3 L1534.5,1340.1 L1536.0,1339.9 L1537.5,1339.7 L1539.0,1339.4 L1540.5,1339.2 L1542.0,1339.0 L1543.5,1338.7 L1545.0,1338.4 L1546.5,1338.1 L1548.0,1337.8 L1549.5,1337.5 L1551.0,1337.1 L1552.5,1336.8 L1554.0,1336.4 L1555.5,1336.0 L1557.0,1335.6 L1558.5,1335.2 L1560.0,1334.7 L1561.5,1334.3 L1563.0,1333.9 L1564.5,1333.4 L1566.0,1333.0 L1567.5,1332.6 L1569.0,1332.1 L1570.5,1331.7 L1572.0,1331.2 L1573.5,1330.7 L1575.0,1330.2 L1576.5,1329.6 L1578.0,1329.1 L1579.5,1328.4 L1581.0,1327.7 L1582.5,1327.0 L1584.0,1326.1 L1585.5,1325.2 L1587.0,1324.3 L1588.5,1323.2 L1590.0,1322.1 L1591.5,1320.9 L1593.0,1319.7 L1594.5,1318.5 L1596.0,1317.3 L1597.5,1316.0 L1599.0,1314.8 L1600.5,1313.6 L1602.0,1312.4 L1603.5,1311.1 L1605.0,1309.9 L1606.5,1308.6 L1608.0,1307.4 L1609.5,1306.2 L1611.0,1304.9 L1612.5,1303.7 L1614.0,1302.4 L1615.5,1301.2 L1617.0,1299.9 L1618.5,1298.6 L1620.0,1297.4 L1621.5,1296.1 L1623.0,1294.9 L1624.5,1293.6 L1626.0,1292.4 L1627.5,1291.1 L1629.0,1289.9 L1630.5,1288.6 L1632.0,1287.4 L1633.5,1286.1 L1635.0,1284.9 L1636.5,1283.7 L1638.0,1282.4 L1639.5,1281.2 L1641.0,1280.0 L1642.5,1278.8 L1644.0,1277.6 L1645.5,1276.5 L1647.0,1275.5 L1648.5,1274.4 L1650.0,1273.4 L1651.5,1272.5 L1653.0,1271.6 L1654.5,1270.7 L1656.0,1269.8 L1657.5,1269.0 L1659.0,1268.2 L1660.5,1267.4 L1662.0,1266.7 L1663.5,1266.0 L1665.0,1265.3 L1666.5,1264.6 L1668.0,1264.0 L1669.5,1263.4 L1671.0,1262.9 L1672.5,1262.3 L1674.0,1261.9 L1675.5,1261.4 L1677.0,1261.0 L1678.5,1260.7 L1680.0,1260.4 L1681.5,1260.1 L1683.0,1259.8 L1684.5,1259.6 L1686.0,1259.4 L1687.5,1259.2 L1689.0,1259.1 L1690.5,1259.0 L1692.0,1258.9 L1693.5,1258.8 L1695.0,1258.8 L1696.5,1258.8 L1698.0,1258.9 L1699.5,1258.9 L1701.0,1259.0 L1702.5,1259.1 L1704.0,1259.3 L1705.5,1259.4 L1707.0,1259.6 L1708.5,1259.8 L1710.0,1260.1 L1711.5,1260.4 L1713.0,1260.7 L1714.5,1261.0 L1716.0,1261.4 L1717.5,1261.9 L1719.0,1262.3 L1720.5,1262.8 L1722.0,1263.2 L1723.5,1263.7 L1725.0,1264.3 L1726.5,1264.8 L1728.0,1265.4 L1729.5,1266.0 L1731.0,1266.6 L1732.5,1267.3 L1734.0,1268.0 L1735.5,1268.7 L1737.0,1269.4 L1738.5,1270.1 L1740.0,1270.9 L1741.5,1271.6 L1743.0,1272.3 L1744.5,1273.1 L1746.0,1273.8 L1747.5,1274.6 L1749.0,1275.3 L1750.5,1276.0 L1752.0,1276.8 L1753.5,1277.5 L1755.0,1278.2 L1756.5,1279.0 L1758.0,1279.7 L1759.5,1280.4 L1761.0,1281.2 L1762.5,1281.9 L1764.0,1282.6 L1765.5,1283.4 L1767.0,1284.1 L1768.5,1284.8 L1770.0,1285.6 L1771.5,1286.3 L1773.0,1287.0 L1774.5,1287.8 L1776.0,1288.5 L1777.5,1289.3 L1779.0,1290.0 L1780.5,1290.7 L1782.0,1291.5 L1783.5,1292.2 L1785.0,1292.9 L1786.5,1293.7 L1788.0,1294.4 L1789.5,1295.1 L1791.0,1295.9 L1792.5,1296.6 L1794.0,1297.3 L1795.5,1298.0 L1797.0,1298.8 L1798.5,1299.5 L1800.0,1300.2 L1801.5,1300.9 L1803.0,1301.6 L1804.5,1302.4 L1806.0,1303.1 L1807.5,1303.8 L1809.0,1304.5 L1810.5,1305.2 L1812.0,1305.9 L1813.5,1306.6 L1815.0,1307.3 L1816.5,1308.0 L1818.0,1308.6 L1819.5,1309.3 L1821.0,1309.9 L1822.5,1310.5 L1824.0,1311.2 L1825.5,1311.8 L1827.0,1312.3 L1828.5,1312.9 L1830.0,1313.5 L1831.5,1314.0 L1833.0,1314.5 L1834.5,1315.0 L1836.0,1315.5 L1837.5,1316.0 L1839.0,1316.5 L1840.5,1316.9 L1842.0,1317.4 L1843.5,1317.8 L1845.0,1318.3 L1846.5,1318.7 L1848.0,1319.2 L1849.5,1319.6 L1851.0,1320.0 L1852.5,1320.5 L1854.0,1320.9 L1855.5,1321.3 L1857.0,1321.7 L1858.5,1322.1 L1860.0,1322.5 L1861.5,1323.0 L1863.0,1323.4 L1864.5,1323.8 L1866.0,1324.2 L1867.5,1324.7 L1869.0,1325.1 L1870.5,1325.5 L1872.0,1326.0 L1873.5,1326.4 L1875.0,1326.8 L1876.5,1327.3 L1878.0,1327.7 L1879.5,1328.1 L1881.0,1328.6 L1882.5,1329.0 L1884.0,1329.4 L1885.5,1329.8 L1887.0,1330.2 L1888.5,1330.6 L1890.0,1331.0 L1891.5,1331.4 L1893.0,1331.8 L1894.5,1332.1 L1896.0,1332.5 L1897.5,1332.8 L1899.0,1333.1 L1900.5,1333.4 L1902.0,1333.7 L1903.5,1333.9 L1905.0,1334.2 L1906.5,1334.5 L1908.0,1334.7 L1909.5,1334.9 L1911.0,1335.2 L1912.5,1335.4 L1914.0,1335.6 L1915.5,1335.8 L1917.0,1336.0 L1918.5,1336.2 L1920.0,1336.4 L1921.5,1336.6 L1923.0,1336.7 L1924.5,1336.9 L1926.0,1337.1 L1927.5,1337.2 L1929.0,1337.4 L1930.5,1337.5 L1932.0,1337.7 L1933.5,1337.8 L1935.0,1337.9 L1936.5,1338.1 L1938.0,1338.2 L1939.5,1338.3 L1941.0,1338.5 L1942.5,1338.6 L1944.0,1338.7 L1945.5,1338.8 L1947.0,1338.9 L1948.5,1339.1 L1950.0,1339.2 L1951.5,1339.3 L1953.0,1339.4 L1954.5,1339.6 L1956.0,1339.7 L1957.5,1339.8 L1959.0,1339.9 L1960.5,1340.1 L1962.0,1340.2 L1963.5,1340.3 L1965.0,1340.5 L1966.5,1340.6 L1968.0,1340.7 L1969.5,1340.8 L1971.0,1341.0 L1972.5,1341.1 L1974.0,1341.2 L1975.5,1341.4 L1977.0,1341.5 L1978.5,1341.6 L1980.0,1341.8 L1981.5,1341.9 L1983.0,1342.0 L1984.5,1342.2 L1986.0,1342.3 L1987.5,1342.4 L1989.0,1342.5 L1990.5,1342.7 L1992.0,1342.8 L1993.5,1342.9 L1995.0,1343.0 L1996.5,1343.1 L1998.0,1343.3 L1999.5,1343.4 L2001.0,1343.5 L2002.5,1343.6 L2004.0,1343.7 L2005.5,1343.8 L2007.0,1343.9 L2008.5,1344.1 L2010.0,1344.2 L2011.5,1344.3 L2013.0,1344.4 L2014.5,1344.5 L2016.0,1344.6 L2017.5,1344.7 L2019.0,1344.8 L2020.5,1344.9 L2022.0,1344.9 L2023.5,1345.0 L2025.0,1345.1 L2026.5,1345.2 L2028.0,1345.3 L2029.5,1345.4 L2031.0,1345.5 L2032.5,1345.5 L2034.0,1345.6 L2035.5,1345.7 L2037.0,1345.8 L2038.5,1345.9 L2040.0,1345.9 L2041.5,1346.0 L2043.0,1346.1 L2044.5,1346.1 L2046.0,1346.2 L2047.5,1346.3 L2049.0,1346.3 L2050.5,1346.4 L2052.0,1346.5 L2053.5,1346.5 L2055.0,1346.6 L2056.5,1346.7 L2058.0,1346.7 L2059.5,1346.8 L2061.0,1346.8 L2062.5,1346.9 L2064.0,1346.9 L2065.5,1347.0 L2067.0,1347.0 L2068.5,1347.1 L2070.0,1347.1 L2071.5,1347.2 L2073.0,1347.2 L2074.5,1347.2 L2076.0,1347.3 L2077.5,1347.3 L2079.0,1347.3 L2080.5,1347.4 L2082.0,1347.4 L2083.5,1347.4 L2085.0,1347.5 L2086.5,1347.5 L2088.0,1347.5 L2089.5,1347.6 L2091.0,1347.6 L2092.5,1347.6 L2094.0,1347.6 L2095.5,1347.7 L2097.0,1347.7 L2098.5,1347.7 L2100.0,1347.8 L2101.5,1347.8 L2103.0,1347.8 L2104.5,1347.9 L2106.0,1347.9 L2107.5,1347.9 L2109.0,1347.9 L2110.5,1348.0 L2112.0,1348.0 L2113.5,1348.0 L2115.0,1348.0 L2116.5,1348.1 L2118.0,1348.1 L2119.5,1348.1 L2121.0,1348.1 L2122.5,1348.2 L2124.0,1348.2 L2125.5,1348.2 L2127.0,1348.2 L2128.5,1348.3 L2130.0,1348.3 L2131.5,1348.3 L2133.0,1348.3 L2134.5,1348.4 L2136.0,1348.4 L2137.5,1348.4 L2139.0,1348.4 L2140.5,1348.4 L2142.0,1348.5 L2143.5,1348.5 L2145.0,1348.5 L2146.5,1348.5 L2148.0,1348.5 L2149.5,1348.6 L2151.0,1348.6 L2152.5,1348.6 L2154.0,1348.6 L2155.5,1348.6 L2157.0,1348.6 L2158.5,1348.7 L2160.0,1348.7 L2161.5,1348.7 L2163.0,1348.7 L2164.5,1348.7 L2166.0,1348.8 L2167.5,1348.8 L2169.0,1348.8 L2170.5,1348.8 L2172.0,1348.8 L2173.5,1348.8 L2175.0,1348.9 L2176.5,1348.9 L2178.0,1348.9 L2179.5,1348.9 L2181.0,1348.9 L2182.5,1348.9 L2184.0,1349.0 L2185.5,1349.0 L2187.0,1349.0 L2188.5,1349.0 L2190.0,1349.0 L2191.5,1349.0 L2193.0,1349.1 L2194.5,1349.1 L2196.0,1349.1 L2197.5,1349.1 L2199.0,1349.1 L2200.5,1349.1 L2202.0,1349.1 L2203.5,1349.2 L2205.0,1349.2 L2206.5,1349.2 L2208.0,1349.2 L2209.5,1349.2 L2211.0,1349.2 L2212.5,1349.2 L2214.0,1349.3 L2215.5,1349.3 L2217.0,1349.3 L2218.5,1349.3 L2220.0,1349.3 L2221.5,1349.3 L2223.0,1349.3 L2224.5,1349.3"/>
<path class="cv" d="M415.5,1351.7 L417.0,1351.7 L418.5,1351.7 L420.0,1351.7 L421.5,1351.7 L423.0,1351.8 L424.5,1351.8 L426.0,1351.8 L427.5,1351.8 L429.0,1351.8 L430.5,1351.8 L432.0,1351.8 L433.5,1351.8 L435.0,1351.8 L436.5,1351.9 L438.0,1351.9 L439.5,1351.9 L441.0,1351.9 L442.5,1351.9 L444.0,1351.9 L445.5,1351.9 L447.0,1351.9 L448.5,1351.9 L450.0,1351.9 L451.5,1351.9 L453.0,1351.9 L454.5,1352.0 L456.0,1352.0 L457.5,1352.0 L459.0,1352.0 L460.5,1352.0 L462.0,1352.0 L463.5,1352.0 L465.0,1352.0 L466.5,1352.0 L468.0,1352.0 L469.5,1352.0 L471.0,1352.0 L472.5,1352.0 L474.0,1352.0 L475.5,1352.0 L477.0,1352.0 L478.5,1352.0 L480.0,1352.1 L481.5,1352.1 L483.0,1352.1 L484.5,1352.1 L486.0,1352.1 L487.5,1352.1 L489.0,1352.1 L490.5,1352.1 L492.0,1352.1 L493.5,1352.1 L495.0,1352.1 L496.5,1352.1 L498.0,1352.1 L499.5,1352.1 L501.0,1352.1 L502.5,1352.1 L504.0,1352.1 L505.5,1352.1 L507.0,1352.1 L508.5,1352.1 L510.0,1352.1 L511.5,1352.1 L513.0,1352.1 L514.5,1352.1 L516.0,1352.1 L517.5,1352.1 L519.0,1352.1 L520.5,1352.1 L522.0,1352.1 L523.5,1352.1 L525.0,1352.1 L526.5,1352.1 L528.0,1352.1 L529.5,1352.1 L531.0,1352.1 L532.5,1352.1 L534.0,1352.1 L535.5,1352.1 L537.0,1352.1 L538.5,1352.1 L540.0,1352.1 L541.5,1352.1 L543.0,1352.1 L544.5,1352.1 L546.0,1352.1 L547.5,1352.1 L549.0,1352.0 L550.5,1352.0 L552.0,1352.0 L553.5,1352.0 L555.0,1352.0 L556.5,1352.0 L558.0,1352.0 L559.5,1352.0 L561.0,1352.0 L562.5,1352.0 L564.0,1352.0 L565.5,1352.0 L567.0,1352.0 L568.5,1352.0 L570.0,1352.0 L571.5,1352.0 L573.0,1352.0 L574.5,1352.0 L576.0,1351.9 L577.5,1351.9 L579.0,1351.9 L580.5,1351.9 L582.0,1351.9 L583.5,1351.9 L585.0,1351.9 L586.5,1351.9 L588.0,1351.9 L589.5,1351.9 L591.0,1351.9 L592.5,1351.9 L594.0,1351.8 L595.5,1351.8 L597.0,1351.8 L598.5,1351.8 L600.0,1351.8 L601.5,1351.8 L603.0,1351.8 L604.5,1351.8 L606.0,1351.8 L607.5,1351.8 L609.0,1351.7 L610.5,1351.7 L612.0,1351.7 L613.5,1351.7 L615.0,1351.7 L616.5,1351.7 L618.0,1351.7 L619.5,1351.7 L621.0,1351.6 L622.5,1351.6 L624.0,1351.6 L625.5,1351.6 L627.0,1351.6 L628.5,1351.6 L630.0,1351.6 L631.5,1351.5 L633.0,1351.5 L634.5,1351.5 L636.0,1351.5 L637.5,1351.5 L639.0,1351.5 L640.5,1351.4 L642.0,1351.4 L643.5,1351.4 L645.0,1351.4 L646.5,1351.4 L648.0,1351.4 L649.5,1351.3 L651.0,1351.3 L652.5,1351.3 L654.0,1351.3 L655.5,1351.3 L657.0,1351.3 L658.5,1351.2 L660.0,1351.2 L661.5,1351.2 L663.0,1351.2 L664.5,1351.2 L666.0,1351.1 L667.5,1351.1 L669.0,1351.1 L670.5,1351.1 L672.0,1351.0 L673.5,1351.0 L675.0,1351.0 L676.5,1351.0 L678.0,1350.9 L679.5,1350.9 L681.0,1350.9 L682.5,1350.9 L684.0,1350.8 L685.5,1350.8 L687.0,1350.8 L688.5,1350.8 L690.0,1350.7 L691.5,1350.7 L693.0,1350.7 L694.5,1350.6 L696.0,1350.6 L697.5,1350.6 L699.0,1350.5 L700.5,1350.5 L702.0,1350.4 L703.5,1350.4 L705.0,1350.3 L706.5,1350.3 L708.0,1350.3 L709.5,1350.2 L711.0,1350.1 L712.5,1350.1 L714.0,1350.0 L715.5,1350.0 L717.0,1349.9 L718.5,1349.8 L720.0,1349.7 L721.5,1349.7 L723.0,1349.6 L724.5,1349.5 L726.0,1349.4 L727.5,1349.3 L729.0,1349.3 L730.5,1349.2 L732.0,1349.1 L733.5,1349.0 L735.0,1348.9 L736.5,1348.8 L738.0,1348.7 L739.5,1348.6 L741.0,1348.5 L742.5,1348.4 L744.0,1348.3 L745.5,1348.2 L747.0,1348.1 L748.5,1348.0 L750.0,1347.9 L751.5,1347.8 L753.0,1347.7 L754.5,1347.6 L756.0,1347.5 L757.5,1347.4 L759.0,1347.3 L760.5,1347.1 L762.0,1347.0 L763.5,1346.9 L765.0,1346.8 L766.5,1346.7 L768.0,1346.6 L769.5,1346.5 L771.0,1346.4 L772.5,1346.3 L774.0,1346.1 L775.5,1346.0 L777.0,1345.9 L778.5,1345.8 L780.0,1345.7 L781.5,1345.6 L783.0,1345.5 L784.5,1345.4 L786.0,1345.2 L787.5,1345.1 L789.0,1345.0 L790.5,1344.9 L792.0,1344.8 L793.5,1344.7 L795.0,1344.6 L796.5,1344.5 L798.0,1344.4 L799.5,1344.2 L801.0,1344.1 L802.5,1344.0 L804.0,1343.9 L805.5,1343.8 L807.0,1343.7 L808.5,1343.6 L810.0,1343.5 L811.5,1343.4 L813.0,1343.2 L814.5,1343.1 L816.0,1343.0 L817.5,1342.9 L819.0,1342.8 L820.5,1342.7 L822.0,1342.6 L823.5,1342.5 L825.0,1342.4 L826.5,1342.3 L828.0,1342.2 L829.5,1342.1 L831.0,1342.0 L832.5,1341.9 L834.0,1341.8 L835.5,1341.7 L837.0,1341.6 L838.5,1341.5 L840.0,1341.4 L841.5,1341.3 L843.0,1341.2 L844.5,1341.1 L846.0,1341.0 L847.5,1340.8 L849.0,1340.8 L850.5,1340.7 L852.0,1340.6 L853.5,1340.5 L855.0,1340.4 L856.5,1340.3 L858.0,1340.2 L859.5,1340.1 L861.0,1340.0 L862.5,1339.9 L864.0,1339.8 L865.5,1339.7 L867.0,1339.7 L868.5,1339.6 L870.0,1339.5 L871.5,1339.4 L873.0,1339.4 L874.5,1339.3 L876.0,1339.2 L877.5,1339.2 L879.0,1339.1 L880.5,1339.0 L882.0,1339.0 L883.5,1338.9 L885.0,1338.9 L886.5,1338.8 L888.0,1338.8 L889.5,1338.7 L891.0,1338.7 L892.5,1338.7 L894.0,1338.6 L895.5,1338.6 L897.0,1338.6 L898.5,1338.5 L900.0,1338.5 L901.5,1338.5 L903.0,1338.5 L904.5,1338.4 L906.0,1338.4 L907.5,1338.4 L909.0,1338.4 L910.5,1338.3 L912.0,1338.3 L913.5,1338.3 L915.0,1338.3 L916.5,1338.3 L918.0,1338.3 L919.5,1338.3 L921.0,1338.3 L922.5,1338.2 L924.0,1338.2 L925.5,1338.2 L927.0,1338.2 L928.5,1338.2 L930.0,1338.2 L931.5,1338.2 L933.0,1338.2 L934.5,1338.2 L936.0,1338.2 L937.5,1338.2 L939.0,1338.2 L940.5,1338.2 L942.0,1338.2 L943.5,1338.2 L945.0,1338.2 L946.5,1338.2 L948.0,1338.2 L949.5,1338.2 L951.0,1338.2 L952.5,1338.2 L954.0,1338.2 L955.5,1338.3 L957.0,1338.3 L958.5,1338.3 L960.0,1338.3 L961.5,1338.3 L963.0,1338.3 L964.5,1338.4 L966.0,1338.4 L967.5,1338.4 L969.0,1338.4 L970.5,1338.4 L972.0,1338.5 L973.5,1338.5 L975.0,1338.5 L976.5,1338.6 L978.0,1338.6 L979.5,1338.6 L981.0,1338.6 L982.5,1338.7 L984.0,1338.7 L985.5,1338.7 L987.0,1338.8 L988.5,1338.8 L990.0,1338.9 L991.5,1338.9 L993.0,1338.9 L994.5,1339.0 L996.0,1339.0 L997.5,1339.1 L999.0,1339.1 L1000.5,1339.2 L1002.0,1339.2 L1003.5,1339.3 L1005.0,1339.3 L1006.5,1339.4 L1008.0,1339.4 L1009.5,1339.5 L1011.0,1339.5 L1012.5,1339.6 L1014.0,1339.6 L1015.5,1339.7 L1017.0,1339.7 L1018.5,1339.8 L1020.0,1339.8 L1021.5,1339.9 L1023.0,1340.0 L1024.5,1340.0 L1026.0,1340.1 L1027.5,1340.1 L1029.0,1340.2 L1030.5,1340.2 L1032.0,1340.3 L1033.5,1340.4 L1035.0,1340.4 L1036.5,1340.5 L1038.0,1340.5 L1039.5,1340.6 L1041.0,1340.7 L1042.5,1340.7 L1044.0,1340.8 L1045.5,1340.8 L1047.0,1340.9 L1048.5,1341.0 L1050.0,1341.0 L1051.5,1341.1 L1053.0,1341.1 L1054.5,1341.2 L1056.0,1341.3 L1057.5,1341.3 L1059.0,1341.4 L1060.5,1341.4 L1062.0,1341.5 L1063.5,1341.6 L1065.0,1341.6 L1066.5,1341.7 L1068.0,1341.7 L1069.5,1341.8 L1071.0,1341.8 L1072.5,1341.9 L1074.0,1341.9 L1075.5,1341.9 L1077.0,1342.0 L1078.5,1342.0 L1080.0,1342.0 L1081.5,1342.1 L1083.0,1342.1 L1084.5,1342.2 L1086.0,1342.2 L1087.5,1342.2 L1089.0,1342.3 L1090.5,1342.3 L1092.0,1342.3 L1093.5,1342.4 L1095.0,1342.4 L1096.5,1342.4 L1098.0,1342.5 L1099.5,1342.5 L1101.0,1342.5 L1102.5,1342.6 L1104.0,1342.6 L1105.5,1342.6 L1107.0,1342.6 L1108.5,1342.6 L1110.0,1342.6 L1111.5,1342.6 L1113.0,1342.6 L1114.5,1342.6 L1116.0,1342.6 L1117.5,1342.6 L1119.0,1342.6 L1120.5,1342.6 L1122.0,1342.5 L1123.5,1342.5 L1125.0,1342.5 L1126.5,1342.5 L1128.0,1342.5 L1129.5,1342.4 L1131.0,1342.4 L1132.5,1342.4 L1134.0,1342.4 L1135.5,1342.3 L1137.0,1342.3 L1138.5,1342.3 L1140.0,1342.2 L1141.5,1342.2 L1143.0,1342.1 L1144.5,1342.0 L1146.0,1342.0 L1147.5,1341.9 L1149.0,1341.8 L1150.5,1341.7 L1152.0,1341.6 L1153.5,1341.4 L1155.0,1341.3 L1156.5,1341.1 L1158.0,1341.0 L1159.5,1340.8 L1161.0,1340.7 L1162.5,1340.5 L1164.0,1340.3 L1165.5,1340.1 L1167.0,1339.9 L1168.5,1339.7 L1170.0,1339.4 L1171.5,1339.2 L1173.0,1338.9 L1174.5,1338.6 L1176.0,1338.2 L1177.5,1337.7 L1179.0,1337.3 L1180.5,1336.7 L1182.0,1336.2 L1183.5,1335.5 L1185.0,1334.9 L1186.5,1334.1 L1188.0,1333.4 L1189.5,1332.5 L1191.0,1331.6 L1192.5,1330.7 L1194.0,1329.7 L1195.5,1328.7 L1197.0,1327.6 L1198.5,1326.5 L1200.0,1325.4 L1201.5,1324.3 L1203.0,1323.1 L1204.5,1321.9 L1206.0,1320.7 L1207.5,1319.5 L1209.0,1318.3 L1210.5,1317.0 L1212.0,1315.8 L1213.5,1314.6 L1215.0,1313.3 L1216.5,1312.1 L1218.0,1310.9 L1219.5,1309.6 L1221.0,1308.4 L1222.5,1307.2 L1224.0,1306.0 L1225.5,1304.8 L1227.0,1303.6 L1228.5,1302.5 L1230.0,1301.3 L1231.5,1300.1 L1233.0,1299.0 L1234.5,1297.9 L1236.0,1296.9 L1237.5,1295.9 L1239.0,1295.0 L1240.5,1294.1 L1242.0,1293.3 L1243.5,1292.5 L1245.0,1291.7 L1246.5,1291.0 L1248.0,1290.3 L1249.5,1289.7 L1251.0,1289.1 L1252.5,1288.6 L1254.0,1288.1 L1255.5,1287.8 L1257.0,1287.4 L1258.5,1287.2 L1260.0,1287.0 L1261.5,1286.9 L1263.0,1286.9 L1264.5,1286.9 L1266.0,1287.0 L1267.5,1287.2 L1269.0,1287.4 L1270.5,1287.7 L1272.0,1288.0 L1273.5,1288.5 L1275.0,1288.9 L1276.5,1289.5 L1278.0,1290.1 L1279.5,1290.7 L1281.0,1291.3 L1282.5,1291.9 L1284.0,1292.6 L1285.5,1293.2 L1287.0,1293.9 L1288.5,1294.5 L1290.0,1295.2 L1291.5,1295.9 L1293.0,1296.5 L1294.5,1297.2 L1296.0,1297.9 L1297.5,1298.6 L1299.0,1299.2 L1300.5,1299.9 L1302.0,1300.6 L1303.5,1301.3 L1305.0,1302.0 L1306.5,1302.7 L1308.0,1303.3 L1309.5,1304.0 L1311.0,1304.6 L1312.5,1305.3 L1314.0,1305.9 L1315.5,1306.5 L1317.0,1307.1 L1318.5,1307.6 L1320.0,1308.1 L1321.5,1308.6 L1323.0,1309.1 L1324.5,1309.5 L1326.0,1309.9 L1327.5,1310.3 L1329.0,1310.6 L1330.5,1311.0 L1332.0,1311.3 L1333.5,1311.6 L1335.0,1311.9 L1336.5,1312.2 L1338.0,1312.5 L1339.5,1312.8 L1341.0,1313.0 L1342.5,1313.3 L1344.0,1313.6 L1345.5,1313.8 L1347.0,1314.0 L1348.5,1314.3 L1350.0,1314.5 L1351.5,1314.7 L1353.0,1315.0 L1354.5,1315.2 L1356.0,1315.4 L1357.5,1315.6 L1359.0,1315.9 L1360.5,1316.1 L1362.0,1316.3 L1363.5,1316.5 L1365.0,1316.7 L1366.5,1317.0 L1368.0,1317.2 L1369.5,1317.5 L1371.0,1317.7 L1372.5,1318.0 L1374.0,1318.3 L1375.5,1318.6 L1377.0,1319.0 L1378.5,1319.3 L1380.0,1319.7 L1381.5,1320.0 L1383.0,1320.3 L1384.5,1320.7 L1386.0,1321.0 L1387.5,1321.4 L1389.0,1321.7 L1390.5,1322.0 L1392.0,1322.4 L1393.5,1322.7 L1395.0,1323.0 L1396.5,1323.4 L1398.0,1323.7 L1399.5,1324.1 L1401.0,1324.5 L1402.5,1324.8 L1404.0,1325.2 L1405.5,1325.6 L1407.0,1326.0 L1408.5,1326.4 L1410.0,1326.8 L1411.5,1327.2 L1413.0,1327.6 L1414.5,1328.0 L1416.0,1328.4 L1417.5,1328.8 L1419.0,1329.2 L1420.5,1329.6 L1422.0,1330.0 L1423.5,1330.4 L1425.0,1330.9 L1426.5,1331.3 L1428.0,1331.7 L1429.5,1332.1 L1431.0,1332.5 L1432.5,1332.8 L1434.0,1333.2 L1435.5,1333.5 L1437.0,1333.8 L1438.5,1334.1 L1440.0,1334.5 L1441.5,1334.8 L1443.0,1335.1 L1444.5,1335.4 L1446.0,1335.7 L1447.5,1336.0 L1449.0,1336.3 L1450.5,1336.5 L1452.0,1336.8 L1453.5,1337.1 L1455.0,1337.4 L1456.5,1337.6 L1458.0,1337.9 L1459.5,1338.1 L1461.0,1338.3 L1462.5,1338.6 L1464.0,1338.8 L1465.5,1339.0 L1467.0,1339.2 L1468.5,1339.4 L1470.0,1339.6 L1471.5,1339.7 L1473.0,1339.9 L1474.5,1340.1 L1476.0,1340.3 L1477.5,1340.4 L1479.0,1340.6 L1480.5,1340.8 L1482.0,1340.9 L1483.5,1341.1 L1485.0,1341.2 L1486.5,1341.4 L1488.0,1341.5 L1489.5,1341.7 L1491.0,1341.8 L1492.5,1341.9 L1494.0,1342.0 L1495.5,1342.1 L1497.0,1342.2 L1498.5,1342.3 L1500.0,1342.4 L1501.5,1342.5 L1503.0,1342.6 L1504.5,1342.6 L1506.0,1342.7 L1507.5,1342.7 L1509.0,1342.7 L1510.5,1342.7 L1512.0,1342.7 L1513.5,1342.7 L1515.0,1342.7 L1516.5,1342.7 L1518.0,1342.7 L1519.5,1342.7 L1521.0,1342.6 L1522.5,1342.6 L1524.0,1342.5 L1525.5,1342.4 L1527.0,1342.3 L1528.5,1342.2 L1530.0,1342.1 L1531.5,1342.0 L1533.0,1341.9 L1534.5,1341.7 L1536.0,1341.6 L1537.5,1341.4 L1539.0,1341.3 L1540.5,1341.1 L1542.0,1340.9 L1543.5,1340.7 L1545.0,1340.5 L1546.5,1340.3 L1548.0,1340.1 L1549.5,1339.8 L1551.0,1339.5 L1552.5,1339.3 L1554.0,1339.0 L1555.5,1338.7 L1557.0,1338.4 L1558.5,1338.0 L1560.0,1337.7 L1561.5,1337.4 L1563.0,1337.0 L1564.5,1336.6 L1566.0,1336.3 L1567.5,1335.9 L1569.0,1335.6 L1570.5,1335.2 L1572.0,1334.8 L1573.5,1334.4 L1575.0,1334.0 L1576.5,1333.6 L1578.0,1333.1 L1579.5,1332.6 L1581.0,1332.1 L1582.5,1331.6 L1584.0,1330.9 L1585.5,1330.3 L1587.0,1329.6 L1588.5,1328.8 L1590.0,1328.0 L1591.5,1327.2 L1593.0,1326.3 L1594.5,1325.5 L1596.0,1324.6 L1597.5,1323.7 L1599.0,1322.9 L1600.5,1322.0 L1602.0,1321.1 L1603.5,1320.2 L1605.0,1319.3 L1606.5,1318.4 L1608.0,1317.5 L1609.5,1316.6 L1611.0,1315.7 L1612.5,1314.8 L1614.0,1313.9 L1615.5,1313.0 L1617.0,1312.0 L1618.5,1311.1 L1620.0,1310.2 L1621.5,1309.3 L1623.0,1308.4 L1624.5,1307.4 L1626.0,1306.5 L1627.5,1305.6 L1629.0,1304.7 L1630.5,1303.8 L1632.0,1302.9 L1633.5,1302.0 L1635.0,1301.1 L1636.5,1300.2 L1638.0,1299.3 L1639.5,1298.4 L1641.0,1297.5 L1642.5,1296.6 L1644.0,1295.8 L1645.5,1295.0 L1647.0,1294.2 L1648.5,1293.4 L1650.0,1292.7 L1651.5,1292.0 L1653.0,1291.4 L1654.5,1290.7 L1656.0,1290.1 L1657.5,1289.5 L1659.0,1289.0 L1660.5,1288.4 L1662.0,1287.9 L1663.5,1287.4 L1665.0,1286.9 L1666.5,1286.4 L1668.0,1286.0 L1669.5,1285.6 L1671.0,1285.2 L1672.5,1284.8 L1674.0,1284.5 L1675.5,1284.2 L1677.0,1283.9 L1678.5,1283.6 L1680.0,1283.4 L1681.5,1283.2 L1683.0,1283.1 L1684.5,1282.9 L1686.0,1282.8 L1687.5,1282.7 L1689.0,1282.6 L1690.5,1282.6 L1692.0,1282.5 L1693.5,1282.5 L1695.0,1282.6 L1696.5,1282.6 L1698.0,1282.7 L1699.5,1282.8 L1701.0,1282.9 L1702.5,1283.0 L1704.0,1283.2 L1705.5,1283.3 L1707.0,1283.5 L1708.5,1283.7 L1710.0,1283.9 L1711.5,1284.2 L1713.0,1284.4 L1714.5,1284.7 L1716.0,1285.1 L1717.5,1285.4 L1719.0,1285.8 L1720.5,1286.1 L1722.0,1286.5 L1723.5,1286.9 L1725.0,1287.3 L1726.5,1287.7 L1728.0,1288.2 L1729.5,1288.6 L1731.0,1289.1 L1732.5,1289.6 L1734.0,1290.1 L1735.5,1290.7 L1737.0,1291.2 L1738.5,1291.7 L1740.0,1292.3 L1741.5,1292.8 L1743.0,1293.3 L1744.5,1293.9 L1746.0,1294.4 L1747.5,1295.0 L1749.0,1295.5 L1750.5,1296.1 L1752.0,1296.6 L1753.5,1297.1 L1755.0,1297.7 L1756.5,1298.2 L1758.0,1298.8 L1759.5,1299.3 L1761.0,1299.9 L1762.5,1300.4 L1764.0,1300.9 L1765.5,1301.5 L1767.0,1302.0 L1768.5,1302.6 L1770.0,1303.1 L1771.5,1303.6 L1773.0,1304.2 L1774.5,1304.7 L1776.0,1305.3 L1777.5,1305.8 L1779.0,1306.4 L1780.5,1306.9 L1782.0,1307.4 L1783.5,1308.0 L1785.0,1308.5 L1786.5,1309.1 L1788.0,1309.6 L1789.5,1310.1 L1791.0,1310.7 L1792.5,1311.2 L1794.0,1311.7 L1795.5,1312.3 L1797.0,1312.8 L1798.5,1313.3 L1800.0,1313.8 L1801.5,1314.4 L1803.0,1314.9 L1804.5,1315.4 L1806.0,1315.9 L1807.5,1316.4 L1809.0,1316.9 L1810.5,1317.4 L1812.0,1317.9 L1813.5,1318.4 L1815.0,1318.9 L1816.5,1319.3 L1818.0,1319.8 L1819.5,1320.3 L1821.0,1320.7 L1822.5,1321.2 L1824.0,1321.6 L1825.5,1322.1 L1827.0,1322.5 L1828.5,1322.9 L1830.0,1323.3 L1831.5,1323.7 L1833.0,1324.0 L1834.5,1324.4 L1836.0,1324.8 L1837.5,1325.1 L1839.0,1325.5 L1840.5,1325.8 L1842.0,1326.1 L1843.5,1326.5 L1845.0,1326.8 L1846.5,1327.1 L1848.0,1327.4 L1849.5,1327.8 L1851.0,1328.1 L1852.5,1328.4 L1854.0,1328.7 L1855.5,1329.0 L1857.0,1329.3 L1858.5,1329.6 L1860.0,1329.9 L1861.5,1330.2 L1863.0,1330.5 L1864.5,1330.9 L1866.0,1331.2 L1867.5,1331.5 L1869.0,1331.8 L1870.5,1332.1 L1872.0,1332.4 L1873.5,1332.8 L1875.0,1333.1 L1876.5,1333.4 L1878.0,1333.7 L1879.5,1334.1 L1881.0,1334.4 L1882.5,1334.7 L1884.0,1335.0 L1885.5,1335.3 L1887.0,1335.6 L1888.5,1335.9 L1890.0,1336.2 L1891.5,1336.5 L1893.0,1336.8 L1894.5,1337.1 L1896.0,1337.3 L1897.5,1337.6 L1899.0,1337.8 L1900.5,1338.0 L1902.0,1338.3 L1903.5,1338.5 L1905.0,1338.7 L1906.5,1338.9 L1908.0,1339.1 L1909.5,1339.3 L1911.0,1339.4 L1912.5,1339.6 L1914.0,1339.8 L1915.5,1339.9 L1917.0,1340.1 L1918.5,1340.3 L1920.0,1340.4 L1921.5,1340.5 L1923.0,1340.7 L1924.5,1340.8 L1926.0,1340.9 L1927.5,1341.1 L1929.0,1341.2 L1930.5,1341.3 L1932.0,1341.4 L1933.5,1341.5 L1935.0,1341.6 L1936.5,1341.7 L1938.0,1341.8 L1939.5,1341.9 L1941.0,1342.0 L1942.5,1342.1 L1944.0,1342.2 L1945.5,1342.3 L1947.0,1342.4 L1948.5,1342.5 L1950.0,1342.6 L1951.5,1342.7 L1953.0,1342.8 L1954.5,1342.9 L1956.0,1343.0 L1957.5,1343.1 L1959.0,1343.2 L1960.5,1343.3 L1962.0,1343.4 L1963.5,1343.5 L1965.0,1343.6 L1966.5,1343.7 L1968.0,1343.8 L1969.5,1343.9 L1971.0,1344.0 L1972.5,1344.1 L1974.0,1344.2 L1975.5,1344.3 L1977.0,1344.4 L1978.5,1344.5 L1980.0,1344.6 L1981.5,1344.7 L1983.0,1344.8 L1984.5,1344.9 L1986.0,1345.0 L1987.5,1345.1 L1989.0,1345.2 L1990.5,1345.2 L1992.0,1345.3 L1993.5,1345.4 L1995.0,1345.5 L1996.5,1345.6 L1998.0,1345.7 L1999.5,1345.8 L2001.0,1345.9 L2002.5,1346.0 L2004.0,1346.0 L2005.5,1346.1 L2007.0,1346.2 L2008.5,1346.3 L2010.0,1346.4 L2011.5,1346.5 L2013.0,1346.5 L2014.5,1346.6 L2016.0,1346.7 L2017.5,1346.8 L2019.0,1346.8 L2020.5,1346.9 L2022.0,1347.0 L2023.5,1347.0 L2025.0,1347.1 L2026.5,1347.2 L2028.0,1347.2 L2029.5,1347.3 L2031.0,1347.4 L2032.5,1347.4 L2034.0,1347.5 L2035.5,1347.5 L2037.0,1347.6 L2038.5,1347.7 L2040.0,1347.7 L2041.5,1347.8 L2043.0,1347.8 L2044.5,1347.9 L2046.0,1347.9 L2047.5,1348.0 L2049.0,1348.0 L2050.5,1348.1 L2052.0,1348.1 L2053.5,1348.2 L2055.0,1348.2 L2056.5,1348.3 L2058.0,1348.3 L2059.5,1348.3 L2061.0,1348.4 L2062.5,1348.4 L2064.0,1348.5 L2065.5,1348.5 L2067.0,1348.5 L2068.5,1348.6 L2070.0,1348.6 L2071.5,1348.6 L2073.0,1348.7 L2074.5,1348.7 L2076.0,1348.7 L2077.5,1348.8 L2079.0,1348.8 L2080.5,1348.8 L2082.0,1348.8 L2083.5,1348.9 L2085.0,1348.9 L2086.5,1348.9 L2088.0,1349.0 L2089.5,1349.0 L2091.0,1349.0 L2092.5,1349.0 L2094.0,1349.1 L2095.5,1349.1 L2097.0,1349.1 L2098.5,1349.1 L2100.0,1349.2 L2101.5,1349.2 L2103.0,1349.2 L2104.5,1349.2 L2106.0,1349.2 L2107.5,1349.3 L2109.0,1349.3 L2110.5,1349.3 L2112.0,1349.3 L2113.5,1349.4 L2115.0,1349.4 L2116.5,1349.4 L2118.0,1349.4 L2119.5,1349.5 L2121.0,1349.5 L2122.5,1349.5 L2124.0,1349.5 L2125.5,1349.5 L2127.0,1349.6 L2128.5,1349.6 L2130.0,1349.6 L2131.5,1349.6 L2133.0,1349.6 L2134.5,1349.7 L2136.0,1349.7 L2137.5,1349.7 L2139.0,1349.7 L2140.5,1349.7 L2142.0,1349.7 L2143.5,1349.8 L2145.0,1349.8 L2146.5,1349.8 L2148.0,1349.8 L2149.5,1349.8 L2151.0,1349.8 L2152.5,1349.9 L2154.0,1349.9 L2155.5,1349.9 L2157.0,1349.9 L2158.5,1349.9 L2160.0,1349.9 L2161.5,1349.9 L2163.0,1350.0 L2164.5,1350.0 L2166.0,1350.0 L2167.5,1350.0 L2169.0,1350.0 L2170.5,1350.0 L2172.0,1350.0 L2173.5,1350.1 L2175.0,1350.1 L2176.5,1350.1 L2178.0,1350.1 L2179.5,1350.1 L2181.0,1350.1 L2182.5,1350.1 L2184.0,1350.2 L2185.5,1350.2 L2187.0,1350.2 L2188.5,1350.2 L2190.0,1350.2 L2191.5,1350.2 L2193.0,1350.2 L2194.5,1350.3 L2196.0,1350.3 L2197.5,1350.3 L2199.0,1350.3 L2200.5,1350.3 L2202.0,1350.3 L2203.5,1350.3 L2205.0,1350.3 L2206.5,1350.3 L2208.0,1350.4 L2209.5,1350.4 L2211.0,1350.4 L2212.5,1350.4 L2214.0,1350.4 L2215.5,1350.4 L2217.0,1350.4 L2218.5,1350.4 L2220.0,1350.4 L2221.5,1350.4 L2223.0,1350.5 L2224.5,1350.5"/>
<path class="cv" d="M415.5,1352.0 L417.0,1352.0 L418.5,1352.0 L420.0,1352.0 L421.5,1352.0 L423.0,1352.0 L424.5,1352.0 L426.0,1352.0 L427.5,1352.1 L429.0,1352.1 L430.5,1352.1 L432.0,1352.1 L433.5,1352.1 L435.0,1352.1 L436.5,1352.1 L438.0,1352.1 L439.5,1352.1 L441.0,1352.1 L442.5,1352.1 L444.0,1352.1 L445.5,1352.1 L447.0,1352.1 L448.5,1352.1 L450.0,1352.1 L451.5,1352.1 L453.0,1352.1 L454.5,1352.1 L456.0,1352.1 L457.5,1352.1 L459.0,1352.2 L460.5,1352.2 L462.0,1352.2 L463.5,1352.2 L465.0,1352.2 L466.5,1352.2 L468.0,1352.2 L469.5,1352.2 L471.0,1352.2 L472.5,1352.2 L474.0,1352.2 L475.5,1352.2 L477.0,1352.2 L478.5,1352.2 L480.0,1352.2 L481.5,1352.2 L483.0,1352.2 L484.5,1352.2 L486.0,1352.2 L487.5,1352.2 L489.0,1352.2 L490.5,1352.2 L492.0,1352.2 L493.5,1352.2 L495.0,1352.2 L496.5,1352.2 L498.0,1352.2 L499.5,1352.2 L501.0,1352.2 L502.5,1352.2 L504.0,1352.2 L505.5,1352.2 L507.0,1352.2 L508.5,1352.2 L510.0,1352.2 L511.5,1352.2 L513.0,1352.2 L514.5,1352.2 L516.0,1352.2 L517.5,1352.2 L519.0,1352.2 L520.5,1352.2 L522.0,1352.2 L523.5,1352.2 L525.0,1352.2 L526.5,1352.2 L528.0,1352.2 L529.5,1352.2 L531.0,1352.2 L532.5,1352.2 L534.0,1352.2 L535.5,1352.2 L537.0,1352.2 L538.5,1352.2 L540.0,1352.2 L541.5,1352.2 L543.0,1352.2 L544.5,1352.2 L546.0,1352.2 L547.5,1352.2 L549.0,1352.2 L550.5,1352.2 L552.0,1352.2 L553.5,1352.2 L555.0,1352.2 L556.5,1352.2 L558.0,1352.2 L559.5,1352.2 L561.0,1352.2 L562.5,1352.2 L564.0,1352.2 L565.5,1352.2 L567.0,1352.1 L568.5,1352.1 L570.0,1352.1 L571.5,1352.1 L573.0,1352.1 L574.5,1352.1 L576.0,1352.1 L577.5,1352.1 L579.0,1352.1 L580.5,1352.1 L582.0,1352.1 L583.5,1352.1 L585.0,1352.1 L586.5,1352.1 L588.0,1352.1 L589.5,1352.1 L591.0,1352.1 L592.5,1352.1 L594.0,1352.1 L595.5,1352.1 L597.0,1352.1 L598.5,1352.1 L600.0,1352.1 L601.5,1352.0 L603.0,1352.0 L604.5,1352.0 L606.0,1352.0 L607.5,1352.0 L609.0,1352.0 L610.5,1352.0 L612.0,1352.0 L613.5,1352.0 L615.0,1352.0 L616.5,1352.0 L618.0,1352.0 L619.5,1352.0 L621.0,1352.0 L622.5,1352.0 L624.0,1352.0 L625.5,1351.9 L627.0,1351.9 L628.5,1351.9 L630.0,1351.9 L631.5,1351.9 L633.0,1351.9 L634.5,1351.9 L636.0,1351.9 L637.5,1351.9 L639.0,1351.9 L640.5,1351.9 L642.0,1351.9 L643.5,1351.8 L645.0,1351.8 L646.5,1351.8 L648.0,1351.8 L649.5,1351.8 L651.0,1351.8 L652.5,1351.8 L654.0,1351.8 L655.5,1351.8 L657.0,1351.7 L658.5,1351.7 L660.0,1351.7 L661.5,1351.7 L663.0,1351.7 L664.5,1351.7 L666.0,1351.7 L667.5,1351.7 L669.0,1351.7 L670.5,1351.6 L672.0,1351.6 L673.5,1351.6 L675.0,1351.6 L676.5,1351.6 L678.0,1351.6 L679.5,1351.6 L681.0,1351.5 L682.5,1351.5 L684.0,1351.5 L685.5,1351.5 L687.0,1351.5 L688.5,1351.5 L690.0,1351.4 L691.5,1351.4 L693.0,1351.4 L694.5,1351.4 L696.0,1351.4 L697.5,1351.3 L699.0,1351.3 L700.5,1351.3 L702.0,1351.3 L703.5,1351.2 L705.0,1351.2 L706.5,1351.2 L708.0,1351.1 L709.5,1351.1 L711.0,1351.1 L712.5,1351.0 L714.0,1351.0 L715.5,1350.9 L717.0,1350.9 L718.5,1350.8 L720.0,1350.7 L721.5,1350.7 L723.0,1350.6 L724.5,1350.6 L726.0,1350.5 L727.5,1350.4 L729.0,1350.4 L730.5,1350.3 L732.0,1350.2 L733.5,1350.1 L735.0,1350.1 L736.5,1350.0 L738.0,1349.9 L739.5,1349.8 L741.0,1349.7 L742.5,1349.6 L744.0,1349.6 L745.5,1349.5 L747.0,1349.4 L748.5,1349.3 L750.0,1349.2 L751.5,1349.1 L753.0,1349.0 L754.5,1348.9 L756.0,1348.8 L757.5,1348.7 L759.0,1348.7 L760.5,1348.6 L762.0,1348.5 L763.5,1348.4 L765.0,1348.3 L766.5,1348.2 L768.0,1348.1 L769.5,1348.0 L771.0,1347.9 L772.5,1347.8 L774.0,1347.7 L775.5,1347.6 L777.0,1347.5 L778.5,1347.4 L780.0,1347.3 L781.5,1347.2 L783.0,1347.1 L784.5,1347.0 L786.0,1346.9 L787.5,1346.8 L789.0,1346.7 L790.5,1346.6 L792.0,1346.5 L793.5,1346.4 L795.0,1346.3 L796.5,1346.2 L798.0,1346.1 L799.5,1346.0 L801.0,1345.9 L802.5,1345.8 L804.0,1345.7 L805.5,1345.6 L807.0,1345.5 L808.5,1345.4 L810.0,1345.3 L811.5,1345.2 L813.0,1345.1 L814.5,1345.0 L816.0,1344.9 L817.5,1344.8 L819.0,1344.7 L820.5,1344.7 L822.0,1344.6 L823.5,1344.5 L825.0,1344.4 L826.5,1344.3 L828.0,1344.2 L829.5,1344.1 L831.0,1344.0 L832.5,1343.9 L834.0,1343.8 L835.5,1343.7 L837.0,1343.6 L838.5,1343.5 L840.0,1343.4 L841.5,1343.4 L843.0,1343.3 L844.5,1343.2 L846.0,1343.1 L847.5,1343.0 L849.0,1342.9 L850.5,1342.8 L852.0,1342.7 L853.5,1342.6 L855.0,1342.6 L856.5,1342.5 L858.0,1342.4 L859.5,1342.3 L861.0,1342.2 L862.5,1342.1 L864.0,1342.1 L865.5,1342.0 L867.0,1341.9 L868.5,1341.8 L870.0,1341.8 L871.5,1341.7 L873.0,1341.6 L874.5,1341.6 L876.0,1341.5 L877.5,1341.5 L879.0,1341.4 L880.5,1341.4 L882.0,1341.3 L883.5,1341.2 L885.0,1341.2 L886.5,1341.2 L888.0,1341.1 L889.5,1341.1 L891.0,1341.0 L892.5,1341.0 L894.0,1341.0 L895.5,1340.9 L897.0,1340.9 L898.5,1340.9 L900.0,1340.8 L901.5,1340.8 L903.0,1340.8 L904.5,1340.8 L906.0,1340.7 L907.5,1340.7 L909.0,1340.7 L910.5,1340.7 L912.0,1340.7 L913.5,1340.6 L915.0,1340.6 L916.5,1340.6 L918.0,1340.6 L919.5,1340.6 L921.0,1340.6 L922.5,1340.6 L924.0,1340.5 L925.5,1340.5 L927.0,1340.5 L928.5,1340.5 L930.0,1340.5 L931.5,1340.5 L933.0,1340.5 L934.5,1340.5 L936.0,1340.5 L937.5,1340.5 L939.0,1340.5 L940.5,1340.5 L942.0,1340.5 L943.5,1340.5 L945.0,1340.5 L946.5,1340.5 L948.0,1340.5 L949.5,1340.5 L951.0,1340.5 L952.5,1340.5 L954.0,1340.5 L955.5,1340.5 L957.0,1340.5 L958.5,1340.5 L960.0,1340.5 L961.5,1340.5 L963.0,1340.5 L964.5,1340.6 L966.0,1340.6 L967.5,1340.6 L969.0,1340.6 L970.5,1340.6 L972.0,1340.6 L973.5,1340.6 L975.0,1340.7 L976.5,1340.7 L978.0,1340.7 L979.5,1340.7 L981.0,1340.7 L982.5,1340.8 L984.0,1340.8 L985.5,1340.8 L987.0,1340.8 L988.5,1340.9 L990.0,1340.9 L991.5,1340.9 L993.0,1340.9 L994.5,1341.0 L996.0,1341.0 L997.5,1341.0 L999.0,1341.0 L1000.5,1341.1 L1002.0,1341.1 L1003.5,1341.1 L1005.0,1341.2 L1006.5,1341.2 L1008.0,1341.2 L1009.5,1341.3 L1011.0,1341.3 L1012.5,1341.3 L1014.0,1341.4 L1015.5,1341.4 L1017.0,1341.4 L1018.5,1341.5 L1020.0,1341.5 L1021.5,1341.6 L1023.0,1341.6 L1024.5,1341.6 L1026.0,1341.7 L1027.5,1341.7 L1029.0,1341.7 L1030.5,1341.8 L1032.0,1341.8 L1033.5,1341.9 L1035.0,1341.9 L1036.5,1342.0 L1038.0,1342.0 L1039.5,1342.0 L1041.0,1342.1 L1042.5,1342.1 L1044.0,1342.2 L1045.5,1342.2 L1047.0,1342.3 L1048.5,1342.3 L1050.0,1342.4 L1051.5,1342.4 L1053.0,1342.4 L1054.5,1342.5 L1056.0,1342.5 L1057.5,1342.6 L1059.0,1342.6 L1060.5,1342.7 L1062.0,1342.7 L1063.5,1342.8 L1065.0,1342.8 L1066.5,1342.8 L1068.0,1342.9 L1069.5,1342.9 L1071.0,1343.0 L1072.5,1343.0 L1074.0,1343.0 L1075.5,1343.1 L1077.0,1343.1 L1078.5,1343.1 L1080.0,1343.2 L1081.5,1343.2 L1083.0,1343.2 L1084.5,1343.3 L1086.0,1343.3 L1087.5,1343.3 L1089.0,1343.4 L1090.5,1343.4 L1092.0,1343.4 L1093.5,1343.5 L1095.0,1343.5 L1096.5,1343.5 L1098.0,1343.6 L1099.5,1343.6 L1101.0,1343.6 L1102.5,1343.6 L1104.0,1343.7 L1105.5,1343.7 L1107.0,1343.7 L1108.5,1343.7 L1110.0,1343.7 L1111.5,1343.7 L1113.0,1343.8 L1114.5,1343.8 L1116.0,1343.8 L1117.5,1343.8 L1119.0,1343.8 L1120.5,1343.8 L1122.0,1343.8 L1123.5,1343.8 L1125.0,1343.8 L1126.5,1343.8 L1128.0,1343.8 L1129.5,1343.8 L1131.0,1343.8 L1132.5,1343.8 L1134.0,1343.8 L1135.5,1343.9 L1137.0,1343.9 L1138.5,1343.9 L1140.0,1343.8 L1141.5,1343.8 L1143.0,1343.8 L1144.5,1343.8 L1146.0,1343.8 L1147.5,1343.7 L1149.0,1343.7 L1150.5,1343.6 L1152.0,1343.5 L1153.5,1343.5 L1155.0,1343.4 L1156.5,1343.3 L1158.0,1343.2 L1159.5,1343.1 L1161.0,1343.0 L1162.5,1342.9 L1164.0,1342.8 L1165.5,1342.6 L1167.0,1342.5 L1168.5,1342.4 L1170.0,1342.2 L1171.5,1342.0 L1173.0,1341.8 L1174.5,1341.6 L1176.0,1341.3 L1177.5,1341.0 L1179.0,1340.6 L1180.5,1340.2 L1182.0,1339.8 L1183.5,1339.4 L1185.0,1338.9 L1186.5,1338.4 L1188.0,1337.9 L1189.5,1337.4 L1191.0,1336.8 L1192.5,1336.2 L1194.0,1335.6 L1195.5,1335.0 L1197.0,1334.3 L1198.5,1333.6 L1200.0,1332.9 L1201.5,1332.2 L1203.0,1331.4 L1204.5,1330.6 L1206.0,1329.8 L1207.5,1328.9 L1209.0,1328.0 L1210.5,1327.1 L1212.0,1326.2 L1213.5,1325.3 L1215.0,1324.4 L1216.5,1323.5 L1218.0,1322.6 L1219.5,1321.6 L1221.0,1320.7 L1222.5,1319.8 L1224.0,1318.9 L1225.5,1318.0 L1227.0,1317.1 L1228.5,1316.2 L1230.0,1315.4 L1231.5,1314.5 L1233.0,1313.6 L1234.5,1312.7 L1236.0,1311.9 L1237.5,1311.1 L1239.0,1310.3 L1240.5,1309.5 L1242.0,1308.8 L1243.5,1308.0 L1245.0,1307.3 L1246.5,1306.6 L1248.0,1306.0 L1249.5,1305.4 L1251.0,1304.8 L1252.5,1304.3 L1254.0,1303.9 L1255.5,1303.4 L1257.0,1303.0 L1258.5,1302.7 L1260.0,1302.4 L1261.5,1302.2 L1263.0,1302.0 L1264.5,1301.9 L1266.0,1301.8 L1267.5,1301.8 L1269.0,1301.9 L1270.5,1302.1 L1272.0,1302.2 L1273.5,1302.5 L1275.0,1302.8 L1276.5,1303.1 L1278.0,1303.4 L1279.5,1303.8 L1281.0,1304.2 L1282.5,1304.7 L1284.0,1305.1 L1285.5,1305.6 L1287.0,1306.1 L1288.5,1306.6 L1290.0,1307.0 L1291.5,1307.5 L1293.0,1308.0 L1294.5,1308.6 L1296.0,1309.1 L1297.5,1309.6 L1299.0,1310.2 L1300.5,1310.7 L1302.0,1311.3 L1303.5,1311.8 L1305.0,1312.4 L1306.5,1312.9 L1308.0,1313.4 L1309.5,1314.0 L1311.0,1314.5 L1312.5,1314.9 L1314.0,1315.4 L1315.5,1315.9 L1317.0,1316.3 L1318.5,1316.7 L1320.0,1317.1 L1321.5,1317.5 L1323.0,1317.9 L1324.5,1318.2 L1326.0,1318.6 L1327.5,1318.9 L1329.0,1319.2 L1330.5,1319.5 L1332.0,1319.8 L1333.5,1320.0 L1335.0,1320.3 L1336.5,1320.6 L1338.0,1320.9 L1339.5,1321.1 L1341.0,1321.4 L1342.5,1321.6 L1344.0,1321.9 L1345.5,1322.1 L1347.0,1322.4 L1348.5,1322.6 L1350.0,1322.8 L1351.5,1323.0 L1353.0,1323.3 L1354.5,1323.5 L1356.0,1323.7 L1357.5,1323.9 L1359.0,1324.2 L1360.5,1324.4 L1362.0,1324.6 L1363.5,1324.8 L1365.0,1325.1 L1366.5,1325.3 L1368.0,1325.5 L1369.5,1325.8 L1371.0,1326.0 L1372.5,1326.3 L1374.0,1326.5 L1375.5,1326.8 L1377.0,1327.1 L1378.5,1327.4 L1380.0,1327.7 L1381.5,1328.0 L1383.0,1328.3 L1384.5,1328.6 L1386.0,1328.9 L1387.5,1329.2 L1389.0,1329.5 L1390.5,1329.8 L1392.0,1330.1 L1393.5,1330.4 L1395.0,1330.7 L1396.5,1331.0 L1398.0,1331.2 L1399.5,1331.5 L1401.0,1331.8 L1402.5,1332.1 L1404.0,1332.4 L1405.5,1332.7 L1407.0,1333.0 L1408.5,1333.3 L1410.0,1333.6 L1411.5,1333.9 L1413.0,1334.2 L1414.5,1334.5 L1416.0,1334.8 L1417.5,1335.0 L1419.0,1335.3 L1420.5,1335.6 L1422.0,1335.8 L1423.5,1336.1 L1425.0,1336.3 L1426.5,1336.6 L1428.0,1336.9 L1429.5,1337.1 L1431.0,1337.3 L1432.5,1337.6 L1434.0,1337.8 L1435.5,1338.0 L1437.0,1338.2 L1438.5,1338.5 L1440.0,1338.7 L1441.5,1338.9 L1443.0,1339.1 L1444.5,1339.3 L1446.0,1339.5 L1447.5,1339.7 L1449.0,1339.9 L1450.5,1340.1 L1452.0,1340.3 L1453.5,1340.5 L1455.0,1340.7 L1456.5,1340.9 L1458.0,1341.1 L1459.5,1341.3 L1461.0,1341.5 L1462.5,1341.7 L1464.0,1341.8 L1465.5,1342.0 L1467.0,1342.2 L1468.5,1342.3 L1470.0,1342.5 L1471.5,1342.6 L1473.0,1342.8 L1474.5,1342.9 L1476.0,1343.0 L1477.5,1343.2 L1479.0,1343.3 L1480.5,1343.4 L1482.0,1343.5 L1483.5,1343.7 L1485.0,1343.8 L1486.5,1343.9 L1488.0,1344.0 L1489.5,1344.1 L1491.0,1344.2 L1492.5,1344.3 L1494.0,1344.4 L1495.5,1344.5 L1497.0,1344.5 L1498.5,1344.6 L1500.0,1344.7 L1501.5,1344.7 L1503.0,1344.8 L1504.5,1344.8 L1506.0,1344.8 L1507.5,1344.9 L1509.0,1344.9 L1510.5,1344.9 L1512.0,1344.9 L1513.5,1344.9 L1515.0,1344.9 L1516.5,1344.8 L1518.0,1344.8 L1519.5,1344.8 L1521.0,1344.7 L1522.5,1344.7 L1524.0,1344.6 L1525.5,1344.5 L1527.0,1344.4 L1528.5,1344.3 L1530.0,1344.2 L1531.5,1344.1 L1533.0,1344.0 L1534.5,1343.8 L1536.0,1343.7 L1537.5,1343.6 L1539.0,1343.4 L1540.5,1343.2 L1542.0,1343.1 L1543.5,1342.9 L1545.0,1342.7 L1546.5,1342.6 L1548.0,1342.4 L1549.5,1342.2 L1551.0,1342.0 L1552.5,1341.7 L1554.0,1341.5 L1555.5,1341.3 L1557.0,1341.0 L1558.5,1340.8 L1560.0,1340.5 L1561.5,1340.3 L1563.0,1340.0 L1564.5,1339.7 L1566.0,1339.4 L1567.5,1339.2 L1569.0,1338.9 L1570.5,1338.6 L1572.0,1338.3 L1573.5,1338.0 L1575.0,1337.7 L1576.5,1337.4 L1578.0,1337.0 L1579.5,1336.7 L1581.0,1336.3 L1582.5,1335.9 L1584.0,1335.5 L1585.5,1335.1 L1587.0,1334.7 L1588.5,1334.2 L1590.0,1333.7 L1591.5,1333.2 L1593.0,1332.7 L1594.5,1332.2 L1596.0,1331.6 L1597.5,1331.1 L1599.0,1330.6 L1600.5,1330.0 L1602.0,1329.5 L1603.5,1328.9 L1605.0,1328.3 L1606.5,1327.8 L1608.0,1327.2 L1609.5,1326.6 L1611.0,1326.0 L1612.5,1325.4 L1614.0,1324.8 L1615.5,1324.3 L1617.0,1323.7 L1618.5,1323.1 L1620.0,1322.5 L1621.5,1321.9 L1623.0,1321.3 L1624.5,1320.7 L1626.0,1320.1 L1627.5,1319.5 L1629.0,1318.9 L1630.5,1318.3 L1632.0,1317.7 L1633.5,1317.1 L1635.0,1316.6 L1636.5,1316.0 L1638.0,1315.4 L1639.5,1314.8 L1641.0,1314.3 L1642.5,1313.7 L1644.0,1313.2 L1645.5,1312.7 L1647.0,1312.1 L1648.5,1311.6 L1650.0,1311.2 L1651.5,1310.7 L1653.0,1310.3 L1654.5,1309.9 L1656.0,1309.5 L1657.5,1309.2 L1659.0,1308.8 L1660.5,1308.5 L1662.0,1308.2 L1663.5,1307.9 L1665.0,1307.6 L1666.5,1307.3 L1668.0,1307.0 L1669.5,1306.8 L1671.0,1306.5 L1672.5,1306.3 L1674.0,1306.1 L1675.5,1305.9 L1677.0,1305.7 L1678.5,1305.6 L1680.0,1305.5 L1681.5,1305.4 L1683.0,1305.3 L1684.5,1305.2 L1686.0,1305.2 L1687.5,1305.1 L1689.0,1305.1 L1690.5,1305.1 L1692.0,1305.2 L1693.5,1305.2 L1695.0,1305.3 L1696.5,1305.4 L1698.0,1305.5 L1699.5,1305.6 L1701.0,1305.7 L1702.5,1305.9 L1704.0,1306.0 L1705.5,1306.2 L1707.0,1306.3 L1708.5,1306.5 L1710.0,1306.7 L1711.5,1306.9 L1713.0,1307.2 L1714.5,1307.4 L1716.0,1307.7 L1717.5,1307.9 L1719.0,1308.2 L1720.5,1308.5 L1722.0,1308.8 L1723.5,1309.1 L1725.0,1309.4 L1726.5,1309.7 L1728.0,1310.0 L1729.5,1310.3 L1731.0,1310.6 L1732.5,1311.0 L1734.0,1311.3 L1735.5,1311.7 L1737.0,1312.0 L1738.5,1312.4 L1740.0,1312.7 L1741.5,1313.1 L1743.0,1313.4 L1744.5,1313.8 L1746.0,1314.2 L1747.5,1314.5 L1749.0,1314.9 L1750.5,1315.2 L1752.0,1315.6 L1753.5,1315.9 L1755.0,1316.3 L1756.5,1316.7 L1758.0,1317.0 L1759.5,1317.4 L1761.0,1317.7 L1762.5,1318.1 L1764.0,1318.4 L1765.5,1318.8 L1767.0,1319.2 L1768.5,1319.5 L1770.0,1319.9 L1771.5,1320.2 L1773.0,1320.6 L1774.5,1320.9 L1776.0,1321.3 L1777.5,1321.7 L1779.0,1322.0 L1780.5,1322.4 L1782.0,1322.7 L1783.5,1323.1 L1785.0,1323.4 L1786.5,1323.8 L1788.0,1324.1 L1789.5,1324.5 L1791.0,1324.9 L1792.5,1325.2 L1794.0,1325.5 L1795.5,1325.9 L1797.0,1326.2 L1798.5,1326.5 L1800.0,1326.9 L1801.5,1327.2 L1803.0,1327.5 L1804.5,1327.8 L1806.0,1328.1 L1807.5,1328.4 L1809.0,1328.7 L1810.5,1329.0 L1812.0,1329.3 L1813.5,1329.6 L1815.0,1329.9 L1816.5,1330.2 L1818.0,1330.5 L1819.5,1330.8 L1821.0,1331.1 L1822.5,1331.4 L1824.0,1331.6 L1825.5,1331.9 L1827.0,1332.2 L1828.5,1332.4 L1830.0,1332.7 L1831.5,1332.9 L1833.0,1333.2 L1834.5,1333.4 L1836.0,1333.6 L1837.5,1333.9 L1839.0,1334.1 L1840.5,1334.3 L1842.0,1334.5 L1843.5,1334.7 L1845.0,1334.9 L1846.5,1335.1 L1848.0,1335.4 L1849.5,1335.6 L1851.0,1335.8 L1852.5,1336.0 L1854.0,1336.2 L1855.5,1336.4 L1857.0,1336.6 L1858.5,1336.8 L1860.0,1337.0 L1861.5,1337.2 L1863.0,1337.4 L1864.5,1337.6 L1866.0,1337.8 L1867.5,1338.0 L1869.0,1338.2 L1870.5,1338.4 L1872.0,1338.7 L1873.5,1338.9 L1875.0,1339.1 L1876.5,1339.3 L1878.0,1339.5 L1879.5,1339.7 L1881.0,1339.9 L1882.5,1340.2 L1884.0,1340.4 L1885.5,1340.6 L1887.0,1340.8 L1888.5,1341.0 L1890.0,1341.2 L1891.5,1341.4 L1893.0,1341.6 L1894.5,1341.8 L1896.0,1342.0 L1897.5,1342.2 L1899.0,1342.3 L1900.5,1342.5 L1902.0,1342.7 L1903.5,1342.8 L1905.0,1343.0 L1906.5,1343.1 L1908.0,1343.3 L1909.5,1343.4 L1911.0,1343.5 L1912.5,1343.7 L1914.0,1343.8 L1915.5,1343.9 L1917.0,1344.0 L1918.5,1344.1 L1920.0,1344.2 L1921.5,1344.3 L1923.0,1344.4 L1924.5,1344.5 L1926.0,1344.6 L1927.5,1344.7 L1929.0,1344.8 L1930.5,1344.9 L1932.0,1345.0 L1933.5,1345.1 L1935.0,1345.2 L1936.5,1345.2 L1938.0,1345.3 L1939.5,1345.4 L1941.0,1345.5 L1942.5,1345.5 L1944.0,1345.6 L1945.5,1345.7 L1947.0,1345.8 L1948.5,1345.8 L1950.0,1345.9 L1951.5,1346.0 L1953.0,1346.0 L1954.5,1346.1 L1956.0,1346.2 L1957.5,1346.2 L1959.0,1346.3 L1960.5,1346.4 L1962.0,1346.4 L1963.5,1346.5 L1965.0,1346.6 L1966.5,1346.6 L1968.0,1346.7 L1969.5,1346.8 L1971.0,1346.9 L1972.5,1346.9 L1974.0,1347.0 L1975.5,1347.1 L1977.0,1347.1 L1978.5,1347.2 L1980.0,1347.3 L1981.5,1347.3 L1983.0,1347.4 L1984.5,1347.5 L1986.0,1347.5 L1987.5,1347.6 L1989.0,1347.7 L1990.5,1347.7 L1992.0,1347.8 L1993.5,1347.8 L1995.0,1347.9 L1996.5,1348.0 L1998.0,1348.0 L1999.5,1348.1 L2001.0,1348.2 L2002.5,1348.2 L2004.0,1348.3 L2005.5,1348.3 L2007.0,1348.4 L2008.5,1348.4 L2010.0,1348.5 L2011.5,1348.5 L2013.0,1348.6 L2014.5,1348.7 L2016.0,1348.7 L2017.5,1348.8 L2019.0,1348.8 L2020.5,1348.9 L2022.0,1348.9 L2023.5,1348.9 L2025.0,1349.0 L2026.5,1349.0 L2028.0,1349.1 L2029.5,1349.1 L2031.0,1349.2 L2032.5,1349.2 L2034.0,1349.3 L2035.5,1349.3 L2037.0,1349.3 L2038.5,1349.4 L2040.0,1349.4 L2041.5,1349.5 L2043.0,1349.5 L2044.5,1349.5 L2046.0,1349.6 L2047.5,1349.6 L2049.0,1349.6 L2050.5,1349.7 L2052.0,1349.7 L2053.5,1349.7 L2055.0,1349.8 L2056.5,1349.8 L2058.0,1349.8 L2059.5,1349.8 L2061.0,1349.9 L2062.5,1349.9 L2064.0,1349.9 L2065.5,1350.0 L2067.0,1350.0 L2068.5,1350.0 L2070.0,1350.0 L2071.5,1350.1 L2073.0,1350.1 L2074.5,1350.1 L2076.0,1350.1 L2077.5,1350.2 L2079.0,1350.2 L2080.5,1350.2 L2082.0,1350.2 L2083.5,1350.2 L2085.0,1350.3 L2086.5,1350.3 L2088.0,1350.3 L2089.5,1350.3 L2091.0,1350.4 L2092.5,1350.4 L2094.0,1350.4 L2095.5,1350.4 L2097.0,1350.4 L2098.5,1350.5 L2100.0,1350.5 L2101.5,1350.5 L2103.0,1350.5 L2104.5,1350.5 L2106.0,1350.6 L2107.5,1350.6 L2109.0,1350.6 L2110.5,1350.6 L2112.0,1350.6 L2113.5,1350.7 L2115.0,1350.7 L2116.5,1350.7 L2118.0,1350.7 L2119.5,1350.7 L2121.0,1350.7 L2122.5,1350.8 L2124.0,1350.8 L2125.5,1350.8 L2127.0,1350.8 L2128.5,1350.8 L2130.0,1350.8 L2131.5,1350.9 L2133.0,1350.9 L2134.5,1350.9 L2136.0,1350.9 L2137.5,1350.9 L2139.0,1350.9 L2140.5,1351.0 L2142.0,1351.0 L2143.5,1351.0 L2145.0,1351.0 L2146.5,1351.0 L2148.0,1351.0 L2149.5,1351.0 L2151.0,1351.0 L2152.5,1351.1 L2154.0,1351.1 L2155.5,1351.1 L2157.0,1351.1 L2158.5,1351.1 L2160.0,1351.1 L2161.5,1351.1 L2163.0,1351.1 L2164.5,1351.2 L2166.0,1351.2 L2167.5,1351.2 L2169.0,1351.2 L2170.5,1351.2 L2172.0,1351.2 L2173.5,1351.2 L2175.0,1351.2 L2176.5,1351.3 L2178.0,1351.3 L2179.5,1351.3 L2181.0,1351.3 L2182.5,1351.3 L2184.0,1351.3 L2185.5,1351.3 L2187.0,1351.3 L2188.5,1351.3 L2190.0,1351.4 L2191.5,1351.4 L2193.0,1351.4 L2194.5,1351.4 L2196.0,1351.4 L2197.5,1351.4 L2199.0,1351.4 L2200.5,1351.4 L2202.0,1351.4 L2203.5,1351.4 L2205.0,1351.4 L2206.5,1351.5 L2208.0,1351.5 L2209.5,1351.5 L2211.0,1351.5 L2212.5,1351.5 L2214.0,1351.5 L2215.5,1351.5 L2217.0,1351.5 L2218.5,1351.5 L2220.0,1351.5 L2221.5,1351.5 L2223.0,1351.5 L2224.5,1351.5"/>
<path class="cv" d="M415.5,1352.3 L417.0,1352.3 L418.5,1352.3 L420.0,1352.3 L421.5,1352.3 L423.0,1352.3 L424.5,1352.3 L426.0,1352.3 L427.5,1352.3 L429.0,1352.3 L430.5,1352.3 L432.0,1352.3 L433.5,1352.3 L435.0,1352.3 L436.5,1352.3 L438.0,1352.3 L439.5,1352.3 L441.0,1352.3 L442.5,1352.3 L444.0,1352.3 L445.5,1352.3 L447.0,1352.3 L448.5,1352.3 L450.0,1352.3 L451.5,1352.3 L453.0,1352.3 L454.5,1352.3 L456.0,1352.3 L457.5,1352.3 L459.0,1352.3 L460.5,1352.3 L462.0,1352.3 L463.5,1352.3 L465.0,1352.3 L466.5,1352.3 L468.0,1352.3 L469.5,1352.3 L471.0,1352.3 L472.5,1352.3 L474.0,1352.3 L475.5,1352.3 L477.0,1352.3 L478.5,1352.3 L480.0,1352.3 L481.5,1352.3 L483.0,1352.3 L484.5,1352.3 L486.0,1352.3 L487.5,1352.3 L489.0,1352.3 L490.5,1352.3 L492.0,1352.3 L493.5,1352.3 L495.0,1352.3 L496.5,1352.3 L498.0,1352.3 L499.5,1352.3 L501.0,1352.3 L502.5,1352.3 L504.0,1352.3 L505.5,1352.3 L507.0,1352.3 L508.5,1352.3 L510.0,1352.3 L511.5,1352.3 L513.0,1352.3 L514.5,1352.3 L516.0,1352.3 L517.5,1352.3 L519.0,1352.3 L520.5,1352.3 L522.0,1352.3 L523.5,1352.3 L525.0,1352.3 L526.5,1352.3 L528.0,1352.3 L529.5,1352.3 L531.0,1352.3 L532.5,1352.3 L534.0,1352.3 L535.5,1352.3 L537.0,1352.3 L538.5,1352.3 L540.0,1352.3 L541.5,1352.3 L543.0,1352.3 L544.5,1352.3 L546.0,1352.3 L547.5,1352.3 L549.0,1352.3 L550.5,1352.3 L552.0,1352.3 L553.5,1352.3 L555.0,1352.3 L556.5,1352.3 L558.0,1352.3 L559.5,1352.3 L561.0,1352.3 L562.5,1352.3 L564.0,1352.3 L565.5,1352.3 L567.0,1352.3 L568.5,1352.3 L570.0,1352.3 L571.5,1352.3 L573.0,1352.3 L574.5,1352.3 L576.0,1352.3 L577.5,1352.3 L579.0,1352.3 L580.5,1352.3 L582.0,1352.3 L583.5,1352.3 L585.0,1352.3 L586.5,1352.3 L588.0,1352.3 L589.5,1352.3 L591.0,1352.3 L592.5,1352.3 L594.0,1352.3 L595.5,1352.3 L597.0,1352.3 L598.5,1352.3 L600.0,1352.3 L601.5,1352.3 L603.0,1352.3 L604.5,1352.3 L606.0,1352.3 L607.5,1352.3 L609.0,1352.3 L610.5,1352.3 L612.0,1352.3 L613.5,1352.3 L615.0,1352.3 L616.5,1352.3 L618.0,1352.3 L619.5,1352.3 L621.0,1352.3 L622.5,1352.3 L624.0,1352.3 L625.5,1352.3 L627.0,1352.3 L628.5,1352.3 L630.0,1352.3 L631.5,1352.3 L633.0,1352.3 L634.5,1352.3 L636.0,1352.3 L637.5,1352.3 L639.0,1352.3 L640.5,1352.3 L642.0,1352.3 L643.5,1352.3 L645.0,1352.3 L646.5,1352.3 L648.0,1352.3 L649.5,1352.3 L651.0,1352.3 L652.5,1352.3 L654.0,1352.3 L655.5,1352.2 L657.0,1352.2 L658.5,1352.2 L660.0,1352.2 L661.5,1352.2 L663.0,1352.2 L664.5,1352.2 L666.0,1352.2 L667.5,1352.2 L669.0,1352.2 L670.5,1352.2 L672.0,1352.2 L673.5,1352.2 L675.0,1352.2 L676.5,1352.2 L678.0,1352.2 L679.5,1352.2 L681.0,1352.2 L682.5,1352.2 L684.0,1352.2 L685.5,1352.2 L687.0,1352.2 L688.5,1352.2 L690.0,1352.1 L691.5,1352.1 L693.0,1352.1 L694.5,1352.1 L696.0,1352.1 L697.5,1352.1 L699.0,1352.1 L700.5,1352.1 L702.0,1352.1 L703.5,1352.1 L705.0,1352.1 L706.5,1352.0 L708.0,1352.0 L709.5,1352.0 L711.0,1352.0 L712.5,1351.9 L714.0,1351.9 L715.5,1351.9 L717.0,1351.8 L718.5,1351.8 L720.0,1351.8 L721.5,1351.7 L723.0,1351.7 L724.5,1351.6 L726.0,1351.6 L727.5,1351.5 L729.0,1351.5 L730.5,1351.4 L732.0,1351.3 L733.5,1351.3 L735.0,1351.2 L736.5,1351.2 L738.0,1351.1 L739.5,1351.0 L741.0,1351.0 L742.5,1350.9 L744.0,1350.8 L745.5,1350.8 L747.0,1350.7 L748.5,1350.6 L750.0,1350.5 L751.5,1350.5 L753.0,1350.4 L754.5,1350.3 L756.0,1350.2 L757.5,1350.1 L759.0,1350.1 L760.5,1350.0 L762.0,1349.9 L763.5,1349.8 L765.0,1349.7 L766.5,1349.6 L768.0,1349.6 L769.5,1349.5 L771.0,1349.4 L772.5,1349.3 L774.0,1349.2 L775.5,1349.1 L777.0,1349.0 L778.5,1349.0 L780.0,1348.9 L781.5,1348.8 L783.0,1348.7 L784.5,1348.6 L786.0,1348.5 L787.5,1348.4 L789.0,1348.4 L790.5,1348.3 L792.0,1348.2 L793.5,1348.1 L795.0,1348.0 L796.5,1347.9 L798.0,1347.8 L799.5,1347.8 L801.0,1347.7 L802.5,1347.6 L804.0,1347.5 L805.5,1347.4 L807.0,1347.3 L808.5,1347.3 L810.0,1347.2 L811.5,1347.1 L813.0,1347.0 L814.5,1346.9 L816.0,1346.8 L817.5,1346.8 L819.0,1346.7 L820.5,1346.6 L822.0,1346.5 L823.5,1346.4 L825.0,1346.3 L826.5,1346.3 L828.0,1346.2 L829.5,1346.1 L831.0,1346.0 L832.5,1345.9 L834.0,1345.9 L835.5,1345.8 L837.0,1345.7 L838.5,1345.6 L840.0,1345.5 L841.5,1345.5 L843.0,1345.4 L844.5,1345.3 L846.0,1345.2 L847.5,1345.1 L849.0,1345.1 L850.5,1345.0 L852.0,1344.9 L853.5,1344.8 L855.0,1344.8 L856.5,1344.7 L858.0,1344.6 L859.5,1344.5 L861.0,1344.5 L862.5,1344.4 L864.0,1344.3 L865.5,1344.2 L867.0,1344.2 L868.5,1344.1 L870.0,1344.0 L871.5,1344.0 L873.0,1343.9 L874.5,1343.9 L876.0,1343.8 L877.5,1343.8 L879.0,1343.7 L880.5,1343.7 L882.0,1343.6 L883.5,1343.6 L885.0,1343.5 L886.5,1343.5 L888.0,1343.4 L889.5,1343.4 L891.0,1343.4 L892.5,1343.3 L894.0,1343.3 L895.5,1343.3 L897.0,1343.2 L898.5,1343.2 L900.0,1343.2 L901.5,1343.1 L903.0,1343.1 L904.5,1343.1 L906.0,1343.1 L907.5,1343.0 L909.0,1343.0 L910.5,1343.0 L912.0,1343.0 L913.5,1343.0 L915.0,1342.9 L916.5,1342.9 L918.0,1342.9 L919.5,1342.9 L921.0,1342.9 L922.5,1342.9 L924.0,1342.9 L925.5,1342.8 L927.0,1342.8 L928.5,1342.8 L930.0,1342.8 L931.5,1342.8 L933.0,1342.8 L934.5,1342.8 L936.0,1342.8 L937.5,1342.8 L939.0,1342.8 L940.5,1342.8 L942.0,1342.8 L943.5,1342.8 L945.0,1342.7 L946.5,1342.7 L948.0,1342.7 L949.5,1342.7 L951.0,1342.7 L952.5,1342.7 L954.0,1342.7 L955.5,1342.7 L957.0,1342.7 L958.5,1342.7 L960.0,1342.7 L961.5,1342.7 L963.0,1342.7 L964.5,1342.8 L966.0,1342.8 L967.5,1342.8 L969.0,1342.8 L970.5,1342.8 L972.0,1342.8 L973.5,1342.8 L975.0,1342.8 L976.5,1342.8 L978.0,1342.8 L979.5,1342.8 L981.0,1342.8 L982.5,1342.8 L984.0,1342.9 L985.5,1342.9 L987.0,1342.9 L988.5,1342.9 L990.0,1342.9 L991.5,1342.9 L993.0,1342.9 L994.5,1342.9 L996.0,1342.9 L997.5,1343.0 L999.0,1343.0 L1000.5,1343.0 L1002.0,1343.0 L1003.5,1343.0 L1005.0,1343.0 L1006.5,1343.0 L1008.0,1343.0 L1009.5,1343.1 L1011.0,1343.1 L1012.5,1343.1 L1014.0,1343.1 L1015.5,1343.1 L1017.0,1343.1 L1018.5,1343.2 L1020.0,1343.2 L1021.5,1343.2 L1023.0,1343.2 L1024.5,1343.2 L1026.0,1343.3 L1027.5,1343.3 L1029.0,1343.3 L1030.5,1343.3 L1032.0,1343.4 L1033.5,1343.4 L1035.0,1343.4 L1036.5,1343.4 L1038.0,1343.5 L1039.5,1343.5 L1041.0,1343.5 L1042.5,1343.5 L1044.0,1343.6 L1045.5,1343.6 L1047.0,1343.6 L1048.5,1343.7 L1050.0,1343.7 L1051.5,1343.7 L1053.0,1343.8 L1054.5,1343.8 L1056.0,1343.8 L1057.5,1343.8 L1059.0,1343.9 L1060.5,1343.9 L1062.0,1343.9 L1063.5,1344.0 L1065.0,1344.0 L1066.5,1344.0 L1068.0,1344.1 L1069.5,1344.1 L1071.0,1344.1 L1072.5,1344.2 L1074.0,1344.2 L1075.5,1344.2 L1077.0,1344.2 L1078.5,1344.3 L1080.0,1344.3 L1081.5,1344.3 L1083.0,1344.4 L1084.5,1344.4 L1086.0,1344.4 L1087.5,1344.5 L1089.0,1344.5 L1090.5,1344.5 L1092.0,1344.5 L1093.5,1344.6 L1095.0,1344.6 L1096.5,1344.6 L1098.0,1344.6 L1099.5,1344.7 L1101.0,1344.7 L1102.5,1344.7 L1104.0,1344.7 L1105.5,1344.7 L1107.0,1344.8 L1108.5,1344.8 L1110.0,1344.8 L1111.5,1344.8 L1113.0,1344.8 L1114.5,1344.9 L1116.0,1344.9 L1117.5,1344.9 L1119.0,1344.9 L1120.5,1344.9 L1122.0,1344.9 L1123.5,1344.9 L1125.0,1345.0 L1126.5,1345.0 L1128.0,1345.0 L1129.5,1345.0 L1131.0,1345.0 L1132.5,1345.0 L1134.0,1345.1 L1135.5,1345.1 L1137.0,1345.1 L1138.5,1345.1 L1140.0,1345.1 L1141.5,1345.1 L1143.0,1345.1 L1144.5,1345.1 L1146.0,1345.1 L1147.5,1345.1 L1149.0,1345.0 L1150.5,1345.0 L1152.0,1345.0 L1153.5,1344.9 L1155.0,1344.9 L1156.5,1344.8 L1158.0,1344.8 L1159.5,1344.7 L1161.0,1344.6 L1162.5,1344.6 L1164.0,1344.5 L1165.5,1344.4 L1167.0,1344.3 L1168.5,1344.2 L1170.0,1344.1 L1171.5,1343.9 L1173.0,1343.8 L1174.5,1343.6 L1176.0,1343.4 L1177.5,1343.1 L1179.0,1342.9 L1180.5,1342.6 L1182.0,1342.3 L1183.5,1342.0 L1185.0,1341.7 L1186.5,1341.3 L1188.0,1341.0 L1189.5,1340.6 L1191.0,1340.3 L1192.5,1339.9 L1194.0,1339.5 L1195.5,1339.2 L1197.0,1338.8 L1198.5,1338.4 L1200.0,1337.9 L1201.5,1337.5 L1203.0,1337.0 L1204.5,1336.4 L1206.0,1335.8 L1207.5,1335.2 L1209.0,1334.5 L1210.5,1333.9 L1212.0,1333.2 L1213.5,1332.5 L1215.0,1331.8 L1216.5,1331.1 L1218.0,1330.4 L1219.5,1329.7 L1221.0,1329.0 L1222.5,1328.3 L1224.0,1327.6 L1225.5,1326.9 L1227.0,1326.2 L1228.5,1325.5 L1230.0,1324.8 L1231.5,1324.1 L1233.0,1323.4 L1234.5,1322.7 L1236.0,1322.0 L1237.5,1321.3 L1239.0,1320.6 L1240.5,1319.9 L1242.0,1319.2 L1243.5,1318.5 L1245.0,1317.8 L1246.5,1317.2 L1248.0,1316.6 L1249.5,1316.0 L1251.0,1315.4 L1252.5,1314.9 L1254.0,1314.4 L1255.5,1314.0 L1257.0,1313.5 L1258.5,1313.1 L1260.0,1312.8 L1261.5,1312.4 L1263.0,1312.2 L1264.5,1311.9 L1266.0,1311.8 L1267.5,1311.7 L1269.0,1311.7 L1270.5,1311.7 L1272.0,1311.8 L1273.5,1311.9 L1275.0,1312.0 L1276.5,1312.2 L1278.0,1312.4 L1279.5,1312.7 L1281.0,1313.0 L1282.5,1313.3 L1284.0,1313.6 L1285.5,1313.9 L1287.0,1314.3 L1288.5,1314.6 L1290.0,1315.0 L1291.5,1315.4 L1293.0,1315.8 L1294.5,1316.2 L1296.0,1316.6 L1297.5,1317.1 L1299.0,1317.5 L1300.5,1318.0 L1302.0,1318.4 L1303.5,1318.9 L1305.0,1319.4 L1306.5,1319.8 L1308.0,1320.2 L1309.5,1320.7 L1311.0,1321.1 L1312.5,1321.5 L1314.0,1321.8 L1315.5,1322.2 L1317.0,1322.5 L1318.5,1322.9 L1320.0,1323.2 L1321.5,1323.5 L1323.0,1323.8 L1324.5,1324.1 L1326.0,1324.4 L1327.5,1324.6 L1329.0,1324.9 L1330.5,1325.2 L1332.0,1325.5 L1333.5,1325.7 L1335.0,1326.0 L1336.5,1326.2 L1338.0,1326.5 L1339.5,1326.7 L1341.0,1327.0 L1342.5,1327.2 L1344.0,1327.5 L1345.5,1327.7 L1347.0,1327.9 L1348.5,1328.2 L1350.0,1328.4 L1351.5,1328.6 L1353.0,1328.9 L1354.5,1329.1 L1356.0,1329.3 L1357.5,1329.5 L1359.0,1329.7 L1360.5,1330.0 L1362.0,1330.2 L1363.5,1330.4 L1365.0,1330.6 L1366.5,1330.9 L1368.0,1331.1 L1369.5,1331.3 L1371.0,1331.6 L1372.5,1331.8 L1374.0,1332.1 L1375.5,1332.3 L1377.0,1332.6 L1378.5,1332.9 L1380.0,1333.1 L1381.5,1333.4 L1383.0,1333.7 L1384.5,1333.9 L1386.0,1334.2 L1387.5,1334.5 L1389.0,1334.8 L1390.5,1335.0 L1392.0,1335.3 L1393.5,1335.5 L1395.0,1335.8 L1396.5,1336.0 L1398.0,1336.3 L1399.5,1336.6 L1401.0,1336.8 L1402.5,1337.0 L1404.0,1337.3 L1405.5,1337.5 L1407.0,1337.8 L1408.5,1338.0 L1410.0,1338.2 L1411.5,1338.5 L1413.0,1338.7 L1414.5,1338.9 L1416.0,1339.1 L1417.5,1339.2 L1419.0,1339.4 L1420.5,1339.6 L1422.0,1339.7 L1423.5,1339.9 L1425.0,1340.0 L1426.5,1340.2 L1428.0,1340.3 L1429.5,1340.5 L1431.0,1340.6 L1432.5,1340.8 L1434.0,1340.9 L1435.5,1341.1 L1437.0,1341.2 L1438.5,1341.4 L1440.0,1341.5 L1441.5,1341.7 L1443.0,1341.8 L1444.5,1342.0 L1446.0,1342.1 L1447.5,1342.3 L1449.0,1342.4 L1450.5,1342.6 L1452.0,1342.7 L1453.5,1342.9 L1455.0,1343.0 L1456.5,1343.2 L1458.0,1343.3 L1459.5,1343.5 L1461.0,1343.6 L1462.5,1343.8 L1464.0,1343.9 L1465.5,1344.0 L1467.0,1344.2 L1468.5,1344.3 L1470.0,1344.4 L1471.5,1344.6 L1473.0,1344.7 L1474.5,1344.8 L1476.0,1344.9 L1477.5,1345.0 L1479.0,1345.1 L1480.5,1345.2 L1482.0,1345.3 L1483.5,1345.4 L1485.0,1345.5 L1486.5,1345.6 L1488.0,1345.7 L1489.5,1345.8 L1491.0,1345.9 L1492.5,1345.9 L1494.0,1346.0 L1495.5,1346.1 L1497.0,1346.1 L1498.5,1346.2 L1500.0,1346.2 L1501.5,1346.3 L1503.0,1346.3 L1504.5,1346.4 L1506.0,1346.4 L1507.5,1346.4 L1509.0,1346.4 L1510.5,1346.4 L1512.0,1346.4 L1513.5,1346.4 L1515.0,1346.4 L1516.5,1346.4 L1518.0,1346.3 L1519.5,1346.3 L1521.0,1346.2 L1522.5,1346.2 L1524.0,1346.1 L1525.5,1346.0 L1527.0,1346.0 L1528.5,1345.9 L1530.0,1345.8 L1531.5,1345.7 L1533.0,1345.5 L1534.5,1345.4 L1536.0,1345.3 L1537.5,1345.2 L1539.0,1345.0 L1540.5,1344.9 L1542.0,1344.8 L1543.5,1344.6 L1545.0,1344.5 L1546.5,1344.3 L1548.0,1344.2 L1549.5,1344.0 L1551.0,1343.9 L1552.5,1343.7 L1554.0,1343.5 L1555.5,1343.3 L1557.0,1343.2 L1558.5,1343.0 L1560.0,1342.8 L1561.5,1342.6 L1563.0,1342.4 L1564.5,1342.2 L1566.0,1341.9 L1567.5,1341.7 L1569.0,1341.5 L1570.5,1341.3 L1572.0,1341.1 L1573.5,1340.8 L1575.0,1340.6 L1576.5,1340.4 L1578.0,1340.1 L1579.5,1339.9 L1581.0,1339.7 L1582.5,1339.4 L1584.0,1339.2 L1585.5,1338.9 L1587.0,1338.7 L1588.5,1338.5 L1590.0,1338.2 L1591.5,1338.0 L1593.0,1337.7 L1594.5,1337.5 L1596.0,1337.2 L1597.5,1337.0 L1599.0,1336.7 L1600.5,1336.4 L1602.0,1336.1 L1603.5,1335.8 L1605.0,1335.5 L1606.5,1335.2 L1608.0,1334.9 L1609.5,1334.6 L1611.0,1334.2 L1612.5,1333.9 L1614.0,1333.6 L1615.5,1333.2 L1617.0,1332.9 L1618.5,1332.5 L1620.0,1332.2 L1621.5,1331.9 L1623.0,1331.5 L1624.5,1331.2 L1626.0,1330.8 L1627.5,1330.5 L1629.0,1330.2 L1630.5,1329.9 L1632.0,1329.5 L1633.5,1329.2 L1635.0,1328.9 L1636.5,1328.6 L1638.0,1328.2 L1639.5,1327.9 L1641.0,1327.6 L1642.5,1327.3 L1644.0,1327.0 L1645.5,1326.7 L1647.0,1326.4 L1648.5,1326.1 L1650.0,1325.8 L1651.5,1325.6 L1653.0,1325.4 L1654.5,1325.1 L1656.0,1324.9 L1657.5,1324.8 L1659.0,1324.6 L1660.5,1324.4 L1662.0,1324.3 L1663.5,1324.1 L1665.0,1324.0 L1666.5,1323.9 L1668.0,1323.7 L1669.5,1323.6 L1671.0,1323.5 L1672.5,1323.4 L1674.0,1323.3 L1675.5,1323.2 L1677.0,1323.1 L1678.5,1323.1 L1680.0,1323.0 L1681.5,1323.0 L1683.0,1323.0 L1684.5,1323.0 L1686.0,1323.0 L1687.5,1323.0 L1689.0,1323.0 L1690.5,1323.1 L1692.0,1323.2 L1693.5,1323.2 L1695.0,1323.4 L1696.5,1323.5 L1698.0,1323.6 L1699.5,1323.7 L1701.0,1323.9 L1702.5,1324.0 L1704.0,1324.2 L1705.5,1324.3 L1707.0,1324.5 L1708.5,1324.7 L1710.0,1324.9 L1711.5,1325.0 L1713.0,1325.2 L1714.5,1325.4 L1716.0,1325.6 L1717.5,1325.9 L1719.0,1326.1 L1720.5,1326.3 L1722.0,1326.5 L1723.5,1326.7 L1725.0,1326.9 L1726.5,1327.1 L1728.0,1327.3 L1729.5,1327.5 L1731.0,1327.7 L1732.5,1328.0 L1734.0,1328.2 L1735.5,1328.4 L1737.0,1328.6 L1738.5,1328.8 L1740.0,1329.0 L1741.5,1329.2 L1743.0,1329.4 L1744.5,1329.6 L1746.0,1329.8 L1747.5,1330.0 L1749.0,1330.3 L1750.5,1330.5 L1752.0,1330.7 L1753.5,1330.9 L1755.0,1331.1 L1756.5,1331.3 L1758.0,1331.5 L1759.5,1331.7 L1761.0,1331.9 L1762.5,1332.2 L1764.0,1332.4 L1765.5,1332.6 L1767.0,1332.8 L1768.5,1333.0 L1770.0,1333.2 L1771.5,1333.4 L1773.0,1333.6 L1774.5,1333.8 L1776.0,1334.0 L1777.5,1334.2 L1779.0,1334.5 L1780.5,1334.7 L1782.0,1334.9 L1783.5,1335.1 L1785.0,1335.3 L1786.5,1335.5 L1788.0,1335.7 L1789.5,1335.9 L1791.0,1336.1 L1792.5,1336.3 L1794.0,1336.5 L1795.5,1336.7 L1797.0,1336.9 L1798.5,1337.1 L1800.0,1337.2 L1801.5,1337.4 L1803.0,1337.6 L1804.5,1337.7 L1806.0,1337.9 L1807.5,1338.0 L1809.0,1338.2 L1810.5,1338.3 L1812.0,1338.5 L1813.5,1338.6 L1815.0,1338.7 L1816.5,1338.9 L1818.0,1339.0 L1819.5,1339.2 L1821.0,1339.3 L1822.5,1339.5 L1824.0,1339.6 L1825.5,1339.7 L1827.0,1339.9 L1828.5,1340.0 L1830.0,1340.1 L1831.5,1340.3 L1833.0,1340.4 L1834.5,1340.5 L1836.0,1340.7 L1837.5,1340.8 L1839.0,1340.9 L1840.5,1341.0 L1842.0,1341.2 L1843.5,1341.3 L1845.0,1341.4 L1846.5,1341.5 L1848.0,1341.6 L1849.5,1341.8 L1851.0,1341.9 L1852.5,1342.0 L1854.0,1342.1 L1855.5,1342.2 L1857.0,1342.4 L1858.5,1342.5 L1860.0,1342.6 L1861.5,1342.7 L1863.0,1342.8 L1864.5,1343.0 L1866.0,1343.1 L1867.5,1343.2 L1869.0,1343.3 L1870.5,1343.5 L1872.0,1343.6 L1873.5,1343.7 L1875.0,1343.8 L1876.5,1344.0 L1878.0,1344.1 L1879.5,1344.2 L1881.0,1344.4 L1882.5,1344.5 L1884.0,1344.6 L1885.5,1344.8 L1887.0,1344.9 L1888.5,1345.0 L1890.0,1345.2 L1891.5,1345.3 L1893.0,1345.4 L1894.5,1345.5 L1896.0,1345.7 L1897.5,1345.8 L1899.0,1345.9 L1900.5,1346.0 L1902.0,1346.2 L1903.5,1346.3 L1905.0,1346.4 L1906.5,1346.5 L1908.0,1346.6 L1909.5,1346.7 L1911.0,1346.8 L1912.5,1346.9 L1914.0,1347.0 L1915.5,1347.0 L1917.0,1347.1 L1918.5,1347.2 L1920.0,1347.3 L1921.5,1347.4 L1923.0,1347.4 L1924.5,1347.5 L1926.0,1347.6 L1927.5,1347.7 L1929.0,1347.7 L1930.5,1347.8 L1932.0,1347.9 L1933.5,1347.9 L1935.0,1348.0 L1936.5,1348.0 L1938.0,1348.1 L1939.5,1348.1 L1941.0,1348.2 L1942.5,1348.3 L1944.0,1348.3 L1945.5,1348.4 L1947.0,1348.4 L1948.5,1348.5 L1950.0,1348.5 L1951.5,1348.5 L1953.0,1348.6 L1954.5,1348.6 L1956.0,1348.7 L1957.5,1348.7 L1959.0,1348.8 L1960.5,1348.8 L1962.0,1348.9 L1963.5,1348.9 L1965.0,1349.0 L1966.5,1349.0 L1968.0,1349.0 L1969.5,1349.1 L1971.0,1349.1 L1972.5,1349.2 L1974.0,1349.2 L1975.5,1349.3 L1977.0,1349.3 L1978.5,1349.4 L1980.0,1349.4 L1981.5,1349.4 L1983.0,1349.5 L1984.5,1349.5 L1986.0,1349.6 L1987.5,1349.6 L1989.0,1349.6 L1990.5,1349.7 L1992.0,1349.7 L1993.5,1349.8 L1995.0,1349.8 L1996.5,1349.8 L1998.0,1349.9 L1999.5,1349.9 L2001.0,1350.0 L2002.5,1350.0 L2004.0,1350.0 L2005.5,1350.1 L2007.0,1350.1 L2008.5,1350.1 L2010.0,1350.2 L2011.5,1350.2 L2013.0,1350.2 L2014.5,1350.3 L2016.0,1350.3 L2017.5,1350.3 L2019.0,1350.4 L2020.5,1350.4 L2022.0,1350.4 L2023.5,1350.5 L2025.0,1350.5 L2026.5,1350.5 L2028.0,1350.6 L2029.5,1350.6 L2031.0,1350.6 L2032.5,1350.6 L2034.0,1350.7 L2035.5,1350.7 L2037.0,1350.7 L2038.5,1350.7 L2040.0,1350.8 L2041.5,1350.8 L2043.0,1350.8 L2044.5,1350.8 L2046.0,1350.9 L2047.5,1350.9 L2049.0,1350.9 L2050.5,1350.9 L2052.0,1350.9 L2053.5,1351.0 L2055.0,1351.0 L2056.5,1351.0 L2058.0,1351.0 L2059.5,1351.0 L2061.0,1351.1 L2062.5,1351.1 L2064.0,1351.1 L2065.5,1351.1 L2067.0,1351.1 L2068.5,1351.2 L2070.0,1351.2 L2071.5,1351.2 L2073.0,1351.2 L2074.5,1351.2 L2076.0,1351.2 L2077.5,1351.3 L2079.0,1351.3 L2080.5,1351.3 L2082.0,1351.3 L2083.5,1351.3 L2085.0,1351.4 L2086.5,1351.4 L2088.0,1351.4 L2089.5,1351.4 L2091.0,1351.4 L2092.5,1351.4 L2094.0,1351.5 L2095.5,1351.5 L2097.0,1351.5 L2098.5,1351.5 L2100.0,1351.5 L2101.5,1351.6 L2103.0,1351.6 L2104.5,1351.6 L2106.0,1351.6 L2107.5,1351.6 L2109.0,1351.6 L2110.5,1351.6 L2112.0,1351.7 L2113.5,1351.7 L2115.0,1351.7 L2116.5,1351.7 L2118.0,1351.7 L2119.5,1351.7 L2121.0,1351.8 L2122.5,1351.8 L2124.0,1351.8 L2125.5,1351.8 L2127.0,1351.8 L2128.5,1351.8 L2130.0,1351.8 L2131.5,1351.9 L2133.0,1351.9 L2134.5,1351.9 L2136.0,1351.9 L2137.5,1351.9 L2139.0,1351.9 L2140.5,1351.9 L2142.0,1351.9 L2143.5,1352.0 L2145.0,1352.0 L2146.5,1352.0 L2148.0,1352.0 L2149.5,1352.0 L2151.0,1352.0 L2152.5,1352.0 L2154.0,1352.0 L2155.5,1352.0 L2157.0,1352.0 L2158.5,1352.1 L2160.0,1352.1 L2161.5,1352.1 L2163.0,1352.1 L2164.5,1352.1 L2166.0,1352.1 L2167.5,1352.1 L2169.0,1352.1 L2170.5,1352.1 L2172.0,1352.1 L2173.5,1352.2 L2175.0,1352.2 L2176.5,1352.2 L2178.0,1352.2 L2179.5,1352.2 L2181.0,1352.2 L2182.5,1352.2 L2184.0,1352.2 L2185.5,1352.2 L2187.0,1352.2 L2188.5,1352.2 L2190.0,1352.3 L2191.5,1352.3 L2193.0,1352.3 L2194.5,1352.3 L2196.0,1352.3 L2197.5,1352.3 L2199.0,1352.3 L2200.5,1352.3 L2202.0,1352.3 L2203.5,1352.3 L2205.0,1352.3 L2206.5,1352.3 L2208.0,1352.3 L2209.5,1352.3 L2211.0,1352.4 L2212.5,1352.4 L2214.0,1352.4 L2215.5,1352.4 L2217.0,1352.4 L2218.5,1352.4 L2220.0,1352.4 L2221.5,1352.4 L2223.0,1352.4 L2224.5,1352.4"/>
</g>
<rect class="ax" x="415.5" y="39.5" width="1809.0" height="1322.5"/>
<rect x="386.00" y="1358.50" width="29.50" height="7.0" rx="2" ry="2" fill="#000"/>
<rect x="399.20" y="1193.19" width="16.30" height="7.0" rx="2" ry="2" fill="#000"/>
<rect x="386.00" y="1027.88" width="29.50" height="7.0" rx="2" ry="2" fill="#000"/>
<rect x="399.20" y="862.56" width="16.30" height="7.0" rx="2" ry="2" fill="#000"/>
<rect x="386.00" y="697.25" width="29.50" height="7.0" rx="2" ry="2" fill="#000"/>
<rect x="399.20" y="531.94" width="16.30" height="7.0" rx="2" ry="2" fill="#000"/>
<rect x="386.00" y="366.62" width="29.50" height="7.0" rx="2" ry="2" fill="#000"/>
<rect x="399.20" y="201.31" width="16.30" height="7.0" rx="2" ry="2" fill="#000"/>
<rect x="386.00" y="36.00" width="29.50" height="7.0" rx="2" ry="2" fill="#000"/>
<rect x="412.00" y="1362.0" width="7.0" height="28.50" rx="2" ry="2" fill="#000"/>
<rect x="562.75" y="1362.0" width="7.0" height="15.80" rx="2" ry="2" fill="#000"/>
<rect x="713.50" y="1362.0" width="7.0" height="28.50" rx="2" ry="2" fill="#000"/>
<rect x="864.25" y="1362.0" width="7.0" height="15.80" rx="2" ry="2" fill="#000"/>
<rect x="1015.00" y="1362.0" width="7.0" height="28.50" rx="2" ry="2" fill="#000"/>
<rect x="1165.75" y="1362.0" width="7.0" height="15.80" rx="2" ry="2" fill="#000"/>
<rect x="1316.50" y="1362.0" width="7.0" height="28.50" rx="2" ry="2" fill="#000"/>
<rect x="1467.25" y="1362.0" width="7.0" height="15.80" rx="2" ry="2" fill="#000"/>
<rect x="1618.00" y="1362.0" width="7.0" height="28.50" rx="2" ry="2" fill="#000"/>
<rect x="1768.75" y="1362.0" width="7.0" height="15.80" rx="2" ry="2" fill="#000"/>
<rect x="1919.50" y="1362.0" width="7.0" height="28.50" rx="2" ry="2" fill="#000"/>
<rect x="2070.25" y="1362.0" width="7.0" height="15.80" rx="2" ry="2" fill="#000"/>
<rect x="2221.00" y="1362.0" width="7.0" height="28.50" rx="2" ry="2" fill="#000"/>
<text class="tl" x="370.5" y="1377.2" text-anchor="end">0</text>
<text class="tl" x="370.5" y="1046.6" text-anchor="end">250000</text>
<text class="tl" x="370.5" y="716.0" text-anchor="end">500000</text>
<text class="tl" x="370.5" y="385.3" text-anchor="end">750000</text>
<text class="tl" x="370.5" y="54.7" text-anchor="end">1000000</text>
<text class="tl" x="414.5" y="1448.2" text-anchor="middle">300</text>
<text class="tl" x="716.0" y="1448.2" text-anchor="middle">400</text>
<text class="tl" x="1017.5" y="1448.2" text-anchor="middle">500</text>
<text class="tl" x="1319.0" y="1448.2" text-anchor="middle">600</text>
<text class="tl" x="1620.5" y="1448.2" text-anchor="middle">700</text>
<text class="tl" x="1922.0" y="1448.2" text-anchor="middle">800</text>
<text class="tl" x="2223.5" y="1448.2" text-anchor="middle">900</text>
<text class="al" style="font-size:66.25px" transform="translate(1321.2,1550.9)" text-anchor="middle">Wavelength (nm)</text>
<text class="al" style="font-size:65.17px" transform="translate(64.1,700.2) rotate(-90)" text-anchor="middle">Luminescence Intensity (a. u.)</text>
</svg></body></html>
